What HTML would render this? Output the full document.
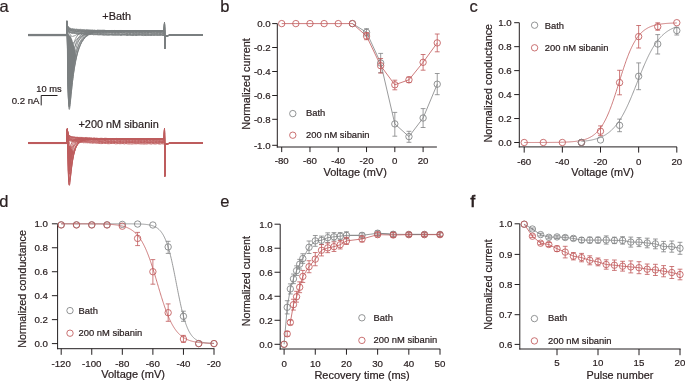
<!DOCTYPE html>
<html><head><meta charset="utf-8"><style>
html,body{margin:0;padding:0;background:#fff;}
body{width:685px;height:381px;overflow:hidden;}
svg{display:block;font-family:"Liberation Sans",sans-serif;will-change:transform;}
text{stroke:#2b2122;stroke-width:0.2px;}
</style></head><body>
<svg width="685" height="381" viewBox="0 0 685 381">
<rect width="685" height="381" fill="#fff"/>
<text x="-0.6" y="12.1" font-size="16.5" text-anchor="start" fill="#2b2122">a</text>
<text x="220.2" y="12.1" font-size="16.5" text-anchor="start" fill="#2b2122">b</text>
<text x="469.6" y="12.4" font-size="16.5" text-anchor="start" fill="#2b2122">c</text>
<text x="-0.8" y="207" font-size="16.5" text-anchor="start" fill="#2b2122">d</text>
<text x="220.2" y="207" font-size="16.5" text-anchor="start" fill="#2b2122">e</text>
<text x="470.4" y="206.7" font-size="16.5" text-anchor="start" fill="#2b2122" style="stroke-width:0.7px">f</text>
<polygon points="66.8,36 67,60 67.4,85 68,100 69,106.5 69.7,108.4 70.1,106 70.2,100 71.2,90 72.3,80 73.6,70 75.2,60 76,56 75,50 73.6,45 72.3,40 70.8,36.5 68,34" fill="#7b7f80" stroke="none"/>
<polygon points="67.4,145 67.6,170 68.1,180 68.8,185.4 69.1,182 69.4,175 70.6,166 72.3,157 73.5,152 71.5,148.5 69.5,145.5 68,144" fill="#bd5c5d" stroke="none"/>
<polyline points="28.2,34.56 66.6,34.56 66.9,22.51 67.15,26.32 67.4,28.93 67.65,29.93 67.9,30.92 68.15,31.37 68.4,31.53 68.65,31.68 68.9,32.23 69.15,31.97 69.4,32.58 69.65,32.35 69.9,32.37 70.15,32.68 70.4,32.67 70.65,32.74 70.9,32.85 71.15,33.19 71.4,33.16 71.65,33.39 71.9,33 72.15,33.35 72.4,33.49 72.65,33.48 72.9,33.25 73.15,33.58 73.4,33.42 73.65,33.22 73.9,33.63 74.15,33.34 74.4,33.63 74.65,33.5 74.9,33.59 75.15,33.62 75.4,33.62 75.65,33.42 75.9,33.92 76.15,33.64 76.4,33.72 76.65,33.87 76.9,33.94 77.15,33.78 77.4,33.83 77.65,33.7 77.9,34.06 78.15,33.99 78.4,34.06 78.65,34.04 78.9,33.94 79.15,33.7 79.4,33.97 79.65,33.96 79.9,33.9 80.15,34.01 80.4,34.06 80.65,33.79 80.9,33.88 81.15,34.23 81.4,34.22 81.65,33.96 81.9,34.19 82.15,33.87 82.4,34.26 82.65,33.95 82.9,34.08 83.15,34 83.4,34.02 83.65,34.31 83.9,34.12 84.15,33.99 84.4,34.2 84.65,34.06 84.9,34.27 85.15,34.33 85.4,34.05 85.65,34.13 85.9,34.15 86.15,34.42 86.4,34.2 86.65,34.5 86.9,34.23 87.15,34.33 87.4,34.3 87.65,34.18 87.9,34.65 88.15,34.33 88.4,34.34 88.65,34.57 88.9,34.33 89.15,34.66 89.4,34.64 89.65,34.52 89.9,34.68 90.15,34.61 90.4,34.46 90.65,34.38 90.9,34.51 91.15,34.35 91.4,34.46 91.65,34.48 91.9,34.78 92.15,34.44 92.4,34.84 92.65,34.53 92.9,34.7 93.15,34.84 93.4,34.83 93.65,34.64 93.9,34.52 94.15,34.45 94.4,34.87 94.65,34.81 94.9,34.86 95.15,34.61 95.4,34.89 95.65,34.94 95.9,34.54 96.15,34.53 96.4,34.52 96.65,34.89 96.9,34.67 98.4,34.93 99.9,34.87 101.4,34.66 102.9,35.1 104.4,35.15 105.9,34.86 107.4,35.17 108.9,35.11 110.4,34.86 111.9,34.85 113.4,35.34 114.9,34.93 116.4,35.01 117.9,34.96 119.4,35.11 120.9,35.4 122.4,35.08 123.9,35.02 125.4,35 126.9,35.49 128.4,35.3 129.9,35.17 131.4,35.48 132.9,35.52 134.4,35.15 135.9,35.54 137.4,35.4 138.9,35.19 140.4,35.23 141.9,35.12 143.4,35.58 144.9,35.41 146.4,35.56 147.9,35.25 149.4,35.26 150.9,35.55 152.4,35.28 153.9,35.4 155.4,35.24 156.9,35.24 158.4,35.4 159.9,35.16 161.4,35.27 162.9,35.38 164.3,35.63 164.5,23.29 164.8,48.57 165.4,36.2 169.4,35.17 202.8,34.67" fill="none" stroke="#7b7f80" stroke-width="0.9" stroke-linejoin="round"/>
<polyline points="28.2,35 66.6,35 66.9,22.28 67.15,26.68 67.4,29 67.65,29.78 67.9,30.47 68.15,30.84 68.4,31.08 68.65,31.27 68.9,31.92 69.15,32.1 69.4,32.17 69.65,32.02 69.9,32.12 70.15,32.48 70.4,32.27 70.65,32.73 70.9,32.67 71.15,32.69 71.4,32.69 71.65,32.59 71.9,32.83 72.15,32.7 72.4,32.78 72.65,32.88 72.9,32.99 73.15,33.13 73.4,32.86 73.65,33.14 73.9,33.13 74.15,33.31 74.4,33.22 74.65,33.11 74.9,33.3 75.15,33.5 75.4,33.39 75.65,33.13 75.9,33.55 76.15,33.52 76.4,33.31 76.65,33.6 76.9,33.54 77.15,33.51 77.4,33.68 77.65,33.54 77.9,33.4 78.15,33.57 78.4,33.33 78.65,33.68 78.9,33.6 79.15,33.72 79.4,33.87 79.65,33.71 79.9,33.87 80.15,33.5 80.4,33.86 80.65,33.81 80.9,33.94 81.15,33.68 81.4,33.72 81.65,33.68 81.9,33.99 82.15,33.61 82.4,33.77 82.65,33.73 82.9,33.97 83.15,33.7 83.4,33.63 83.65,33.94 83.9,33.75 84.15,33.93 84.4,33.97 84.65,34.03 84.9,34.11 85.15,33.99 85.4,34.16 85.65,34.03 85.9,33.9 86.15,34.17 86.4,34.15 86.65,34.27 86.9,34.29 87.15,34.07 87.4,33.98 87.65,34.02 87.9,33.85 88.15,34.09 88.4,34.07 88.65,34.23 88.9,34.22 89.15,34.01 89.4,34.05 89.65,34.37 89.9,34.19 90.15,34.18 90.4,34.16 90.65,34.46 90.9,34.06 91.15,34.25 91.4,34 91.65,34.22 91.9,34.45 92.15,34.39 92.4,34.41 92.65,34.42 92.9,34.38 93.15,34.27 93.4,34.39 93.65,34.47 93.9,34.47 94.15,34.4 94.4,34.24 94.65,34.55 94.9,34.2 95.15,34.37 95.4,34.16 95.65,34.52 95.9,34.33 96.15,34.17 96.4,34.64 96.65,34.38 96.9,34.49 98.4,34.33 99.9,34.41 101.4,34.72 102.9,34.53 104.4,34.75 105.9,34.74 107.4,34.85 108.9,34.77 110.4,34.77 111.9,34.91 113.4,34.7 114.9,35.04 116.4,35 117.9,35.04 119.4,34.77 120.9,35.01 122.4,34.74 123.9,34.74 125.4,34.89 126.9,35.04 128.4,34.82 129.9,34.77 131.4,35.07 132.9,35.1 134.4,35.09 135.9,34.89 137.4,34.94 138.9,34.8 140.4,34.79 141.9,35.21 143.4,34.79 144.9,35.18 146.4,35.09 147.9,35.2 149.4,35.14 150.9,34.99 152.4,34.99 153.9,34.92 155.4,35.04 156.9,34.91 158.4,34.98 159.9,35.27 161.4,34.84 162.9,35.25 164.3,35.1 164.5,22.48 164.8,48.23 165.4,36.2 169.4,35.3 202.8,34.8" fill="none" stroke="#7b7f80" stroke-width="0.9" stroke-linejoin="round"/>
<polyline points="28.2,35.1 66.6,35.1 66.9,22.74 67.15,26.66 67.4,28.35 67.65,29.12 67.9,29.81 68.15,30.27 68.4,30.94 68.65,30.79 68.9,31.4 69.15,31.29 69.4,31.35 69.65,31.76 69.9,31.9 70.15,31.99 70.4,32.07 70.65,32.16 70.9,31.94 71.15,32.27 71.4,32.34 71.65,32.35 71.9,32.32 72.15,32.28 72.4,32.44 72.65,32.62 72.9,32.66 73.15,32.46 73.4,32.45 73.65,32.83 73.9,32.46 74.15,32.86 74.4,32.67 74.65,32.53 74.9,32.76 75.15,32.76 75.4,33.02 75.65,32.87 75.9,33.03 76.15,32.66 76.4,33.03 76.65,32.75 76.9,33.11 77.15,32.88 77.4,32.87 77.65,32.93 77.9,33.18 78.15,33.09 78.4,33.15 78.65,33.33 78.9,33.27 79.15,33.14 79.4,33.31 79.65,32.99 79.9,33.18 80.15,33.11 80.4,32.98 80.65,33.3 80.9,33.14 81.15,33.17 81.4,33.27 81.65,33.11 81.9,33.21 82.15,33.1 82.4,33.32 82.65,33.56 82.9,33.52 83.15,33.58 83.4,33.2 83.65,33.44 83.9,33.56 84.15,33.55 84.4,33.66 84.65,33.41 84.9,33.71 85.15,33.31 85.4,33.59 85.65,33.71 85.9,33.47 86.15,33.31 86.4,33.57 86.65,33.36 86.9,33.63 87.15,33.37 87.4,33.77 87.65,33.44 87.9,33.37 88.15,33.8 88.4,33.53 88.65,33.7 88.9,33.85 89.15,33.76 89.4,33.9 89.65,33.8 89.9,33.95 90.15,33.56 90.4,33.86 90.65,33.73 90.9,33.93 91.15,33.79 91.4,33.94 91.65,33.62 91.9,33.88 92.15,33.6 92.4,33.99 92.65,34.04 92.9,33.85 93.15,33.84 93.4,33.99 93.65,33.8 93.9,33.76 94.15,33.86 94.4,33.89 94.65,33.71 94.9,34.13 95.15,33.93 95.4,33.85 95.65,34.11 95.9,34.12 96.15,34.1 96.4,33.92 96.65,33.88 96.9,33.94 98.4,33.97 99.9,33.96 101.4,33.83 102.9,33.99 104.4,34.19 105.9,34.42 107.4,34.21 108.9,34.33 110.4,34.39 111.9,34.39 113.4,34.54 114.9,34.12 116.4,34.57 117.9,34.12 119.4,34.37 120.9,34.34 122.4,34.57 123.9,34.48 125.4,34.46 126.9,34.37 128.4,34.69 129.9,34.49 131.4,34.56 132.9,34.37 134.4,34.48 135.9,34.68 137.4,34.6 138.9,34.46 140.4,34.42 141.9,34.73 143.4,34.71 144.9,34.48 146.4,34.4 147.9,34.51 149.4,34.8 150.9,34.55 152.4,34.58 153.9,34.69 155.4,34.56 156.9,34.82 158.4,34.79 159.9,34.46 161.4,34.55 162.9,34.75 164.3,34.57 164.5,22.34 164.8,48.39 165.4,36.2 169.4,35.33 202.8,34.83" fill="none" stroke="#7b7f80" stroke-width="0.9" stroke-linejoin="round"/>
<polyline points="28.2,35.25 66.6,35.25 66.9,21.66 67.15,25.74 67.4,28.18 67.65,29.02 67.9,29.52 68.15,30.1 68.4,30.17 68.65,30.55 68.9,30.83 69.15,31.14 69.4,31.12 69.65,31.15 69.9,31.42 70.15,31.65 70.4,31.54 70.65,31.44 70.9,31.58 71.15,31.79 71.4,31.86 71.65,31.75 71.9,31.97 72.15,31.94 72.4,31.78 72.65,32.12 72.9,31.96 73.15,32.37 73.4,32.21 73.65,31.95 73.9,32.04 74.15,32.38 74.4,32.05 74.65,32.41 74.9,32.23 75.15,32.12 75.4,32.19 75.65,32.61 75.9,32.29 76.15,32.33 76.4,32.37 76.65,32.41 76.9,32.57 77.15,32.57 77.4,32.49 77.65,32.62 77.9,32.61 78.15,32.54 78.4,32.68 78.65,32.41 78.9,32.49 79.15,32.63 79.4,32.56 79.65,32.71 79.9,32.67 80.15,32.67 80.4,32.77 80.65,32.94 80.9,32.87 81.15,32.7 81.4,32.64 81.65,32.65 81.9,32.7 82.15,33.03 82.4,33.07 82.65,33.06 82.9,32.87 83.15,32.97 83.4,33.01 83.65,32.99 83.9,33.18 84.15,33.04 84.4,33.01 84.65,32.98 84.9,33.06 85.15,33.24 85.4,33.09 85.65,33.03 85.9,33.16 86.15,32.84 86.4,32.91 86.65,33.03 86.9,33.35 87.15,33.2 87.4,33.29 87.65,33.3 87.9,33.19 88.15,33 88.4,33.39 88.65,33.38 88.9,33.28 89.15,33.35 89.4,33.19 89.65,33.13 89.9,33.21 90.15,33.32 90.4,33.04 90.65,33.47 90.9,33.36 91.15,33.21 91.4,33.54 91.65,33.51 91.9,33.49 92.15,33.44 92.4,33.26 92.65,33.43 92.9,33.34 93.15,33.36 93.4,33.49 93.65,33.36 93.9,33.43 94.15,33.57 94.4,33.35 94.65,33.18 94.9,33.27 95.15,33.52 95.4,33.34 95.65,33.69 95.9,33.68 96.15,33.42 96.4,33.59 96.65,33.5 96.9,33.24 98.4,33.78 99.9,33.66 101.4,33.48 102.9,33.87 104.4,33.52 105.9,33.72 107.4,33.89 108.9,33.88 110.4,33.89 111.9,33.84 113.4,33.98 114.9,33.94 116.4,33.91 117.9,33.89 119.4,33.79 120.9,34.16 122.4,33.84 123.9,34.01 125.4,34.08 126.9,34 128.4,34 129.9,33.84 131.4,33.96 132.9,34.19 134.4,33.86 135.9,34.22 137.4,34.11 138.9,33.98 140.4,33.94 141.9,33.96 143.4,33.9 144.9,33.96 146.4,34.24 147.9,33.94 149.4,34.28 150.9,34.13 152.4,33.95 153.9,33.9 155.4,33.89 156.9,34.05 158.4,34.16 159.9,34.14 161.4,33.99 162.9,34.02 164.3,34.03 164.5,22.99 164.8,47.32 165.4,36.2 169.4,35.37 202.8,34.87" fill="none" stroke="#7b7f80" stroke-width="0.9" stroke-linejoin="round"/>
<polyline points="28.2,34.83 66.6,34.83 66.9,22.35 67.15,25.57 67.4,27.08 67.65,28.17 67.9,28.75 68.15,29.33 68.4,29.71 68.65,29.6 68.9,29.94 69.15,30.43 69.4,30.16 69.65,30.56 69.9,30.46 70.15,30.52 70.4,30.91 70.65,30.83 70.9,30.78 71.15,30.9 71.4,30.9 71.65,31.27 71.9,31.18 72.15,31.12 72.4,31.36 72.65,31.32 72.9,31.59 73.15,31.35 73.4,31.22 73.65,31.26 73.9,31.46 74.15,31.36 74.4,31.55 74.65,31.76 74.9,31.67 75.15,31.57 75.4,31.86 75.65,31.5 75.9,31.69 76.15,31.63 76.4,31.96 76.65,31.52 76.9,31.74 77.15,31.62 77.4,32 77.65,31.59 77.9,32.08 78.15,31.8 78.4,32.02 78.65,31.96 78.9,32.11 79.15,32.14 79.4,32.14 79.65,31.92 79.9,31.88 80.15,32.03 80.4,31.89 80.65,32.17 80.9,32 81.15,32.2 81.4,31.88 81.65,31.84 81.9,32.02 82.15,32.14 82.4,32.17 82.65,32.21 82.9,32.13 83.15,32.33 83.4,32.02 83.65,32.06 83.9,32.04 84.15,32.14 84.4,32.4 84.65,32.43 84.9,32.04 85.15,32.35 85.4,32.18 85.65,32.33 85.9,32.38 86.15,32.17 86.4,32.23 86.65,32.25 86.9,32.25 87.15,32.27 87.4,32.51 87.65,32.59 87.9,32.57 88.15,32.33 88.4,32.62 88.65,32.42 88.9,32.58 89.15,32.38 89.4,32.67 89.65,32.53 89.9,32.69 90.15,32.75 90.4,32.33 90.65,32.57 90.9,32.42 91.15,32.33 91.4,32.48 91.65,32.68 91.9,32.8 92.15,32.83 92.4,32.47 92.65,32.36 92.9,32.41 93.15,32.39 93.4,32.49 93.65,32.64 93.9,32.6 94.15,32.51 94.4,32.76 94.65,32.89 94.9,32.67 95.15,32.45 95.4,32.77 95.65,32.94 95.9,32.82 96.15,32.51 96.4,32.83 96.65,32.97 96.9,32.78 98.4,32.79 99.9,32.92 101.4,33.05 102.9,32.89 104.4,33.03 105.9,33 107.4,33.06 108.9,32.93 110.4,32.83 111.9,33.27 113.4,33.07 114.9,33.33 116.4,33.2 117.9,33.13 119.4,33.1 120.9,32.94 122.4,33.33 123.9,32.98 125.4,33.28 126.9,33.43 128.4,33.05 129.9,33.51 131.4,33.09 132.9,33.51 134.4,33.16 135.9,33.4 137.4,33.44 138.9,33.35 140.4,33.22 141.9,33.34 143.4,33.52 144.9,33.19 146.4,33.4 147.9,33.41 149.4,33.3 150.9,33.18 152.4,33.48 153.9,33.12 155.4,33.27 156.9,33.46 158.4,33.31 159.9,33.56 161.4,33.29 162.9,33.42 164.3,33.5 164.5,22.44 164.8,47.98 165.4,36.2 169.4,35.25 202.8,34.75" fill="none" stroke="#7b7f80" stroke-width="0.9" stroke-linejoin="round"/>
<polyline points="28.2,34.73 66.6,34.73 66.9,20.69 67.15,24.75 67.4,26.98 67.65,27.89 67.9,28.21 68.15,28.56 68.4,29 68.65,29.06 68.9,29.69 69.15,29.38 69.4,29.89 69.65,29.69 69.9,30.05 70.15,29.89 70.4,30.08 70.65,30.2 70.9,30.25 71.15,30.3 71.4,30.37 71.65,30.53 71.9,30.56 72.15,30.5 72.4,30.83 72.65,30.57 72.9,30.57 73.15,30.99 73.4,31 73.65,30.64 73.9,30.82 74.15,30.9 74.4,31.03 74.65,30.83 74.9,30.81 75.15,31.18 75.4,30.94 75.65,31.03 75.9,30.86 76.15,30.96 76.4,31.11 76.65,31.24 76.9,31.36 77.15,31.16 77.4,31.38 77.65,31.44 77.9,31.06 78.15,31.42 78.4,31.3 78.65,31.52 78.9,31.26 79.15,31.27 79.4,31.34 79.65,31.19 79.9,31.42 80.15,31.51 80.4,31.4 80.65,31.26 80.9,31.51 81.15,31.54 81.4,31.66 81.65,31.47 81.9,31.71 82.15,31.7 82.4,31.33 82.65,31.58 82.9,31.69 83.15,31.52 83.4,31.61 83.65,31.8 83.9,31.7 84.15,31.57 84.4,31.88 84.65,31.56 84.9,31.92 85.15,31.57 85.4,31.62 85.65,31.65 85.9,31.96 86.15,31.5 86.4,31.58 86.65,31.97 86.9,31.65 87.15,31.8 87.4,31.83 87.65,31.84 87.9,32.02 88.15,31.83 88.4,31.78 88.65,31.65 88.9,32.01 89.15,31.74 89.4,31.83 89.65,31.84 89.9,32.01 90.15,31.72 90.4,31.79 90.65,31.99 90.9,32.04 91.15,31.73 91.4,31.97 91.65,31.76 91.9,32.03 92.15,31.79 92.4,32.14 92.65,32.27 92.9,32.23 93.15,32.03 93.4,31.84 93.65,32.14 93.9,31.83 94.15,31.99 94.4,32.25 94.65,32 94.9,32.33 95.15,32.18 95.4,32.09 95.65,31.99 95.9,32.21 96.15,32.18 96.4,32.24 96.65,32.09 96.9,32.18 98.4,32.4 99.9,32.23 101.4,32.53 102.9,32.44 104.4,32.48 105.9,32.39 107.4,32.52 108.9,32.59 110.4,32.47 111.9,32.52 113.4,32.64 114.9,32.58 116.4,32.67 117.9,32.55 119.4,32.67 120.9,32.4 122.4,32.55 123.9,32.61 125.4,32.88 126.9,32.9 128.4,32.67 129.9,32.55 131.4,32.47 132.9,32.71 134.4,32.96 135.9,32.6 137.4,32.64 138.9,32.94 140.4,32.64 141.9,32.71 143.4,32.78 144.9,32.82 146.4,32.81 147.9,32.66 149.4,32.52 150.9,32.58 152.4,32.86 153.9,32.84 155.4,32.94 156.9,32.96 158.4,32.9 159.9,32.74 161.4,32.64 162.9,32.98 164.3,32.97 164.5,22.05 164.8,48.51 165.4,36.2 169.4,35.22 202.8,34.72" fill="none" stroke="#7b7f80" stroke-width="0.9" stroke-linejoin="round"/>
<polyline points="28.2,35.57 66.6,35.57 66.9,22.03 67.15,25.72 67.4,26.7 67.65,27.74 67.9,28.36 68.15,28.79 68.4,29.06 68.65,29.33 68.9,29.11 69.15,29.73 69.4,29.67 69.65,29.82 69.9,30.11 70.15,30.01 70.4,29.93 70.65,30.25 70.9,30.42 71.15,30.31 71.4,30.19 71.65,30.22 71.9,30.43 72.15,30.43 72.4,30.57 72.65,30.74 72.9,30.7 73.15,30.82 73.4,30.72 73.65,30.73 73.9,30.8 74.15,30.97 74.4,30.87 74.65,30.97 74.9,30.93 75.15,30.9 75.4,30.95 75.65,30.83 75.9,31.03 76.15,31.14 76.4,31.15 76.65,31.26 76.9,30.99 77.15,31.16 77.4,31.24 77.65,31.01 77.9,31.09 78.15,31.24 78.4,31.12 78.65,31.42 78.9,31.35 79.15,31.09 79.4,31.3 79.65,31.37 79.9,31.24 80.15,31.09 80.4,31.14 80.65,31.44 80.9,31.47 81.15,31.33 81.4,31.44 81.65,31.63 81.9,31.26 82.15,31.65 82.4,31.67 82.65,31.49 82.9,31.28 83.15,31.62 83.4,31.4 83.65,31.43 83.9,31.39 84.15,31.53 84.4,31.34 84.65,31.59 84.9,31.5 85.15,31.78 85.4,31.38 85.65,31.62 85.9,31.73 86.15,31.84 86.4,31.75 86.65,31.82 86.9,31.82 87.15,31.82 87.4,31.64 87.65,31.82 87.9,31.73 88.15,31.81 88.4,31.68 88.65,31.88 88.9,31.7 89.15,31.63 89.4,31.65 89.65,31.88 89.9,31.86 90.15,31.59 90.4,31.98 90.65,31.8 90.9,31.8 91.15,31.95 91.4,32.07 91.65,31.92 91.9,31.86 92.15,31.91 92.4,31.83 92.65,31.78 92.9,31.89 93.15,31.69 93.4,31.83 93.65,31.71 93.9,32.1 94.15,31.93 94.4,32.03 94.65,32 94.9,32.21 95.15,32.02 95.4,32.21 95.65,32 95.9,31.99 96.15,32.08 96.4,31.97 96.65,31.85 96.9,31.86 98.4,31.89 99.9,32.34 101.4,32.08 102.9,32.25 104.4,32.19 105.9,32.32 107.4,32.37 108.9,32.22 110.4,32.27 111.9,32.37 113.4,32.29 114.9,32.53 116.4,32.49 117.9,32.47 119.4,32.61 120.9,32.45 122.4,32.56 123.9,32.59 125.4,32.32 126.9,32.79 128.4,32.72 129.9,32.74 131.4,32.6 132.9,32.39 134.4,32.85 135.9,32.58 137.4,32.82 138.9,32.43 140.4,32.65 141.9,32.69 143.4,32.62 144.9,32.53 146.4,32.74 147.9,32.46 149.4,32.71 150.9,32.76 152.4,32.64 153.9,32.68 155.4,32.76 156.9,32.45 158.4,32.45 159.9,32.58 161.4,32.51 162.9,32.87 164.3,32.43 164.5,22.13 164.8,48.27 165.4,36.2 169.4,35.47 202.8,34.97" fill="none" stroke="#7b7f80" stroke-width="0.9" stroke-linejoin="round"/>
<polyline points="28.2,35.23 66.6,35.23 66.9,22.02 67.15,24.48 67.4,26.26 67.65,27.17 67.9,27.54 68.15,27.88 68.4,28.34 68.65,28.56 68.9,28.7 69.15,28.77 69.4,28.89 69.65,29.3 69.9,29.35 70.15,29.53 70.4,29.59 70.65,29.34 70.9,29.65 71.15,29.64 71.4,29.78 71.65,29.88 71.9,29.69 72.15,29.94 72.4,30.08 72.65,30.01 72.9,29.72 73.15,29.97 73.4,29.83 73.65,30.12 73.9,30.18 74.15,30.11 74.4,30 74.65,30 74.9,30.25 75.15,30.4 75.4,30.26 75.65,30.38 75.9,30.5 76.15,30.11 76.4,30.37 76.65,30.19 76.9,30.4 77.15,30.54 77.4,30.54 77.65,30.52 77.9,30.66 78.15,30.21 78.4,30.68 78.65,30.46 78.9,30.4 79.15,30.48 79.4,30.3 79.65,30.37 79.9,30.81 80.15,30.76 80.4,30.37 80.65,30.58 80.9,30.72 81.15,30.45 81.4,30.59 81.65,30.47 81.9,30.6 82.15,30.73 82.4,30.9 82.65,30.58 82.9,30.95 83.15,30.82 83.4,30.85 83.65,30.71 83.9,30.98 84.15,30.73 84.4,30.83 84.65,31 84.9,30.74 85.15,30.76 85.4,30.73 85.65,31.11 85.9,30.98 86.15,31.13 86.4,30.71 86.65,31.1 86.9,30.87 87.15,31.05 87.4,31.14 87.65,30.79 87.9,30.88 88.15,31.13 88.4,30.79 88.65,31.03 88.9,30.9 89.15,30.93 89.4,31.28 89.65,31.01 89.9,30.86 90.15,31.25 90.4,30.89 90.65,31.11 90.9,31.01 91.15,31 91.4,31.36 91.65,31.26 91.9,30.94 92.15,30.95 92.4,31.19 92.65,31.43 92.9,31.04 93.15,31.04 93.4,31.03 93.65,31.09 93.9,31.14 94.15,31.28 94.4,31.28 94.65,31.17 94.9,31.28 95.15,31.49 95.4,31.07 95.65,31.22 95.9,31.27 96.15,31.44 96.4,31.5 96.65,31.12 96.9,31.16 98.4,31.34 99.9,31.21 101.4,31.58 102.9,31.71 104.4,31.58 105.9,31.58 107.4,31.43 108.9,31.62 110.4,31.82 111.9,31.44 113.4,31.87 114.9,31.76 116.4,31.58 117.9,31.79 119.4,31.99 120.9,31.87 122.4,31.59 123.9,31.81 125.4,31.77 126.9,31.89 128.4,31.83 129.9,31.79 131.4,31.91 132.9,31.94 134.4,31.99 135.9,32.05 137.4,31.87 138.9,31.7 140.4,32.12 141.9,32.06 143.4,31.91 144.9,32.13 146.4,31.83 147.9,32.08 149.4,31.77 150.9,32.05 152.4,32.08 153.9,31.91 155.4,31.84 156.9,31.73 158.4,32.04 159.9,31.84 161.4,31.81 162.9,32.05 164.3,31.9 164.5,23.17 164.8,48.12 165.4,36.2 169.4,35.37 202.8,34.87" fill="none" stroke="#7b7f80" stroke-width="0.9" stroke-linejoin="round"/>
<polyline points="28.2,35.37 66.6,35.37 66.9,22.11 67.15,24.85 67.4,26.05 67.65,26.26 67.9,26.95 68.15,27.5 68.4,27.49 68.65,27.84 68.9,28.09 69.15,28.45 69.4,28.5 69.65,28.88 69.9,28.69 70.15,28.6 70.4,29 70.65,29.19 70.9,29.32 71.15,29.4 71.4,29.39 71.65,29.38 71.9,29.33 72.15,29.29 72.4,29.2 72.65,29.58 72.9,29.46 73.15,29.53 73.4,29.56 73.65,29.83 73.9,29.51 74.15,29.75 74.4,29.7 74.65,29.63 74.9,29.91 75.15,29.61 75.4,29.85 75.65,29.98 75.9,30.06 76.15,29.71 76.4,30.01 76.65,29.7 76.9,29.73 77.15,29.94 77.4,30.08 77.65,29.73 77.9,30.09 78.15,30.04 78.4,30.21 78.65,30.24 78.9,29.83 79.15,30.03 79.4,30.04 79.65,30.21 79.9,29.99 80.15,29.9 80.4,30.38 80.65,30.21 80.9,30.21 81.15,30.01 81.4,30.38 81.65,30.07 81.9,30.1 82.15,30.46 82.4,30.4 82.65,30.46 82.9,30.25 83.15,30.41 83.4,30.11 83.65,30.17 83.9,30.32 84.15,30.33 84.4,30.59 84.65,30.18 84.9,30.54 85.15,30.45 85.4,30.27 85.65,30.2 85.9,30.57 86.15,30.49 86.4,30.72 86.65,30.37 86.9,30.31 87.15,30.39 87.4,30.43 87.65,30.3 87.9,30.62 88.15,30.7 88.4,30.78 88.65,30.55 88.9,30.73 89.15,30.8 89.4,30.71 89.65,30.4 89.9,30.61 90.15,30.72 90.4,30.78 90.65,30.92 90.9,30.89 91.15,30.74 91.4,30.62 91.65,30.48 91.9,30.87 92.15,30.78 92.4,30.57 92.65,30.86 92.9,30.99 93.15,30.85 93.4,30.72 93.65,30.74 93.9,30.62 94.15,31.04 94.4,31.01 94.65,30.82 94.9,30.88 95.15,30.78 95.4,30.95 95.65,30.97 95.9,30.92 96.15,30.75 96.4,30.63 96.65,30.97 96.9,30.69 98.4,30.91 99.9,30.74 101.4,31.17 102.9,30.81 104.4,30.85 105.9,31.27 107.4,31.31 108.9,31.4 110.4,31.35 111.9,31.25 113.4,31.42 114.9,31.42 116.4,31.28 117.9,31.38 119.4,31.49 120.9,31.48 122.4,31.1 123.9,31.16 125.4,31.56 126.9,31.27 128.4,31.61 129.9,31.55 131.4,31.22 132.9,31.28 134.4,31.57 135.9,31.63 137.4,31.38 138.9,31.25 140.4,31.55 141.9,31.4 143.4,31.33 144.9,31.3 146.4,31.54 147.9,31.66 149.4,31.3 150.9,31.46 152.4,31.3 153.9,31.4 155.4,31.35 156.9,31.68 158.4,31.43 159.9,31.76 161.4,31.34 162.9,31.31 164.3,31.37 164.5,23.2 164.8,48.39 165.4,36.2 169.4,35.41 202.8,34.91" fill="none" stroke="#7b7f80" stroke-width="0.9" stroke-linejoin="round"/>
<polyline points="28.2,34.66 66.6,34.66 66.9,21.4 67.15,24.33 67.4,25.46 67.65,25.8 67.9,26.4 68.15,26.87 68.4,26.97 68.65,27.55 68.9,27.31 69.15,27.94 69.4,27.98 69.65,28.21 69.9,28.22 70.15,28.16 70.4,28.17 70.65,28.62 70.9,28.39 71.15,28.46 71.4,28.7 71.65,28.78 71.9,28.63 72.15,28.9 72.4,28.66 72.65,28.76 72.9,28.63 73.15,29.13 73.4,29.06 73.65,28.98 73.9,28.96 74.15,28.81 74.4,29.09 74.65,29.06 74.9,29.1 75.15,29.27 75.4,29.35 75.65,29.03 75.9,29.22 76.15,29.11 76.4,29.11 76.65,29.16 76.9,29.19 77.15,29.18 77.4,29.52 77.65,29.33 77.9,29.25 78.15,29.29 78.4,29.33 78.65,29.63 78.9,29.42 79.15,29.63 79.4,29.5 79.65,29.38 79.9,29.39 80.15,29.31 80.4,29.62 80.65,29.29 80.9,29.48 81.15,29.68 81.4,29.35 81.65,29.57 81.9,29.77 82.15,29.78 82.4,29.5 82.65,29.56 82.9,29.44 83.15,29.92 83.4,29.78 83.65,29.69 83.9,29.98 84.15,29.79 84.4,29.61 84.65,29.57 84.9,29.74 85.15,29.94 85.4,30.03 85.65,29.82 85.9,29.91 86.15,29.71 86.4,29.75 86.65,29.66 86.9,30.01 87.15,29.8 87.4,29.68 87.65,29.8 87.9,29.7 88.15,29.7 88.4,29.7 88.65,29.76 88.9,30.07 89.15,30.13 89.4,30.07 89.65,30.12 89.9,29.97 90.15,29.78 90.4,30.1 90.65,30.22 90.9,30.27 91.15,30.03 91.4,29.87 91.65,30.11 91.9,30.18 92.15,30.15 92.4,29.99 92.65,30 92.9,29.96 93.15,30.07 93.4,30.15 93.65,30.34 93.9,29.93 94.15,30.01 94.4,30.02 94.65,30.25 94.9,30.08 95.15,30.15 95.4,30.4 95.65,30.45 95.9,30.41 96.15,30.42 96.4,30.14 96.65,30.44 96.9,30.09 98.4,30.13 99.9,30.23 101.4,30.24 102.9,30.2 104.4,30.21 105.9,30.55 107.4,30.68 108.9,30.51 110.4,30.63 111.9,30.44 113.4,30.56 114.9,30.43 116.4,30.76 117.9,30.71 119.4,30.5 120.9,30.48 122.4,30.53 123.9,30.83 125.4,30.84 126.9,30.56 128.4,30.78 129.9,30.97 131.4,31.01 132.9,30.64 134.4,30.9 135.9,30.63 137.4,30.85 138.9,30.73 140.4,30.62 141.9,30.93 143.4,30.96 144.9,30.74 146.4,30.65 147.9,31 149.4,30.73 150.9,31.05 152.4,30.66 153.9,30.73 155.4,30.76 156.9,30.94 158.4,30.92 159.9,31.14 161.4,30.93 162.9,30.69 164.3,31.1 164.5,22.79 164.8,48.53 165.4,36.2 169.4,35.2 202.8,34.7" fill="none" stroke="#7b7f80" stroke-width="0.9" stroke-linejoin="round"/>
<polyline points="28.2,35.08 66.6,35.08 66.9,21.84 67.15,24.33 67.4,25.65 67.65,26.33 67.9,26.66 68.15,27.13 68.4,27.49 68.65,27.45 68.9,28.15 69.15,28.09 69.4,28.28 69.65,28.28 69.9,28.59 70.15,28.58 70.4,28.74 70.65,28.74 70.9,29 71.15,29.29 71.4,28.98 71.65,29.36 71.9,29.22 72.15,29.14 72.4,29.34 72.65,29.28 72.9,29.63 73.15,29.77 73.4,29.59 73.65,29.64 73.9,29.86 74.15,29.64 74.4,29.71 74.65,29.79 74.9,29.82 75.15,29.94 75.4,29.96 75.65,29.98 75.9,29.65 76.15,29.84 76.4,29.87 76.65,30.1 76.9,29.82 77.15,29.86 77.4,30.15 77.65,29.78 77.9,29.87 78.15,30.17 78.4,30.13 78.65,30.14 78.9,30.2 79.15,29.82 79.4,30.27 79.65,30.1 79.9,30.06 80.15,30.08 80.4,29.89 80.65,30.23 80.9,29.91 81.15,30.32 81.4,30.35 81.65,30.07 81.9,29.93 82.15,29.9 82.4,30.08 82.65,30.23 82.9,30.32 83.15,30.09 83.4,30.31 83.65,30.06 83.9,30.13 84.15,30 84.4,30.07 84.65,30.47 84.9,30.4 85.15,30.45 85.4,30.38 85.65,30.48 85.9,30.53 86.15,30.18 86.4,30.3 86.65,30.21 86.9,30.19 87.15,30.3 87.4,30.09 87.65,30.48 87.9,30.56 88.15,30.57 88.4,30.29 88.65,30.62 88.9,30.41 89.15,30.22 89.4,30.22 89.65,30.64 89.9,30.23 90.15,30.61 90.4,30.2 90.65,30.32 90.9,30.27 91.15,30.23 91.4,30.57 91.65,30.37 91.9,30.43 92.15,30.45 92.4,30.47 92.65,30.25 92.9,30.67 93.15,30.65 93.4,30.76 93.65,30.66 93.9,30.63 94.15,30.65 94.4,30.4 94.65,30.6 94.9,30.41 95.15,30.76 95.4,30.49 95.65,30.72 95.9,30.43 96.15,30.6 96.4,30.69 96.65,30.52 96.9,30.44 98.4,30.81 99.9,30.87 101.4,30.94 102.9,30.5 104.4,30.62 105.9,30.7 107.4,30.8 108.9,30.6 110.4,30.76 111.9,30.78 113.4,30.78 114.9,30.79 116.4,30.99 117.9,31.02 119.4,30.76 120.9,30.72 122.4,30.84 123.9,31.19 125.4,31.01 126.9,30.86 128.4,30.78 129.9,31.24 131.4,31.14 132.9,31.06 134.4,31.28 135.9,31 137.4,31.16 138.9,31.07 140.4,31.16 141.9,30.99 143.4,31.08 144.9,31.1 146.4,30.94 147.9,31.09 149.4,31.16 150.9,30.88 152.4,31.11 153.9,31.01 155.4,30.89 156.9,31.06 158.4,30.87 159.9,31.19 161.4,31.18 162.9,31.01 164.3,31.1 164.5,23.43 164.8,47.51 165.4,36.2 169.4,35.32 202.8,34.82" fill="none" stroke="#7b7f80" stroke-width="0.9" stroke-linejoin="round"/>
<polyline points="28.2,34.77 66.6,34.77 66.9,21.45 67.15,23.99 67.4,25.52 67.65,26.01 67.9,26.66 68.15,27.52 68.4,27.6 68.65,28.33 68.9,28.56 69.15,28.73 69.4,28.98 69.65,29.71 69.9,29.79 70.15,29.86 70.4,30.41 70.65,30.55 70.9,30.67 71.15,30.49 71.4,30.5 71.65,30.84 71.9,30.85 72.15,31.11 72.4,30.86 72.65,31.05 72.9,31.36 73.15,31.41 73.4,31.14 73.65,31.04 73.9,31.24 74.15,31.28 74.4,31.25 74.65,31.23 74.9,31.15 75.15,31.35 75.4,31.33 75.65,31.2 75.9,31.09 76.15,31.07 76.4,31.41 76.65,31.44 76.9,31.08 77.15,30.96 77.4,31.14 77.65,31.35 77.9,31.3 78.15,31.13 78.4,30.99 78.65,31.21 78.9,31.05 79.15,31.05 79.4,30.86 79.65,31.11 79.9,31.2 80.15,31.09 80.4,30.92 80.65,31.14 80.9,31.09 81.15,31.02 81.4,31.08 81.65,31.11 81.9,31.12 82.15,30.73 82.4,30.85 82.65,30.84 82.9,30.85 83.15,30.78 83.4,30.8 83.65,31.15 83.9,31.06 84.15,30.66 84.4,30.83 84.65,31.03 84.9,30.63 85.15,30.62 85.4,30.89 85.65,31.01 85.9,30.61 86.15,31.02 86.4,30.65 86.65,30.59 86.9,30.82 87.15,30.86 87.4,30.8 87.65,30.66 87.9,30.79 88.15,30.87 88.4,30.77 88.65,30.94 88.9,30.99 89.15,31 89.4,30.98 89.65,30.57 89.9,30.82 90.15,30.85 90.4,30.62 90.65,30.95 90.9,30.56 91.15,30.66 91.4,30.54 91.65,30.92 91.9,30.69 92.15,30.77 92.4,30.59 92.65,30.92 92.9,30.65 93.15,30.57 93.4,30.56 93.65,30.72 93.9,30.95 94.15,30.69 94.4,30.87 94.65,30.81 94.9,30.71 95.15,30.55 95.4,30.68 95.65,30.62 95.9,30.71 96.15,30.68 96.4,30.82 96.65,30.6 96.9,30.78 98.4,30.94 99.9,30.65 101.4,30.81 102.9,30.52 104.4,30.69 105.9,30.54 107.4,30.52 108.9,30.56 110.4,30.8 111.9,31.03 113.4,30.88 114.9,30.73 116.4,31.04 117.9,30.74 119.4,30.99 120.9,30.63 122.4,30.92 123.9,30.98 125.4,30.71 126.9,30.94 128.4,31.1 129.9,30.78 131.4,30.94 132.9,31.03 134.4,30.66 135.9,31.14 137.4,30.66 138.9,30.71 140.4,30.99 141.9,30.95 143.4,31.13 144.9,31.12 146.4,30.79 147.9,30.77 149.4,30.91 150.9,31.15 152.4,30.87 153.9,30.83 155.4,30.84 156.9,31.1 158.4,31.16 159.9,31.11 161.4,31.19 162.9,30.75 164.3,31.1 164.5,23.15 164.8,48.14 165.4,36.2 169.4,35.23 202.8,34.73" fill="none" stroke="#7b7f80" stroke-width="0.9" stroke-linejoin="round"/>
<polyline points="28.2,35.17 66.6,35.17 66.9,21.41 67.15,24.48 67.4,25.49 67.65,26.82 67.9,28.13 68.15,29.12 68.4,30 68.65,30.59 68.9,31.75 69.15,32.4 69.4,33.26 69.65,33.48 69.9,34.19 70.15,34.64 70.4,35.22 70.65,35.39 70.9,35.51 71.15,35.96 71.4,36.06 71.65,36.11 71.9,36.25 72.15,36.01 72.4,36.29 72.65,35.94 72.9,36.21 73.15,35.92 73.4,36.05 73.65,36.11 73.9,35.92 74.15,35.8 74.4,35.82 74.65,35.77 74.9,35.71 75.15,35.52 75.4,35.28 75.65,35.41 75.9,35.17 76.15,34.9 76.4,34.75 76.65,34.88 76.9,34.54 77.15,34.68 77.4,34.73 77.65,34.58 77.9,34.31 78.15,34.5 78.4,34.4 78.65,34.37 78.9,34.24 79.15,33.88 79.4,34.08 79.65,33.81 79.9,33.93 80.15,33.7 80.4,33.47 80.65,33.36 80.9,33.45 81.15,33.53 81.4,33.23 81.65,33.33 81.9,33.4 82.15,33.08 82.4,33.08 82.65,33.27 82.9,33.21 83.15,32.73 83.4,33.06 83.65,32.83 83.9,32.77 84.15,32.52 84.4,32.49 84.65,32.9 84.9,32.64 85.15,32.69 85.4,32.65 85.65,32.72 85.9,32.46 86.15,32.42 86.4,32.58 86.65,32.47 86.9,32.21 87.15,32.5 87.4,32.04 87.65,32.38 87.9,32.21 88.15,32.06 88.4,32.23 88.65,32.17 88.9,31.81 89.15,32.13 89.4,32.07 89.65,31.89 89.9,31.88 90.15,31.81 90.4,31.98 90.65,31.67 90.9,31.9 91.15,31.77 91.4,31.83 91.65,31.91 91.9,31.55 92.15,31.79 92.4,31.87 92.65,31.54 92.9,31.75 93.15,31.89 93.4,31.58 93.65,31.49 93.9,31.76 94.15,31.36 94.4,31.66 94.65,31.31 94.9,31.54 95.15,31.36 95.4,31.3 95.65,31.39 95.9,31.47 96.15,31.66 96.4,31.43 96.65,31.21 96.9,31.33 98.4,31.34 99.9,31.08 101.4,31.28 102.9,31.1 104.4,31.14 105.9,31.35 107.4,31.25 108.9,31.05 110.4,30.95 111.9,30.89 113.4,30.96 114.9,31.31 116.4,31.27 117.9,30.96 119.4,30.85 120.9,31.05 122.4,30.83 123.9,31.25 125.4,30.9 126.9,31.07 128.4,30.98 129.9,31.22 131.4,30.95 132.9,31.15 134.4,31.19 135.9,31.09 137.4,30.89 138.9,31.03 140.4,30.92 141.9,31.23 143.4,31.04 144.9,30.91 146.4,31.32 147.9,31.11 149.4,31.18 150.9,31.31 152.4,31.18 153.9,31.34 155.4,30.97 156.9,31.09 158.4,31.27 159.9,30.97 161.4,31.21 162.9,30.96 164.3,31.1 164.5,22.97 164.8,48.61 165.4,36.2 169.4,35.35 202.8,34.85" fill="none" stroke="#7b7f80" stroke-width="0.9" stroke-linejoin="round"/>
<polyline points="28.2,35.1 66.6,35.1 66.9,22.2 67.15,24.33 67.4,26.78 67.65,28.71 67.9,30.81 68.15,33.18 68.4,35.28 68.65,37.19 68.9,38.83 69.15,40.24 69.4,41.5 69.65,42.38 69.9,43.13 70.15,43.96 70.4,44.3 70.65,44.71 70.9,44.41 71.15,44.87 71.4,44.59 71.65,44.44 71.9,44.43 72.15,44.03 72.4,43.87 72.65,43.61 72.9,43.74 73.15,43.49 73.4,42.97 73.65,42.46 73.9,42.3 74.15,42.33 74.4,42.1 74.65,41.78 74.9,41.34 75.15,41.2 75.4,40.76 75.65,40.55 75.9,40.42 76.15,40.24 76.4,39.92 76.65,39.81 76.9,39.25 77.15,39.06 77.4,38.85 77.65,38.43 77.9,38.45 78.15,38.12 78.4,37.84 78.65,37.85 78.9,37.65 79.15,37.27 79.4,37.43 79.65,37.38 79.9,36.73 80.15,36.81 80.4,36.68 80.65,36.23 80.9,36.17 81.15,35.96 81.4,35.97 81.65,36.02 81.9,35.65 82.15,35.59 82.4,35.58 82.65,35.59 82.9,35.16 83.15,35.28 83.4,34.83 83.65,35.11 83.9,35.02 84.15,34.54 84.4,34.39 84.65,34.53 84.9,34.58 85.15,34.45 85.4,34.19 85.65,33.89 85.9,33.82 86.15,33.75 86.4,33.65 86.65,33.65 86.9,33.67 87.15,33.63 87.4,33.74 87.65,33.45 87.9,33.35 88.15,33.31 88.4,33.32 88.65,32.99 88.9,32.99 89.15,32.8 89.4,32.83 89.65,32.7 89.9,32.74 90.15,32.81 90.4,32.97 90.65,32.75 90.9,32.58 91.15,32.75 91.4,32.41 91.65,32.49 91.9,32.65 92.15,32.22 92.4,32.29 92.65,32.15 92.9,32.23 93.15,32.16 93.4,32.29 93.65,32 93.9,32.11 94.15,31.94 94.4,31.87 94.65,31.88 94.9,31.92 95.15,32.24 95.4,31.95 95.65,31.73 95.9,31.88 96.15,31.82 96.4,31.76 96.65,31.71 96.9,31.64 98.4,31.87 99.9,31.46 101.4,31.27 102.9,31.36 104.4,31.08 105.9,31.07 107.4,31.34 108.9,31.36 110.4,30.97 111.9,31.03 113.4,30.95 114.9,31.05 116.4,30.9 117.9,30.87 119.4,31.01 120.9,31.12 122.4,31.11 123.9,30.86 125.4,31.07 126.9,30.91 128.4,31.2 129.9,31.09 131.4,31.08 132.9,31.17 134.4,30.95 135.9,31.2 137.4,30.91 138.9,31.04 140.4,31.04 141.9,30.88 143.4,30.88 144.9,31.3 146.4,31.18 147.9,31.27 149.4,31.23 150.9,30.98 152.4,31.23 153.9,31.06 155.4,30.89 156.9,30.94 158.4,31.34 159.9,31.25 161.4,31.34 162.9,31.14 164.3,31.1 164.5,23.08 164.8,48.28 165.4,36.2 169.4,35.33 202.8,34.83" fill="none" stroke="#7b7f80" stroke-width="0.9" stroke-linejoin="round"/>
<polyline points="28.2,35.25 66.6,35.25 66.9,22.78 67.15,25.06 67.4,29.07 67.65,34.03 67.9,38.97 68.15,43.75 68.4,47.89 68.65,51.08 68.9,53.88 69.15,55.45 69.4,56.46 69.65,57.26 69.9,57.58 70.15,57.74 70.4,57.52 70.65,56.89 70.9,56.55 71.15,55.89 71.4,55.11 71.65,54.63 71.9,54.09 72.15,53.54 72.4,52.64 72.65,51.73 72.9,51.4 73.15,50.47 73.4,50.12 73.65,49.23 73.9,48.81 74.15,48.02 74.4,47.78 74.65,47.14 74.9,46.54 75.15,45.91 75.4,45.64 75.65,44.92 75.9,44.33 76.15,43.75 76.4,43.48 76.65,43.06 76.9,42.43 77.15,42.34 77.4,41.76 77.65,41.5 77.9,41.31 78.15,40.78 78.4,40.48 78.65,40.31 78.9,39.6 79.15,39.59 79.4,38.99 79.65,38.91 79.9,38.66 80.15,38.25 80.4,38.31 80.65,38.08 80.9,37.47 81.15,37.43 81.4,37.32 81.65,37.08 81.9,36.65 82.15,36.29 82.4,36.48 82.65,36.3 82.9,35.97 83.15,35.9 83.4,35.59 83.65,35.46 83.9,35.3 84.15,35.19 84.4,34.8 84.65,34.81 84.9,34.94 85.15,34.71 85.4,34.64 85.65,34.56 85.9,33.99 86.15,33.95 86.4,33.9 86.65,34 86.9,33.53 87.15,33.74 87.4,33.78 87.65,33.5 87.9,33.17 88.15,33.35 88.4,33.14 88.65,33.1 88.9,32.81 89.15,33.2 89.4,32.67 89.65,32.78 89.9,32.64 90.15,32.87 90.4,32.85 90.65,32.55 90.9,32.37 91.15,32.64 91.4,32.21 91.65,32.32 91.9,32.54 92.15,32.11 92.4,32.46 92.65,32.19 92.9,32.35 93.15,32.35 93.4,31.99 93.65,32.13 93.9,31.85 94.15,32.2 94.4,31.8 94.65,31.98 94.9,32.07 95.15,31.71 95.4,31.72 95.65,31.76 95.9,31.59 96.15,31.72 96.4,31.55 96.65,31.62 96.9,31.77 98.4,31.52 99.9,31.21 101.4,31.28 102.9,31.13 104.4,31.35 105.9,31.37 107.4,31.29 108.9,30.95 110.4,31.22 111.9,31.27 113.4,31.29 114.9,31.07 116.4,30.98 117.9,31.29 119.4,31.2 120.9,31.11 122.4,30.88 123.9,31.07 125.4,30.97 126.9,30.99 128.4,31.05 129.9,31.32 131.4,31.23 132.9,31.18 134.4,31.23 135.9,31.06 137.4,31.1 138.9,30.93 140.4,31.31 141.9,31.25 143.4,31.1 144.9,31.17 146.4,31.13 147.9,31.14 149.4,31.09 150.9,31.13 152.4,31.19 153.9,31.26 155.4,31 156.9,31.13 158.4,31.33 159.9,31.31 161.4,31.37 162.9,31.18 164.3,31.1 164.5,22.72 164.8,48.68 165.4,36.2 169.4,35.37 202.8,34.87" fill="none" stroke="#7b7f80" stroke-width="0.9" stroke-linejoin="round"/>
<polyline points="28.2,35.3 66.6,35.3 66.9,23.09 67.15,26.75 67.4,34.85 67.65,45.46 67.9,55.84 68.15,64.61 68.4,71.51 68.65,76.19 68.9,78.63 69.15,80.56 69.4,80.84 69.65,81.18 69.9,80.23 70.15,79.49 70.4,78.43 70.65,77.05 70.9,75.56 71.15,74.37 71.4,72.84 71.65,71.28 71.9,69.95 72.15,68.96 72.4,67.53 72.65,66.06 72.9,64.89 73.15,63.53 73.4,62.37 73.65,61.14 73.9,60.49 74.15,59.18 74.4,58.42 74.65,57.19 74.9,56.06 75.15,55.16 75.4,54.37 75.65,53.67 75.9,52.86 76.15,51.96 76.4,51.17 76.65,50.64 76.9,49.97 77.15,48.84 77.4,48.58 77.65,47.84 77.9,46.93 78.15,46.56 78.4,45.98 78.65,45.4 78.9,44.82 79.15,44.22 79.4,44.01 79.65,43.58 79.9,42.9 80.15,42.38 80.4,42.05 80.65,41.98 80.9,41.19 81.15,41.08 81.4,40.46 81.65,40.47 81.9,39.88 82.15,39.41 82.4,39.28 82.65,38.9 82.9,38.87 83.15,38.58 83.4,38.01 83.65,37.94 83.9,37.44 84.15,37.52 84.4,37.4 84.65,36.99 84.9,36.8 85.15,36.29 85.4,36.31 85.65,35.95 85.9,35.96 86.15,35.92 86.4,35.63 86.65,35.31 86.9,35.19 87.15,34.89 87.4,34.97 87.65,34.77 87.9,34.93 88.15,34.35 88.4,34.33 88.65,34.21 88.9,34.3 89.15,34.26 89.4,33.99 89.65,33.72 89.9,33.78 90.15,33.7 90.4,33.66 90.65,33.6 90.9,33.63 91.15,33.42 91.4,33.38 91.65,33.39 91.9,33.22 92.15,32.8 92.4,33.15 92.65,33.05 92.9,32.78 93.15,32.96 93.4,32.63 93.65,32.69 93.9,32.59 94.15,32.44 94.4,32.46 94.65,32.46 94.9,32.43 95.15,32.26 95.4,32.24 95.65,32.18 95.9,32.16 96.15,32.38 96.4,32.05 96.65,32.3 96.9,32.2 98.4,31.81 99.9,31.52 101.4,31.43 102.9,31.29 104.4,31.57 105.9,31.16 107.4,31.22 108.9,31.17 110.4,31.13 111.9,31.17 113.4,31.22 114.9,31.35 116.4,30.99 117.9,31.29 119.4,31.07 120.9,31.26 122.4,31.21 123.9,31.31 125.4,31.3 126.9,31.18 128.4,31.4 129.9,31.01 131.4,31.34 132.9,31.06 134.4,31.33 135.9,31.4 137.4,31.37 138.9,31.28 140.4,31.31 141.9,31.04 143.4,31.28 144.9,31.19 146.4,31.45 147.9,31.29 149.4,31.1 150.9,31.06 152.4,31.01 153.9,31.02 155.4,31.33 156.9,31.13 158.4,31.25 159.9,31.14 161.4,31.23 162.9,31.07 164.3,31.1 164.5,23.16 164.8,47.88 165.4,36.2 169.4,35.39 202.8,34.89" fill="none" stroke="#7b7f80" stroke-width="0.9" stroke-linejoin="round"/>
<polyline points="28.2,34.4 66.6,34.4 66.9,20.76 67.15,27.48 67.4,40.53 67.65,56.44 67.9,71.59 68.15,82.97 68.4,91.08 68.65,96.57 68.9,99.27 69.15,100.83 69.4,100.51 69.65,99.96 69.9,98.19 70.15,96.7 70.4,94.98 70.65,92.66 70.9,90.76 71.15,88.65 71.4,86.62 71.65,84.69 71.9,82.74 72.15,80.73 72.4,78.72 72.65,77.21 72.9,75.08 73.15,73.74 73.4,72.25 73.65,70.58 73.9,69.05 74.15,67.56 74.4,66.01 74.65,64.58 74.9,63.38 75.15,62.4 75.4,61.28 75.65,59.74 75.9,58.73 76.15,57.54 76.4,56.97 76.65,55.69 76.9,54.93 77.15,54.01 77.4,53.18 77.65,51.92 77.9,51.13 78.15,50.49 78.4,49.73 78.65,49.19 78.9,48.51 79.15,47.59 79.4,47.03 79.65,46.57 79.9,45.7 80.15,45.43 80.4,44.53 80.65,44.25 80.9,43.58 81.15,43.19 81.4,42.55 81.65,42.21 81.9,41.8 82.15,41.24 82.4,40.84 82.65,40.89 82.9,40.28 83.15,39.68 83.4,39.66 83.65,39.2 83.9,38.89 84.15,38.49 84.4,38.46 84.65,37.82 84.9,37.7 85.15,37.38 85.4,37.04 85.65,36.95 85.9,36.99 86.15,36.61 86.4,36.28 86.65,36.21 86.9,35.67 87.15,35.74 87.4,35.49 87.65,35.5 87.9,35.42 88.15,34.98 88.4,34.63 88.65,34.85 88.9,34.53 89.15,34.26 89.4,34.23 89.65,34.37 89.9,34.06 90.15,33.73 90.4,33.69 90.65,33.72 90.9,33.59 91.15,33.46 91.4,33.49 91.65,33.4 91.9,33.28 92.15,33.25 92.4,32.97 92.65,33.12 92.9,32.77 93.15,32.99 93.4,32.49 93.65,32.53 93.9,32.81 94.15,32.43 94.4,32.3 94.65,32.39 94.9,32.27 95.15,32.48 95.4,32.38 95.65,32.18 95.9,32.24 96.15,32.23 96.4,31.86 96.65,31.8 96.9,32.03 98.4,31.89 99.9,31.64 101.4,31.55 102.9,31.32 104.4,30.94 105.9,30.99 107.4,31.08 108.9,31.11 110.4,31.1 111.9,30.83 113.4,30.94 114.9,30.63 116.4,31.08 117.9,30.67 119.4,30.97 120.9,30.81 122.4,30.71 123.9,30.88 125.4,30.91 126.9,30.92 128.4,30.66 129.9,30.72 131.4,30.71 132.9,30.72 134.4,30.86 135.9,30.55 137.4,30.99 138.9,30.72 140.4,30.53 141.9,30.62 143.4,30.72 144.9,30.73 146.4,30.84 147.9,30.67 149.4,30.62 150.9,31.03 152.4,30.57 153.9,30.62 155.4,30.68 156.9,30.99 158.4,30.84 159.9,30.88 161.4,30.99 162.9,30.63 164.3,31.1 164.5,22.56 164.8,48.58 165.4,36.2 169.4,35.12 202.8,34.62" fill="none" stroke="#7b7f80" stroke-width="0.9" stroke-linejoin="round"/>
<polyline points="28.2,34.81 66.6,34.81 66.9,21.84 67.15,28.08 67.4,41.41 67.65,58.67 67.9,74.9 68.15,87.49 68.4,96.77 68.65,102.36 68.9,105.85 69.15,106.98 69.4,106.77 69.65,105.76 69.9,104.59 70.15,102.48 70.4,100.1 70.65,98.18 70.9,95.67 71.15,93.25 71.4,91.25 71.65,88.8 71.9,86.44 72.15,84.34 72.4,82.47 72.65,80.36 72.9,78.61 73.15,76.56 73.4,74.73 73.65,72.82 73.9,71.43 74.15,69.76 74.4,68.36 74.65,66.84 74.9,65.47 75.15,64.04 75.4,62.86 75.65,61.57 75.9,60.15 76.15,59.05 76.4,57.97 76.65,56.9 76.9,55.78 77.15,54.63 77.4,53.84 77.65,52.98 77.9,51.9 78.15,51.14 78.4,50.7 78.65,49.94 78.9,48.85 79.15,48.09 79.4,47.63 79.65,47.11 79.9,46.1 80.15,45.66 80.4,45.27 80.65,44.39 80.9,44.08 81.15,43.31 81.4,43.2 81.65,42.39 81.9,42.12 82.15,41.58 82.4,41.25 82.65,40.88 82.9,40.39 83.15,39.96 83.4,39.95 83.65,39.23 83.9,38.89 84.15,38.63 84.4,38.6 84.65,37.9 84.9,37.69 85.15,37.65 85.4,37.15 85.65,36.94 85.9,37 86.15,36.68 86.4,36.49 86.65,36.43 86.9,35.8 87.15,36.01 87.4,35.37 87.65,35.55 87.9,35.17 88.15,35.06 88.4,34.76 88.65,34.85 88.9,34.63 89.15,34.3 89.4,34.18 89.65,34.46 89.9,34.28 90.15,33.9 90.4,33.99 90.65,33.95 90.9,33.69 91.15,33.73 91.4,33.35 91.65,33.58 91.9,33.15 92.15,33.35 92.4,33.26 92.65,33.17 92.9,33.14 93.15,32.66 93.4,32.59 93.65,32.51 93.9,32.86 94.15,32.46 94.4,32.71 94.65,32.27 94.9,32.5 95.15,32.58 95.4,32.33 95.65,32.31 95.9,32.48 96.15,32 96.4,31.99 96.65,32.11 96.9,31.99 98.4,31.77 99.9,31.67 101.4,31.38 102.9,31.54 104.4,31.39 105.9,31.11 107.4,31.39 108.9,31.17 110.4,30.93 111.9,30.95 113.4,31.13 114.9,30.82 116.4,31.12 117.9,31.15 119.4,31.23 120.9,31.12 122.4,30.94 123.9,30.96 125.4,31.06 126.9,31.24 128.4,31.1 129.9,31.04 131.4,30.89 132.9,30.82 134.4,31.2 135.9,31.07 137.4,31.03 138.9,31.14 140.4,30.79 141.9,31.01 143.4,30.97 144.9,31.07 146.4,31.03 147.9,31.23 149.4,31.17 150.9,31.21 152.4,30.8 153.9,31.02 155.4,31.19 156.9,31.19 158.4,30.91 159.9,31.15 161.4,30.81 162.9,30.8 164.3,31.1 164.5,22.89 164.8,47.4 165.4,36.2 169.4,35.24 202.8,34.74" fill="none" stroke="#7b7f80" stroke-width="0.9" stroke-linejoin="round"/>
<polyline points="28.2,34.5 66.6,34.5 66.9,21.51 67.15,27.16 67.4,41.47 67.65,59.13 67.9,75.94 68.15,89.21 68.4,98.72 68.65,104.54 68.9,107.93 69.15,109.34 69.4,109.35 69.65,108.41 69.9,106.81 70.15,104.3 70.4,102.16 70.65,99.48 70.9,96.95 71.15,94.42 71.4,91.85 71.65,89.77 71.9,87.28 72.15,84.97 72.4,82.45 72.65,80.21 72.9,78.44 73.15,76.11 73.4,74.53 73.65,72.75 73.9,70.96 74.15,68.98 74.4,67.71 74.65,66.02 74.9,64.74 75.15,62.96 75.4,61.61 75.65,60.42 75.9,58.93 76.15,57.77 76.4,56.7 76.65,55.49 76.9,54.59 77.15,53.79 77.4,52.69 77.65,51.56 77.9,50.88 78.15,50 78.4,49.22 78.65,48.25 78.9,47.66 79.15,47.07 79.4,46.15 79.65,45.61 79.9,45.3 80.15,44.61 80.4,44.07 80.65,43.59 80.9,42.91 81.15,42.21 81.4,41.95 81.65,41.51 81.9,40.91 82.15,40.77 82.4,40.29 82.65,39.8 82.9,39.23 83.15,38.85 83.4,38.9 83.65,38.53 83.9,38.11 84.15,37.7 84.4,37.28 84.65,37.17 84.9,36.97 85.15,36.9 85.4,36.54 85.65,36.05 85.9,36.02 86.15,35.69 86.4,35.41 86.65,35.27 86.9,35.06 87.15,35.25 87.4,35.07 87.65,34.74 87.9,34.74 88.15,34.18 88.4,34.16 88.65,34.13 88.9,33.99 89.15,33.86 89.4,33.56 89.65,33.7 89.9,33.37 90.15,33.36 90.4,33.18 90.65,33.26 90.9,33.18 91.15,32.99 91.4,32.96 91.65,33.07 91.9,32.77 92.15,32.5 92.4,32.56 92.65,32.38 92.9,32.57 93.15,32.58 93.4,32.59 93.65,32.23 93.9,32.06 94.15,32.29 94.4,31.92 94.65,31.88 94.9,32.09 95.15,32.06 95.4,31.82 95.65,31.94 95.9,31.92 96.15,31.66 96.4,31.97 96.65,31.53 96.9,31.81 98.4,31.32 99.9,31.56 101.4,31.37 102.9,30.98 104.4,30.98 105.9,30.97 107.4,31.08 108.9,31.05 110.4,31.1 111.9,31.14 113.4,31.09 114.9,30.73 116.4,30.82 117.9,30.81 119.4,30.99 120.9,31.08 122.4,30.9 123.9,30.62 125.4,30.98 126.9,30.75 128.4,30.91 129.9,30.87 131.4,30.88 132.9,31.02 134.4,30.87 135.9,30.83 137.4,30.79 138.9,30.64 140.4,30.99 141.9,30.94 143.4,30.88 144.9,31.08 146.4,31.02 147.9,30.98 149.4,30.61 150.9,30.97 152.4,31.03 153.9,30.73 155.4,30.88 156.9,30.64 158.4,30.76 159.9,30.95 161.4,30.94 162.9,31.06 164.3,31.1 164.5,22.04 164.8,47.68 165.4,36.2 169.4,35.15 202.8,34.65" fill="none" stroke="#7b7f80" stroke-width="0.9" stroke-linejoin="round"/>
<polyline points="28.2,35.58 66.6,35.58 66.9,23 67.15,27.68 67.4,42.22 67.65,59.23 67.9,75.67 68.15,88.02 68.4,96.75 68.65,102.31 68.9,104.6 69.15,105.35 69.4,105.2 69.65,103.42 69.9,101.35 70.15,99.12 70.4,96.72 70.65,94.02 70.9,91.22 71.15,88.47 71.4,86.1 71.65,83.74 71.9,81.23 72.15,79.06 72.4,76.84 72.65,74.79 72.9,72.5 73.15,70.74 73.4,68.57 73.65,66.94 73.9,65.51 74.15,63.54 74.4,62.2 74.65,60.81 74.9,59.23 75.15,57.98 75.4,56.85 75.65,55.86 75.9,54.41 76.15,53.32 76.4,52.27 76.65,51.18 76.9,50.32 77.15,49.32 77.4,48.6 77.65,48.02 77.9,46.88 78.15,46.56 78.4,45.48 78.65,45.22 78.9,44.13 79.15,43.59 79.4,43.09 79.65,42.46 79.9,42.31 80.15,41.72 80.4,41.18 80.65,40.82 80.9,40.13 81.15,39.72 81.4,39.29 81.65,38.84 81.9,38.52 82.15,38.15 82.4,38.06 82.65,37.81 82.9,37.55 83.15,36.96 83.4,37.14 83.65,36.67 83.9,36.27 84.15,36.03 84.4,35.74 84.65,36.01 84.9,35.51 85.15,35.21 85.4,35.3 85.65,34.94 85.9,35.05 86.15,34.92 86.4,34.56 86.65,34.6 86.9,34.35 87.15,34.33 87.4,34.05 87.65,34.05 87.9,33.84 88.15,33.86 88.4,33.52 88.65,33.71 88.9,33.61 89.15,33.21 89.4,33 89.65,32.94 89.9,33.23 90.15,33.04 90.4,32.78 90.65,32.96 90.9,32.57 91.15,32.92 91.4,32.71 91.65,32.71 91.9,32.75 92.15,32.64 92.4,32.48 92.65,32.55 92.9,32.27 93.15,32.55 93.4,32.22 93.65,32.13 93.9,32.03 94.15,32.34 94.4,32.1 94.65,32.18 94.9,31.9 95.15,31.92 95.4,32.07 95.65,32.28 95.9,32.05 96.15,31.94 96.4,31.76 96.65,32.11 96.9,32.03 98.4,31.88 99.9,31.83 101.4,31.8 102.9,31.6 104.4,31.61 105.9,31.3 107.4,31.4 108.9,31.54 110.4,31.49 111.9,31.69 113.4,31.63 114.9,31.54 116.4,31.27 117.9,31.28 119.4,31.48 120.9,31.2 122.4,31.36 123.9,31.52 125.4,31.31 126.9,31.29 128.4,31.21 129.9,31.35 131.4,31.56 132.9,31.41 134.4,31.17 135.9,31.25 137.4,31.6 138.9,31.54 140.4,31.62 141.9,31.28 143.4,31.49 144.9,31.2 146.4,31.5 147.9,31.16 149.4,31.51 150.9,31.51 152.4,31.34 153.9,31.26 155.4,31.33 156.9,31.22 158.4,31.36 159.9,31.59 161.4,31.27 162.9,31.47 164.3,31.1 164.5,23.39 164.8,47.4 165.4,36.2 169.4,35.47 202.8,34.97" fill="none" stroke="#7b7f80" stroke-width="0.9" stroke-linejoin="round"/>
<polyline points="28.2,35.09 66.6,35.09 66.9,21.68 67.15,27.28 67.4,39.14 67.65,54.54 67.9,69.08 68.15,80.33 68.4,88.59 68.65,93.12 68.9,95.69 69.15,96.79 69.4,95.84 69.65,94.68 69.9,92.85 70.15,90.57 70.4,87.77 70.65,85.58 70.9,83.04 71.15,80.61 71.4,77.74 71.65,75.45 71.9,73.18 72.15,71.02 72.4,69.21 72.65,67.31 72.9,65.28 73.15,63.68 73.4,61.54 73.65,59.93 73.9,58.86 74.15,57.17 74.4,55.95 74.65,54.79 74.9,53.51 75.15,52.41 75.4,50.84 75.65,50.02 75.9,49.15 76.15,48.23 76.4,47.19 76.65,46.19 76.9,45.61 77.15,44.62 77.4,44.33 77.65,43.46 77.9,42.54 78.15,42.19 78.4,41.67 78.65,40.99 78.9,40.4 79.15,40.02 79.4,39.59 79.65,38.97 79.9,38.8 80.15,38.57 80.4,37.92 80.65,37.62 80.9,37.11 81.15,36.85 81.4,36.69 81.65,36.61 81.9,36.25 82.15,35.86 82.4,35.82 82.65,35.3 82.9,35.02 83.15,34.74 83.4,34.9 83.65,34.49 83.9,34.22 84.15,34.12 84.4,34.03 84.65,33.86 84.9,33.78 85.15,33.69 85.4,33.6 85.65,33.41 85.9,33.11 86.15,33.27 86.4,32.94 86.65,32.97 86.9,33.03 87.15,32.88 87.4,33 87.65,32.74 87.9,32.76 88.15,32.5 88.4,32.24 88.65,32.6 88.9,32.33 89.15,32.22 89.4,32.25 89.65,32.24 89.9,32.25 90.15,31.9 90.4,31.88 90.65,31.91 90.9,32.01 91.15,31.95 91.4,31.87 91.65,31.6 91.9,31.6 92.15,31.6 92.4,31.67 92.65,31.56 92.9,31.54 93.15,31.68 93.4,31.47 93.65,31.39 93.9,31.6 94.15,31.61 94.4,31.64 94.65,31.62 94.9,31.54 95.15,31.53 95.4,31.44 95.65,31.3 95.9,31.6 96.15,31.57 96.4,31.36 96.65,31.59 96.9,31.6 98.4,31.48 99.9,31.25 101.4,31.08 102.9,31.29 104.4,31.09 105.9,31.19 107.4,31.3 108.9,31.15 110.4,31.34 111.9,31.31 113.4,31.38 114.9,30.95 116.4,31.23 117.9,30.9 119.4,31.15 120.9,31.12 122.4,30.88 123.9,31.01 125.4,31.11 126.9,31.02 128.4,31.29 129.9,30.98 131.4,30.9 132.9,31.23 134.4,31.27 135.9,31.25 137.4,31.05 138.9,31.24 140.4,30.92 141.9,30.97 143.4,31.19 144.9,31.04 146.4,31.06 147.9,31.18 149.4,31.25 150.9,31.22 152.4,31.27 153.9,31.13 155.4,30.89 156.9,31 158.4,31.37 159.9,31.24 161.4,31.2 162.9,31.07 164.3,31.1 164.5,23.35 164.8,48.01 165.4,36.2 169.4,35.33 202.8,34.83" fill="none" stroke="#7b7f80" stroke-width="0.9" stroke-linejoin="round"/>
<polyline points="28.2,35.58 66.6,35.58 66.9,21.44 67.15,27.23 67.4,38.31 67.65,51.33 67.9,63.84 68.15,73.24 68.4,79.4 68.65,83.23 68.9,84.98 69.15,85.41 69.4,84.24 69.65,82.97 69.9,80.8 70.15,78.74 70.4,76.35 70.65,73.81 70.9,71.53 71.15,69.73 71.4,67.21 71.65,65.19 71.9,63.55 72.15,61.52 72.4,59.78 72.65,57.93 72.9,56.26 73.15,54.93 73.4,53.83 73.65,52.13 73.9,51.28 74.15,49.79 74.4,48.78 74.65,47.63 74.9,46.72 75.15,46.04 75.4,44.86 75.65,44.16 75.9,43.37 76.15,42.56 76.4,41.84 76.65,41.39 76.9,40.9 77.15,40.34 77.4,39.58 77.65,39.43 77.9,38.8 78.15,38.55 78.4,37.67 78.65,37.68 78.9,37.02 79.15,36.64 79.4,36.45 79.65,35.95 79.9,36.08 80.15,35.86 80.4,35.25 80.65,35.27 80.9,35.13 81.15,34.94 81.4,34.28 81.65,34.51 81.9,34.2 82.15,33.8 82.4,34 82.65,33.55 82.9,33.32 83.15,33.65 83.4,33.33 83.65,33.2 83.9,33.14 84.15,33.22 84.4,32.88 84.65,32.58 84.9,32.81 85.15,32.45 85.4,32.43 85.65,32.43 85.9,32.32 86.15,32.19 86.4,32.36 86.65,32.21 86.9,31.96 87.15,32.05 87.4,32.07 87.65,31.82 87.9,31.89 88.15,32.08 88.4,31.96 88.65,32.04 88.9,31.81 89.15,31.9 89.4,31.62 89.65,31.63 89.9,31.99 90.15,31.76 90.4,31.56 90.65,31.72 90.9,31.52 91.15,31.45 91.4,31.39 91.65,31.55 91.9,31.65 92.15,31.46 92.4,31.81 92.65,31.58 92.9,31.57 93.15,31.51 93.4,31.74 93.65,31.29 93.9,31.35 94.15,31.72 94.4,31.44 94.65,31.48 94.9,31.65 95.15,31.31 95.4,31.21 95.65,31.45 95.9,31.44 96.15,31.25 96.4,31.35 96.65,31.39 96.9,31.3 98.4,31.6 99.9,31.14 101.4,31.21 102.9,31.48 104.4,31.45 105.9,31.44 107.4,31.42 108.9,31.37 110.4,31.3 111.9,31.14 113.4,31.19 114.9,31.26 116.4,31.37 117.9,31.23 119.4,31.29 120.9,31.27 122.4,31.17 123.9,31.27 125.4,31.32 126.9,31.43 128.4,31.25 129.9,31.47 131.4,31.54 132.9,31.31 134.4,31.2 135.9,31.12 137.4,31.1 138.9,31.56 140.4,31.41 141.9,31.21 143.4,31.12 144.9,31.42 146.4,31.18 147.9,31.6 149.4,31.51 150.9,31.15 152.4,31.35 153.9,31.41 155.4,31.27 156.9,31.41 158.4,31.26 159.9,31.6 161.4,31.2 162.9,31.42 164.3,31.1 164.5,23.43 164.8,47.31 165.4,36.2 169.4,35.47 202.8,34.97" fill="none" stroke="#7b7f80" stroke-width="0.9" stroke-linejoin="round"/>
<polyline points="28.2,34.76 66.6,34.76 66.9,21.44 67.15,25.62 67.4,34.56 67.65,44.43 67.9,54.27 68.15,61.88 68.4,66.74 68.65,69.78 68.9,71.67 69.15,71.37 69.4,70.71 69.65,69.81 69.9,67.97 70.15,66.02 70.4,64.24 70.65,62.27 70.9,60.26 71.15,58.52 71.4,56.94 71.65,55.06 71.9,53.45 72.15,51.77 72.4,50.7 72.65,49.24 72.9,47.85 73.15,46.84 73.4,45.94 73.65,44.83 73.9,43.97 74.15,42.7 74.4,42.18 74.65,41.36 74.9,40.38 75.15,39.64 75.4,39.06 75.65,38.85 75.9,38.28 76.15,37.48 76.4,36.99 76.65,36.9 76.9,36.24 77.15,35.79 77.4,35.65 77.65,35.01 77.9,35.17 78.15,34.85 78.4,34.44 78.65,34.27 78.9,34.09 79.15,33.65 79.4,33.64 79.65,33.21 79.9,33.19 80.15,32.74 80.4,32.8 80.65,32.7 80.9,32.69 81.15,32.48 81.4,32.52 81.65,32.03 81.9,32.21 82.15,32.08 82.4,31.87 82.65,31.84 82.9,31.54 83.15,31.93 83.4,31.6 83.65,31.64 83.9,31.32 84.15,31.64 84.4,31.64 84.65,31.56 84.9,31.45 85.15,31.1 85.4,31.44 85.65,31.16 85.9,31.45 86.15,31.13 86.4,30.93 86.65,31.19 86.9,31.28 87.15,30.99 87.4,31.29 87.65,31.13 87.9,30.87 88.15,30.91 88.4,31.2 88.65,30.77 88.9,30.94 89.15,30.8 89.4,30.91 89.65,30.83 89.9,30.7 90.15,30.72 90.4,30.84 90.65,30.98 90.9,30.76 91.15,30.99 91.4,30.93 91.65,30.77 91.9,31.04 92.15,31.1 92.4,30.85 92.65,30.62 92.9,30.94 93.15,31.04 93.4,31.01 93.65,31 93.9,30.78 94.15,30.67 94.4,30.69 94.65,30.94 94.9,30.69 95.15,30.92 95.4,30.87 95.65,30.91 95.9,30.97 96.15,30.7 96.4,31 96.65,31.06 96.9,30.79 98.4,31 99.9,31.04 101.4,30.61 102.9,31.06 104.4,30.76 105.9,30.87 107.4,31 108.9,30.82 110.4,30.98 111.9,30.62 113.4,30.76 114.9,31.06 116.4,30.85 117.9,30.64 119.4,31.05 120.9,30.86 122.4,30.86 123.9,31.12 125.4,31.09 126.9,30.85 128.4,31.08 129.9,30.84 131.4,30.91 132.9,30.99 134.4,30.74 135.9,31.04 137.4,31.17 138.9,31.14 140.4,30.85 141.9,30.73 143.4,31.04 144.9,30.96 146.4,30.82 147.9,30.74 149.4,31.18 150.9,31.12 152.4,30.78 153.9,30.82 155.4,30.98 156.9,30.77 158.4,30.9 159.9,31.12 161.4,31.14 162.9,31.07 164.3,31.1 164.5,22.05 164.8,47.38 165.4,36.2 169.4,35.23 202.8,34.73" fill="none" stroke="#7b7f80" stroke-width="0.9" stroke-linejoin="round"/>
<polyline points="28.2,143.55 67.1,143.55 67.4,130.25 67.65,134.57 67.9,137.42 68.15,138.55 68.4,139.3 68.65,139.68 68.9,140.16 69.15,140.54 69.4,140.49 69.65,140.47 69.9,140.83 70.15,140.92 70.4,141.11 70.65,141.07 70.9,141.21 71.15,141.38 71.4,141.54 71.65,141.71 71.9,141.69 72.15,141.76 72.4,141.61 72.65,141.96 72.9,141.9 73.15,141.79 73.4,141.84 73.65,141.88 73.9,141.84 74.15,142.14 74.4,142.01 74.65,142.11 74.9,141.89 75.15,142.15 75.4,142.28 75.65,142.31 75.9,142.35 76.15,142.15 76.4,142.24 76.65,142.09 76.9,142.22 77.15,142.29 77.4,142.41 77.65,142.47 77.9,142.41 78.15,142.38 78.4,142.19 78.65,142.15 78.9,142.54 79.15,142.24 79.4,142.36 79.65,142.18 79.9,142.27 80.15,142.24 80.4,142.23 80.65,142.24 80.9,142.66 81.15,142.36 81.4,142.47 81.65,142.79 81.9,142.33 82.15,142.63 82.4,142.4 82.65,142.37 82.9,142.75 83.15,142.84 83.4,142.83 83.65,142.65 83.9,142.76 84.15,142.49 84.4,142.89 84.65,142.76 84.9,142.74 85.15,142.98 85.4,142.81 85.65,142.53 85.9,142.61 86.15,142.56 86.4,142.61 86.65,142.83 86.9,143.05 87.15,142.71 87.4,142.73 87.65,142.93 87.9,142.99 88.15,142.86 88.4,142.66 88.65,142.87 88.9,143.04 89.15,142.74 89.4,142.82 89.65,142.97 89.9,142.88 90.15,142.84 90.4,143.22 90.65,142.97 90.9,143.05 91.15,142.98 91.4,142.87 91.65,143.19 91.9,143.06 92.15,143.12 92.4,143.31 92.65,142.84 92.9,142.89 93.15,143.27 93.4,142.87 93.65,143.07 93.9,142.98 94.15,142.92 94.4,143.08 94.65,142.94 94.9,143.01 95.15,143.12 95.4,143.31 95.65,143 95.9,142.99 96.15,143.27 96.4,143.31 96.65,143.3 96.9,143.34 97.15,143.16 97.4,143.39 98.9,143.3 100.4,143.55 101.9,143.58 103.4,143.3 104.9,143.43 106.4,143.43 107.9,143.7 109.4,143.68 110.9,143.48 112.4,143.39 113.9,143.38 115.4,143.81 116.9,143.71 118.4,143.55 119.9,143.75 121.4,143.65 122.9,143.5 124.4,143.94 125.9,143.52 127.4,143.84 128.9,143.95 130.4,143.86 131.9,144.02 133.4,143.81 134.9,143.76 136.4,143.84 137.9,143.64 139.4,143.8 140.9,143.92 142.4,143.92 143.9,144.06 145.4,143.95 146.9,143.97 148.4,143.7 149.9,143.8 151.4,144.09 152.9,143.61 154.4,143.96 155.9,143.94 157.4,143.62 158.9,143.98 160.4,144.07 161.9,143.67 163.4,144.01 164.3,143.63 164.5,128.4 164.8,175.48 165.4,144.2 169.4,143.46 202.8,142.96" fill="none" stroke="#bd5c5d" stroke-width="0.9" stroke-linejoin="round"/>
<polyline points="28.2,143.1 67.1,143.1 67.4,128.89 67.65,133.98 67.9,136.45 68.15,137.81 68.4,138.73 68.65,138.71 68.9,139.47 69.15,139.68 69.4,139.85 69.65,139.83 69.9,139.86 70.15,140.36 70.4,140.47 70.65,140.4 70.9,140.69 71.15,140.44 71.4,140.64 71.65,140.66 71.9,140.85 72.15,140.81 72.4,140.87 72.65,141.16 72.9,141.09 73.15,141.07 73.4,140.88 73.65,141.03 73.9,141.3 74.15,141.13 74.4,141.01 74.65,141.19 74.9,141.45 75.15,141.36 75.4,141.19 75.65,141.21 75.9,141.6 76.15,141.55 76.4,141.34 76.65,141.22 76.9,141.29 77.15,141.37 77.4,141.71 77.65,141.58 77.9,141.45 78.15,141.42 78.4,141.66 78.65,141.52 78.9,141.47 79.15,141.69 79.4,141.8 79.65,141.85 79.9,141.68 80.15,141.92 80.4,141.84 80.65,141.94 80.9,141.98 81.15,141.82 81.4,141.71 81.65,141.63 81.9,141.73 82.15,142.02 82.4,142.07 82.65,141.62 82.9,141.8 83.15,142.07 83.4,141.86 83.65,141.78 83.9,141.87 84.15,142.01 84.4,141.86 84.65,141.76 84.9,141.83 85.15,141.95 85.4,141.93 85.65,141.89 85.9,141.95 86.15,142.18 86.4,141.88 86.65,142.03 86.9,141.9 87.15,142.26 87.4,142.24 87.65,142.06 87.9,142.07 88.15,142.2 88.4,142.32 88.65,142.21 88.9,142.42 89.15,142.35 89.4,142.15 89.65,141.98 89.9,142.46 90.15,142.45 90.4,142.45 90.65,142.15 90.9,142.01 91.15,142.19 91.4,142.1 91.65,142.08 91.9,142.37 92.15,142.51 92.4,142.31 92.65,142.15 92.9,142.12 93.15,142.55 93.4,142.37 93.65,142.55 93.9,142.37 94.15,142.19 94.4,142.25 94.65,142.26 94.9,142.47 95.15,142.62 95.4,142.43 95.65,142.26 95.9,142.6 96.15,142.3 96.4,142.35 96.65,142.43 96.9,142.62 97.15,142.51 97.4,142.38 98.9,142.77 100.4,142.67 101.9,142.69 103.4,142.67 104.9,142.53 106.4,142.78 107.9,142.86 109.4,142.75 110.9,142.93 112.4,142.98 113.9,142.61 115.4,142.66 116.9,142.9 118.4,143.12 119.9,143.11 121.4,142.82 122.9,143.11 124.4,142.85 125.9,143 127.4,142.94 128.9,142.97 130.4,142.81 131.9,142.9 133.4,142.88 134.9,143.05 136.4,143.05 137.9,142.9 139.4,143.15 140.9,143.03 142.4,142.99 143.9,142.95 145.4,143.06 146.9,143.07 148.4,142.99 149.9,143.14 151.4,142.96 152.9,143.18 154.4,143.19 155.9,142.96 157.4,143.01 158.9,143.3 160.4,143.02 161.9,142.99 163.4,143.04 164.3,143.1 164.5,128.76 164.8,175.97 165.4,144.2 169.4,143.33 202.8,142.83" fill="none" stroke="#bd5c5d" stroke-width="0.9" stroke-linejoin="round"/>
<polyline points="28.2,143.4 67.1,143.4 67.4,128.58 67.65,133.59 67.9,136.29 68.15,137.45 68.4,138.26 68.65,138.75 68.9,138.75 69.15,139.4 69.4,139.23 69.65,139.75 69.9,139.81 70.15,139.71 70.4,139.74 70.65,139.88 70.9,140.1 71.15,140.47 71.4,140.3 71.65,140.24 71.9,140.45 72.15,140.29 72.4,140.63 72.65,140.69 72.9,140.64 73.15,140.67 73.4,140.85 73.65,140.84 73.9,140.63 74.15,140.79 74.4,140.65 74.65,140.88 74.9,140.96 75.15,140.71 75.4,140.73 75.65,140.93 75.9,140.89 76.15,140.99 76.4,140.95 76.65,141.26 76.9,140.87 77.15,141.02 77.4,141.18 77.65,141.33 77.9,141.38 78.15,141.09 78.4,140.94 78.65,141.45 78.9,141.4 79.15,141.26 79.4,141.23 79.65,141.42 79.9,141.06 80.15,141.54 80.4,141.41 80.65,141.54 80.9,141.23 81.15,141.57 81.4,141.59 81.65,141.45 81.9,141.29 82.15,141.19 82.4,141.45 82.65,141.54 82.9,141.49 83.15,141.45 83.4,141.32 83.65,141.5 83.9,141.78 84.15,141.56 84.4,141.53 84.65,141.73 84.9,141.42 85.15,141.42 85.4,141.38 85.65,141.87 85.9,141.68 86.15,141.63 86.4,141.63 86.65,141.54 86.9,141.92 87.15,141.77 87.4,141.62 87.65,141.97 87.9,141.78 88.15,141.63 88.4,141.7 88.65,141.76 88.9,141.82 89.15,141.78 89.4,141.94 89.65,141.82 89.9,141.96 90.15,142.07 90.4,141.9 90.65,141.84 90.9,142.11 91.15,141.94 91.4,141.99 91.65,142.05 91.9,141.74 92.15,142 92.4,141.93 92.65,142.1 92.9,142.16 93.15,141.91 93.4,142.11 93.65,142.06 93.9,141.94 94.15,141.97 94.4,142.23 94.65,142.07 94.9,141.86 95.15,141.94 95.4,142.09 95.65,142.26 95.9,141.85 96.15,141.83 96.4,142.18 96.65,141.99 96.9,142.29 97.15,142.28 97.4,142.14 98.9,142.2 100.4,142.09 101.9,142.26 103.4,142.24 104.9,142.3 106.4,142.2 107.9,142.59 109.4,142.25 110.9,142.52 112.4,142.47 113.9,142.63 115.4,142.48 116.9,142.45 118.4,142.44 119.9,142.38 121.4,142.76 122.9,142.62 124.4,142.39 125.9,142.69 127.4,142.39 128.9,142.46 130.4,142.57 131.9,142.38 133.4,142.54 134.9,142.63 136.4,142.88 137.9,142.81 139.4,142.65 140.9,142.46 142.4,142.67 143.9,142.84 145.4,142.84 146.9,142.46 148.4,142.56 149.9,142.52 151.4,142.69 152.9,142.48 154.4,142.86 155.9,142.58 157.4,142.79 158.9,142.8 160.4,142.56 161.9,142.5 163.4,142.54 164.3,142.57 164.5,129.26 164.8,175.84 165.4,144.2 169.4,143.42 202.8,142.92" fill="none" stroke="#bd5c5d" stroke-width="0.9" stroke-linejoin="round"/>
<polyline points="28.2,143.51 67.1,143.51 67.4,130.73 67.65,133.86 67.9,136.22 68.15,137.02 68.4,137.42 68.65,138.24 68.9,138.57 69.15,138.81 69.4,138.99 69.65,138.98 69.9,139.29 70.15,139.17 70.4,139.68 70.65,139.76 70.9,139.58 71.15,139.95 71.4,139.63 71.65,139.93 71.9,139.82 72.15,139.81 72.4,140.03 72.65,140.19 72.9,140.07 73.15,140.26 73.4,140.07 73.65,140.34 73.9,140.38 74.15,140.28 74.4,140.21 74.65,140.4 74.9,140.2 75.15,140.54 75.4,140.54 75.65,140.58 75.9,140.41 76.15,140.39 76.4,140.5 76.65,140.43 76.9,140.54 77.15,140.73 77.4,140.66 77.65,140.51 77.9,140.9 78.15,140.85 78.4,140.53 78.65,140.62 78.9,140.5 79.15,140.85 79.4,140.62 79.65,140.94 79.9,140.72 80.15,140.71 80.4,140.72 80.65,140.87 80.9,140.78 81.15,140.89 81.4,141.04 81.65,140.76 81.9,140.84 82.15,140.97 82.4,140.88 82.65,140.74 82.9,141.19 83.15,140.81 83.4,141.03 83.65,141.11 83.9,140.92 84.15,141.19 84.4,141.05 84.65,141.29 84.9,141.31 85.15,140.91 85.4,140.96 85.65,141.27 85.9,141.02 86.15,140.95 86.4,141.39 86.65,141.1 86.9,141.33 87.15,141.42 87.4,141.28 87.65,141.25 87.9,141.15 88.15,141.04 88.4,141.24 88.65,141.07 88.9,141.16 89.15,141.22 89.4,141.4 89.65,141.18 89.9,141.28 90.15,141.33 90.4,141.56 90.65,141.29 90.9,141.26 91.15,141.49 91.4,141.51 91.65,141.5 91.9,141.58 92.15,141.61 92.4,141.49 92.65,141.39 92.9,141.55 93.15,141.47 93.4,141.69 93.65,141.54 93.9,141.26 94.15,141.63 94.4,141.66 94.65,141.3 94.9,141.42 95.15,141.59 95.4,141.76 95.65,141.65 95.9,141.65 96.15,141.45 96.4,141.79 96.65,141.62 96.9,141.49 97.15,141.49 97.4,141.71 98.9,141.5 100.4,141.46 101.9,141.79 103.4,141.67 104.9,142 106.4,141.66 107.9,141.75 109.4,141.9 110.9,141.78 112.4,141.74 113.9,142 115.4,141.89 116.9,142.24 118.4,141.8 119.9,141.84 121.4,142.14 122.9,142 124.4,142.15 125.9,142.07 127.4,141.92 128.9,142.2 130.4,142.2 131.9,142.13 133.4,142.15 134.9,142.01 136.4,142.25 137.9,142.03 139.4,142.09 140.9,142.24 142.4,142.11 143.9,142.41 145.4,142.02 146.9,142.36 148.4,142.35 149.9,142.39 151.4,142.04 152.9,142.26 154.4,142.3 155.9,142.37 157.4,142.08 158.9,142.46 160.4,142.04 161.9,142.26 163.4,142.14 164.3,142.03 164.5,129.26 164.8,175.39 165.4,144.2 169.4,143.45 202.8,142.95" fill="none" stroke="#bd5c5d" stroke-width="0.9" stroke-linejoin="round"/>
<polyline points="28.2,143.32 67.1,143.32 67.4,129.18 67.65,133.18 67.9,134.98 68.15,136.47 68.4,137.1 68.65,137.56 68.9,138.06 69.15,137.99 69.4,138.47 69.65,138.58 69.9,138.44 70.15,138.7 70.4,139.03 70.65,138.85 70.9,139.24 71.15,139.18 71.4,139.39 71.65,139.27 71.9,139.24 72.15,139.37 72.4,139.55 72.65,139.59 72.9,139.68 73.15,139.64 73.4,139.38 73.65,139.65 73.9,139.48 74.15,139.82 74.4,139.97 74.65,139.94 74.9,139.61 75.15,139.99 75.4,139.72 75.65,139.8 75.9,139.99 76.15,139.72 76.4,139.7 76.65,140.11 76.9,139.84 77.15,139.83 77.4,139.93 77.65,139.99 77.9,140.22 78.15,139.96 78.4,139.94 78.65,140.26 78.9,139.98 79.15,140.15 79.4,140.38 79.65,139.94 79.9,140.2 80.15,140.22 80.4,140.02 80.65,140.4 80.9,140.09 81.15,140.09 81.4,140.1 81.65,140.22 81.9,140.37 82.15,140.4 82.4,140.58 82.65,140.43 82.9,140.25 83.15,140.62 83.4,140.18 83.65,140.28 83.9,140.28 84.15,140.58 84.4,140.51 84.65,140.52 84.9,140.4 85.15,140.37 85.4,140.67 85.65,140.64 85.9,140.52 86.15,140.47 86.4,140.74 86.65,140.7 86.9,140.54 87.15,140.66 87.4,140.5 87.65,140.85 87.9,140.4 88.15,140.72 88.4,140.88 88.65,140.87 88.9,140.89 89.15,140.5 89.4,140.6 89.65,140.88 89.9,140.72 90.15,140.87 90.4,140.78 90.65,140.8 90.9,140.73 91.15,140.73 91.4,140.8 91.65,140.75 91.9,140.9 92.15,140.77 92.4,141 92.65,141.04 92.9,140.61 93.15,140.87 93.4,141.06 93.65,141.04 93.9,141.05 94.15,140.65 94.4,141.14 94.65,141.05 94.9,140.79 95.15,141.08 95.4,140.87 95.65,140.82 95.9,140.7 96.15,140.8 96.4,141 96.65,141.07 96.9,141.02 97.15,140.79 97.4,140.81 98.9,140.93 100.4,141.31 101.9,141.08 103.4,140.94 104.9,141.01 106.4,141.38 107.9,141.35 109.4,141.48 110.9,141.17 112.4,141.33 113.9,141.44 115.4,141.61 116.9,141.27 118.4,141.3 119.9,141.63 121.4,141.21 122.9,141.3 124.4,141.39 125.9,141.34 127.4,141.71 128.9,141.5 130.4,141.43 131.9,141.7 133.4,141.43 134.9,141.53 136.4,141.69 137.9,141.78 139.4,141.33 140.9,141.58 142.4,141.77 143.9,141.59 145.4,141.4 146.9,141.66 148.4,141.69 149.9,141.74 151.4,141.7 152.9,141.79 154.4,141.65 155.9,141.64 157.4,141.71 158.9,141.53 160.4,141.49 161.9,141.38 163.4,141.74 164.3,141.5 164.5,129.47 164.8,175.87 165.4,144.2 169.4,143.4 202.8,142.9" fill="none" stroke="#bd5c5d" stroke-width="0.9" stroke-linejoin="round"/>
<polyline points="28.2,143.45 67.1,143.45 67.4,128.68 67.65,133.17 67.9,135.05 68.15,136.25 68.4,136.66 68.65,137.14 68.9,137.34 69.15,137.36 69.4,137.64 69.65,138.07 69.9,138.06 70.15,138.04 70.4,138.18 70.65,138.34 70.9,138.54 71.15,138.82 71.4,138.59 71.65,138.83 71.9,138.97 72.15,139.01 72.4,138.86 72.65,139.14 72.9,139.07 73.15,138.86 73.4,139.04 73.65,139.33 73.9,139.15 74.15,139.04 74.4,139.01 74.65,139.35 74.9,139.54 75.15,139.57 75.4,139.18 75.65,139.47 75.9,139.17 76.15,139.42 76.4,139.58 76.65,139.27 76.9,139.59 77.15,139.59 77.4,139.65 77.65,139.72 77.9,139.62 78.15,139.72 78.4,139.59 78.65,139.59 78.9,139.85 79.15,139.49 79.4,139.54 79.65,139.47 79.9,139.67 80.15,139.57 80.4,139.88 80.65,139.72 80.9,139.92 81.15,139.62 81.4,139.67 81.65,139.64 81.9,139.71 82.15,139.98 82.4,139.89 82.65,139.66 82.9,139.78 83.15,140.16 83.4,140.03 83.65,139.96 83.9,140.06 84.15,139.74 84.4,139.86 84.65,139.99 84.9,140.15 85.15,139.97 85.4,140.03 85.65,140.2 85.9,140.14 86.15,139.91 86.4,140.24 86.65,140.08 86.9,140.02 87.15,140.03 87.4,140.31 87.65,139.94 87.9,140.32 88.15,139.99 88.4,140.33 88.65,140.41 88.9,140.28 89.15,140.3 89.4,140.12 89.65,140.03 89.9,140.5 90.15,140.46 90.4,140.11 90.65,140.21 90.9,140.29 91.15,140.14 91.4,140.36 91.65,140.2 91.9,140.43 92.15,140.19 92.4,140.33 92.65,140.58 92.9,140.57 93.15,140.17 93.4,140.42 93.65,140.47 93.9,140.54 94.15,140.24 94.4,140.35 94.65,140.27 94.9,140.33 95.15,140.22 95.4,140.41 95.65,140.28 95.9,140.63 96.15,140.71 96.4,140.49 96.65,140.39 96.9,140.65 97.15,140.69 97.4,140.37 98.9,140.79 100.4,140.49 101.9,140.83 103.4,140.75 104.9,140.48 106.4,140.5 107.9,140.77 109.4,140.96 110.9,140.95 112.4,140.99 113.9,140.95 115.4,141.03 116.9,140.82 118.4,140.76 119.9,141.16 121.4,141.16 122.9,141.1 124.4,140.77 125.9,141.06 127.4,141.05 128.9,140.97 130.4,141.15 131.9,140.97 133.4,140.98 134.9,140.85 136.4,141.13 137.9,141.06 139.4,141.07 140.9,141.13 142.4,141.02 143.9,141.24 145.4,141.26 146.9,140.95 148.4,141.16 149.9,141.02 151.4,141.14 152.9,141.1 154.4,141.03 155.9,141.31 157.4,141.05 158.9,141.18 160.4,141.21 161.9,141.25 163.4,140.97 164.3,140.97 164.5,128.91 164.8,175.73 165.4,144.2 169.4,143.43 202.8,142.93" fill="none" stroke="#bd5c5d" stroke-width="0.9" stroke-linejoin="round"/>
<polyline points="28.2,143.24 67.1,143.24 67.4,130.07 67.65,132.69 67.9,134.71 68.15,135.65 68.4,136.13 68.65,136.65 68.9,136.96 69.15,136.82 69.4,137.15 69.65,137.44 69.9,137.73 70.15,137.38 70.4,137.83 70.65,137.97 70.9,138.14 71.15,138.25 71.4,138.21 71.65,138.35 71.9,138.05 72.15,138.11 72.4,138.51 72.65,138.51 72.9,138.48 73.15,138.26 73.4,138.61 73.65,138.28 73.9,138.47 74.15,138.79 74.4,138.81 74.65,138.74 74.9,138.53 75.15,138.74 75.4,138.72 75.65,138.92 75.9,138.61 76.15,138.81 76.4,138.96 76.65,138.8 76.9,138.74 77.15,138.89 77.4,138.97 77.65,138.76 77.9,138.91 78.15,138.79 78.4,139.06 78.65,139.15 78.9,139.03 79.15,138.97 79.4,139.16 79.65,139.05 79.9,138.85 80.15,139.04 80.4,139.04 80.65,138.98 80.9,139.1 81.15,139.12 81.4,139.18 81.65,139.01 81.9,139.34 82.15,139.45 82.4,139.17 82.65,139.49 82.9,139.07 83.15,139.11 83.4,139.43 83.65,139.36 83.9,139.32 84.15,139.22 84.4,139.58 84.65,139.21 84.9,139.5 85.15,139.27 85.4,139.56 85.65,139.63 85.9,139.35 86.15,139.4 86.4,139.69 86.65,139.55 86.9,139.65 87.15,139.56 87.4,139.34 87.65,139.45 87.9,139.51 88.15,139.48 88.4,139.57 88.65,139.72 88.9,139.34 89.15,139.67 89.4,139.39 89.65,139.72 89.9,139.37 90.15,139.42 90.4,139.74 90.65,139.6 90.9,139.55 91.15,139.45 91.4,139.55 91.65,139.94 91.9,139.54 92.15,139.66 92.4,139.61 92.65,139.97 92.9,139.59 93.15,139.55 93.4,139.56 93.65,140.01 93.9,139.85 94.15,139.71 94.4,139.96 94.65,140.02 94.9,139.66 95.15,139.65 95.4,139.81 95.65,140.02 95.9,139.68 96.15,139.68 96.4,139.8 96.65,139.65 96.9,140.04 97.15,139.93 97.4,140.02 98.9,139.94 100.4,139.99 101.9,139.85 103.4,139.87 104.9,140.13 106.4,139.92 107.9,140.28 109.4,140.11 110.9,140.44 112.4,140.16 113.9,140.43 115.4,140.05 116.9,140.35 118.4,140.05 119.9,140.53 121.4,140.41 122.9,140.23 124.4,140.34 125.9,140.43 127.4,140.57 128.9,140.5 130.4,140.36 131.9,140.29 133.4,140.62 134.9,140.3 136.4,140.55 137.9,140.41 139.4,140.58 140.9,140.41 142.4,140.4 143.9,140.55 145.4,140.39 146.9,140.54 148.4,140.66 149.9,140.51 151.4,140.66 152.9,140.51 154.4,140.64 155.9,140.74 157.4,140.5 158.9,140.73 160.4,140.4 161.9,140.29 163.4,140.42 164.3,140.43 164.5,128.47 164.8,176.53 165.4,144.2 169.4,143.37 202.8,142.87" fill="none" stroke="#bd5c5d" stroke-width="0.9" stroke-linejoin="round"/>
<polyline points="28.2,142.74 67.1,142.74 67.4,128.98 67.65,132.57 67.9,133.7 68.15,134.64 68.4,135.13 68.65,135.66 68.9,135.96 69.15,136.22 69.4,136.5 69.65,136.48 69.9,136.64 70.15,136.89 70.4,136.81 70.65,137.24 70.9,137.37 71.15,137.42 71.4,137.5 71.65,137.41 71.9,137.57 72.15,137.41 72.4,137.75 72.65,137.77 72.9,137.61 73.15,137.58 73.4,137.86 73.65,137.69 73.9,137.78 74.15,137.96 74.4,137.82 74.65,138 74.9,137.65 75.15,137.72 75.4,137.8 75.65,138.07 75.9,138.1 76.15,138.2 76.4,137.8 76.65,137.81 76.9,138.11 77.15,137.96 77.4,138.04 77.65,137.91 77.9,138.32 78.15,138.33 78.4,138.22 78.65,138.05 78.9,138.38 79.15,138.45 79.4,138.35 79.65,138.14 79.9,138.46 80.15,138.25 80.4,138.45 80.65,138.16 80.9,138.5 81.15,138.21 81.4,138.22 81.65,138.2 81.9,138.27 82.15,138.3 82.4,138.59 82.65,138.34 82.9,138.36 83.15,138.48 83.4,138.42 83.65,138.73 83.9,138.71 84.15,138.8 84.4,138.46 84.65,138.75 84.9,138.74 85.15,138.46 85.4,138.82 85.65,138.48 85.9,138.53 86.15,138.65 86.4,138.67 86.65,138.5 86.9,138.56 87.15,138.75 87.4,138.65 87.65,138.66 87.9,138.95 88.15,138.78 88.4,138.69 88.65,138.93 88.9,138.95 89.15,139.02 89.4,138.73 89.65,138.63 89.9,139.06 90.15,139.08 90.4,138.73 90.65,138.67 90.9,139.01 91.15,139.01 91.4,139.02 91.65,138.95 91.9,138.78 92.15,138.93 92.4,139.11 92.65,138.74 92.9,138.98 93.15,139.03 93.4,138.76 93.65,138.79 93.9,139.05 94.15,138.97 94.4,139.08 94.65,139.19 94.9,139.12 95.15,138.92 95.4,138.96 95.65,139.27 95.9,139.09 96.15,139.02 96.4,139.16 96.65,138.94 96.9,138.85 97.15,139.12 97.4,139.11 98.9,139.14 100.4,139.22 101.9,139.32 103.4,139.3 104.9,139.39 106.4,139.56 107.9,139.33 109.4,139.26 110.9,139.5 112.4,139.51 113.9,139.53 115.4,139.4 116.9,139.53 118.4,139.6 119.9,139.35 121.4,139.48 122.9,139.59 124.4,139.47 125.9,139.71 127.4,139.38 128.9,139.41 130.4,139.5 131.9,139.56 133.4,139.44 134.9,139.79 136.4,139.62 137.9,139.49 139.4,139.84 140.9,139.66 142.4,139.63 143.9,139.55 145.4,139.81 146.9,139.95 148.4,139.46 149.9,139.89 151.4,139.68 152.9,139.91 154.4,139.83 155.9,139.83 157.4,139.8 158.9,139.62 160.4,139.93 161.9,139.61 163.4,139.85 164.3,139.9 164.5,129.57 164.8,175.67 165.4,144.2 169.4,143.22 202.8,142.72" fill="none" stroke="#bd5c5d" stroke-width="0.9" stroke-linejoin="round"/>
<polyline points="28.2,143.32 67.1,143.32 67.4,130.07 67.65,132 67.9,133.91 68.15,134.37 68.4,135.19 68.65,135.55 68.9,135.46 69.15,135.73 69.4,136.09 69.65,136.18 69.9,136.44 70.15,136.69 70.4,136.52 70.65,136.64 70.9,136.81 71.15,136.76 71.4,137.12 71.65,137.18 71.9,137.04 72.15,137.3 72.4,137.26 72.65,137.21 72.9,137.54 73.15,137.59 73.4,137.41 73.65,137.71 73.9,137.78 74.15,137.56 74.4,137.38 74.65,137.41 74.9,137.45 75.15,137.69 75.4,137.86 75.65,137.87 75.9,137.9 76.15,137.93 76.4,137.87 76.65,137.57 76.9,137.82 77.15,137.72 77.4,137.9 77.65,137.64 77.9,137.74 78.15,137.72 78.4,138.08 78.65,138.08 78.9,138.04 79.15,138.17 79.4,138.25 79.65,137.99 79.9,138.11 80.15,137.98 80.4,138.05 80.65,137.91 80.9,138.12 81.15,137.9 81.4,137.97 81.65,138.3 81.9,138.04 82.15,138.36 82.4,138.22 82.65,138.38 82.9,138.38 83.15,138.07 83.4,138.13 83.65,138.37 83.9,138.23 84.15,138.28 84.4,138.35 84.65,138.13 84.9,138.33 85.15,138.59 85.4,138.17 85.65,138.18 85.9,138.17 86.15,138.63 86.4,138.53 86.65,138.28 86.9,138.21 87.15,138.27 87.4,138.46 87.65,138.33 87.9,138.39 88.15,138.75 88.4,138.29 88.65,138.73 88.9,138.79 89.15,138.45 89.4,138.46 89.65,138.48 89.9,138.7 90.15,138.39 90.4,138.79 90.65,138.57 90.9,138.87 91.15,138.77 91.4,138.8 91.65,138.52 91.9,138.74 92.15,138.73 92.4,138.63 92.65,138.64 92.9,138.95 93.15,138.71 93.4,138.63 93.65,138.74 93.9,138.95 94.15,138.98 94.4,138.62 94.65,138.54 94.9,138.98 95.15,138.98 95.4,138.94 95.65,138.7 95.9,138.63 96.15,138.63 96.4,138.71 96.65,139.07 96.9,138.89 97.15,138.84 97.4,138.86 98.9,138.92 100.4,138.97 101.9,138.82 103.4,139.01 104.9,138.93 106.4,138.89 107.9,139.24 109.4,139.32 110.9,139.17 112.4,139.13 113.9,139.45 115.4,139.17 116.9,139.01 118.4,139.5 119.9,139.36 121.4,139.25 122.9,139.11 124.4,139.16 125.9,139.21 127.4,139.41 128.9,139.52 130.4,139.62 131.9,139.4 133.4,139.3 134.9,139.35 136.4,139.36 137.9,139.35 139.4,139.6 140.9,139.21 142.4,139.52 143.9,139.33 145.4,139.47 146.9,139.62 148.4,139.24 149.9,139.44 151.4,139.45 152.9,139.27 154.4,139.69 155.9,139.72 157.4,139.58 158.9,139.59 160.4,139.63 161.9,139.45 163.4,139.24 164.3,139.37 164.5,129.16 164.8,175.69 165.4,144.2 169.4,143.4 202.8,142.9" fill="none" stroke="#bd5c5d" stroke-width="0.9" stroke-linejoin="round"/>
<polyline points="28.2,142.69 67.1,142.69 67.4,129.88 67.65,132.04 67.9,133.15 68.15,133.91 68.4,134.48 68.65,135 68.9,135.06 69.15,135.34 69.4,135.73 69.65,135.52 69.9,135.81 70.15,136.08 70.4,136 70.65,136.25 70.9,136.27 71.15,136.66 71.4,136.59 71.65,136.66 71.9,136.77 72.15,136.77 72.4,136.49 72.65,136.86 72.9,136.94 73.15,137.05 73.4,136.72 73.65,136.67 73.9,137.19 74.15,136.99 74.4,137.14 74.65,136.93 74.9,137.16 75.15,137.2 75.4,137.22 75.65,137.2 75.9,137.14 76.15,137.16 76.4,137.24 76.65,137.28 76.9,137.49 77.15,137.34 77.4,137.43 77.65,137.19 77.9,137.39 78.15,137.5 78.4,137.24 78.65,137.24 78.9,137.63 79.15,137.46 79.4,137.66 79.65,137.62 79.9,137.26 80.15,137.48 80.4,137.36 80.65,137.52 80.9,137.73 81.15,137.4 81.4,137.38 81.65,137.35 81.9,137.77 82.15,137.6 82.4,137.53 82.65,137.59 82.9,137.76 83.15,137.48 83.4,137.81 83.65,137.88 83.9,137.76 84.15,137.78 84.4,137.87 84.65,138 84.9,138.01 85.15,137.63 85.4,137.93 85.65,137.57 85.9,138.05 86.15,137.62 86.4,137.99 86.65,137.67 86.9,137.68 87.15,137.91 87.4,137.73 87.65,138.01 87.9,137.81 88.15,138.03 88.4,137.99 88.65,138.08 88.9,137.9 89.15,138.03 89.4,137.98 89.65,137.87 89.9,137.96 90.15,137.79 90.4,138.06 90.65,137.95 90.9,138.07 91.15,137.91 91.4,137.84 91.65,138.29 91.9,138.32 92.15,138.03 92.4,138.27 92.65,138.28 92.9,138.19 93.15,138.11 93.4,138.16 93.65,138.04 93.9,138.06 94.15,138.04 94.4,138.03 94.65,137.99 94.9,138.1 95.15,138.24 95.4,138.33 95.65,138.31 95.9,138.41 96.15,138.45 96.4,138.08 96.65,138.1 96.9,138.18 97.15,138.06 97.4,138.43 98.9,138.44 100.4,138.4 101.9,138.27 103.4,138.55 104.9,138.26 106.4,138.35 107.9,138.54 109.4,138.78 110.9,138.58 112.4,138.75 113.9,138.69 115.4,138.54 116.9,138.43 118.4,138.9 119.9,138.55 121.4,138.7 122.9,138.89 124.4,138.99 125.9,138.93 127.4,138.54 128.9,138.92 130.4,138.91 131.9,138.77 133.4,138.75 134.9,138.64 136.4,139.04 137.9,138.73 139.4,138.67 140.9,138.66 142.4,139.1 143.9,138.96 145.4,139.03 146.9,139.07 148.4,138.99 149.9,139.03 151.4,138.67 152.9,138.99 154.4,139.05 155.9,138.88 157.4,139.14 158.9,138.66 160.4,138.67 161.9,138.84 163.4,139.12 164.3,139.1 164.5,128.14 164.8,176.49 165.4,144.2 169.4,143.21 202.8,142.71" fill="none" stroke="#bd5c5d" stroke-width="0.9" stroke-linejoin="round"/>
<polyline points="28.2,143 67.1,143 67.4,129.21 67.65,132.01 67.9,133.26 68.15,133.98 68.4,134.43 68.65,135 68.9,135.6 69.15,135.51 69.4,135.86 69.65,136.22 69.9,136.42 70.15,136.28 70.4,136.77 70.65,136.6 70.9,136.92 71.15,136.78 71.4,137.32 71.65,137.25 71.9,137.31 72.15,137.18 72.4,137.26 72.65,137.4 72.9,137.56 73.15,137.45 73.4,137.75 73.65,137.56 73.9,137.68 74.15,137.53 74.4,137.64 74.65,137.77 74.9,137.52 75.15,137.47 75.4,137.52 75.65,137.71 75.9,137.58 76.15,137.51 76.4,137.92 76.65,137.79 76.9,137.68 77.15,137.55 77.4,138.04 77.65,137.82 77.9,137.73 78.15,138.02 78.4,137.72 78.65,137.65 78.9,138.06 79.15,137.9 79.4,138.06 79.65,137.84 79.9,137.84 80.15,137.77 80.4,138.08 80.65,138.11 80.9,138.05 81.15,137.84 81.4,137.77 81.65,138.08 81.9,138.09 82.15,137.77 82.4,138.25 82.65,137.95 82.9,138.15 83.15,137.89 83.4,137.99 83.65,137.96 83.9,138.15 84.15,138.11 84.4,138.23 84.65,138.28 84.9,138.04 85.15,138.07 85.4,138.01 85.65,138.19 85.9,137.95 86.15,138.12 86.4,138.35 86.65,138.36 86.9,137.92 87.15,138.12 87.4,138.24 87.65,138.14 87.9,138.44 88.15,138.26 88.4,138.11 88.65,138.02 88.9,138.25 89.15,138.25 89.4,138.05 89.65,138.27 89.9,138.39 90.15,138.45 90.4,138.15 90.65,138.4 90.9,138.21 91.15,138.39 91.4,138.37 91.65,138.32 91.9,138.17 92.15,138.36 92.4,138.39 92.65,138.55 92.9,138.27 93.15,138.4 93.4,138.51 93.65,138.61 93.9,138.16 94.15,138.38 94.4,138.64 94.65,138.51 94.9,138.16 95.15,138.4 95.4,138.64 95.65,138.6 95.9,138.36 96.15,138.41 96.4,138.68 96.65,138.3 96.9,138.47 97.15,138.33 97.4,138.67 98.9,138.68 100.4,138.42 101.9,138.54 103.4,138.72 104.9,138.52 106.4,138.63 107.9,138.83 109.4,138.62 110.9,138.61 112.4,139.01 113.9,138.73 115.4,138.62 116.9,138.91 118.4,138.74 119.9,139.09 121.4,138.99 122.9,139.01 124.4,138.78 125.9,139.15 127.4,139.02 128.9,138.98 130.4,138.74 131.9,139.14 133.4,138.91 134.9,139.05 136.4,139.14 137.9,139.13 139.4,138.98 140.9,138.98 142.4,139.04 143.9,139.23 145.4,139.1 146.9,139.19 148.4,139.09 149.9,139.12 151.4,139.03 152.9,138.93 154.4,139.17 155.9,139 157.4,139.12 158.9,139.15 160.4,139.3 161.9,139.05 163.4,138.88 164.3,139.1 164.5,128.5 164.8,176.33 165.4,144.2 169.4,143.3 202.8,142.8" fill="none" stroke="#bd5c5d" stroke-width="0.9" stroke-linejoin="round"/>
<polyline points="28.2,142.88 67.1,142.88 67.4,128.7 67.65,132.2 67.9,133.09 68.15,134.42 68.4,135.17 68.65,135.66 68.9,136.42 69.15,136.8 69.4,137.44 69.65,137.77 69.9,138.16 70.15,138.64 70.4,139.02 70.65,139.29 70.9,139.58 71.15,139.64 71.4,140.12 71.65,139.94 71.9,140.08 72.15,140.01 72.4,140.23 72.65,140.49 72.9,140.48 73.15,140.17 73.4,140.48 73.65,140.35 73.9,140.23 74.15,140.15 74.4,140.05 74.65,139.93 74.9,139.92 75.15,139.97 75.4,140.02 75.65,139.67 75.9,140.1 76.15,139.88 76.4,139.67 76.65,139.57 76.9,139.59 77.15,139.5 77.4,139.57 77.65,139.65 77.9,139.26 78.15,139.18 78.4,139.26 78.65,139.27 78.9,139.5 79.15,139.49 79.4,139.29 79.65,139.11 79.9,139.01 80.15,138.93 80.4,139.27 80.65,138.91 80.9,138.91 81.15,138.92 81.4,139.01 81.65,138.93 81.9,139.05 82.15,138.99 82.4,138.91 82.65,138.68 82.9,138.86 83.15,138.9 83.4,138.86 83.65,138.51 83.9,138.65 84.15,138.76 84.4,138.76 84.65,138.88 84.9,138.62 85.15,138.71 85.4,138.41 85.65,138.87 85.9,138.82 86.15,138.83 86.4,138.48 86.65,138.36 86.9,138.51 87.15,138.54 87.4,138.39 87.65,138.51 87.9,138.31 88.15,138.6 88.4,138.6 88.65,138.37 88.9,138.42 89.15,138.74 89.4,138.33 89.65,138.75 89.9,138.37 90.15,138.58 90.4,138.43 90.65,138.48 90.9,138.34 91.15,138.73 91.4,138.39 91.65,138.42 91.9,138.52 92.15,138.49 92.4,138.37 92.65,138.61 92.9,138.38 93.15,138.36 93.4,138.58 93.65,138.42 93.9,138.31 94.15,138.52 94.4,138.55 94.65,138.5 94.9,138.36 95.15,138.72 95.4,138.53 95.65,138.63 95.9,138.39 96.15,138.48 96.4,138.57 96.65,138.62 96.9,138.74 97.15,138.56 97.4,138.65 98.9,138.77 100.4,138.57 101.9,138.83 103.4,138.66 104.9,138.84 106.4,138.75 107.9,138.57 109.4,138.65 110.9,138.5 112.4,138.67 113.9,138.61 115.4,138.92 116.9,138.73 118.4,138.9 119.9,138.99 121.4,138.94 122.9,138.68 124.4,138.98 125.9,138.91 127.4,138.98 128.9,138.87 130.4,139.1 131.9,138.66 133.4,138.69 134.9,139 136.4,138.98 137.9,138.95 139.4,138.8 140.9,138.76 142.4,138.93 143.9,138.9 145.4,138.98 146.9,139.12 148.4,139.18 149.9,139.13 151.4,138.94 152.9,138.99 154.4,138.77 155.9,138.8 157.4,139 158.9,139.04 160.4,139.04 161.9,139.16 163.4,139 164.3,139.1 164.5,128.82 164.8,176.48 165.4,144.2 169.4,143.26 202.8,142.76" fill="none" stroke="#bd5c5d" stroke-width="0.9" stroke-linejoin="round"/>
<polyline points="28.2,143.35 67.1,143.35 67.4,128.99 67.65,132.14 67.9,133.97 68.15,135.65 68.4,136.96 68.65,138.73 68.9,140.2 69.15,141.49 69.4,142.83 69.65,143.69 69.9,144.84 70.15,145.72 70.4,146.29 70.65,146.4 70.9,147.04 71.15,147.05 71.4,147.23 71.65,147.26 71.9,147.16 72.15,147.18 72.4,147.22 72.65,146.68 72.9,146.6 73.15,146.5 73.4,146.44 73.65,145.81 73.9,145.88 74.15,145.62 74.4,145.27 74.65,144.99 74.9,144.93 75.15,144.66 75.4,144.46 75.65,143.87 75.9,143.64 76.15,143.86 76.4,143.41 76.65,143.12 76.9,142.84 77.15,142.65 77.4,142.67 77.65,142.44 77.9,142.6 78.15,142.23 78.4,142.19 78.65,141.82 78.9,141.88 79.15,141.82 79.4,141.31 79.65,141.56 79.9,141.37 80.15,141.01 80.4,141.28 80.65,140.76 80.9,140.91 81.15,140.61 81.4,140.52 81.65,140.43 81.9,140.52 82.15,140.43 82.4,140.14 82.65,140.48 82.9,140.23 83.15,139.9 83.4,140.08 83.65,140.05 83.9,139.85 84.15,140.09 84.4,139.99 84.65,139.91 84.9,139.55 85.15,139.54 85.4,139.84 85.65,139.71 85.9,139.49 86.15,139.55 86.4,139.63 86.65,139.35 86.9,139.58 87.15,139.54 87.4,139.12 87.65,139.49 87.9,139.46 88.15,139.46 88.4,139.31 88.65,139.45 88.9,139.22 89.15,139.11 89.4,139.05 89.65,139.26 89.9,139.19 90.15,139.07 90.4,139.09 90.65,139.27 90.9,138.94 91.15,139.22 91.4,139 91.65,139.01 91.9,138.92 92.15,139.06 92.4,138.88 92.65,139.21 92.9,138.86 93.15,139.08 93.4,138.91 93.65,139.01 93.9,138.74 94.15,139.15 94.4,139.17 94.65,138.79 94.9,138.9 95.15,139.01 95.4,139.15 95.65,139.14 95.9,138.96 96.15,138.76 96.4,138.91 96.65,139.07 96.9,139.09 97.15,138.88 97.4,138.66 98.9,138.95 100.4,139.07 101.9,138.78 103.4,139.02 104.9,139.02 106.4,138.69 107.9,138.91 109.4,138.79 110.9,138.93 112.4,139.19 113.9,138.86 115.4,139.05 116.9,139.01 118.4,139.21 119.9,139.28 121.4,138.99 122.9,138.97 124.4,139.29 125.9,139.17 127.4,138.9 128.9,139.02 130.4,138.96 131.9,139.3 133.4,139.08 134.9,138.99 136.4,139.16 137.9,139.39 139.4,139.03 140.9,139.03 142.4,139.05 143.9,139.18 145.4,139.34 146.9,139.35 148.4,139.11 149.9,139.12 151.4,139 152.9,139.34 154.4,139.47 155.9,139.15 157.4,139.43 158.9,139.1 160.4,139.33 161.9,139.37 163.4,139.21 164.3,139.1 164.5,129.13 164.8,176.17 165.4,144.2 169.4,143.4 202.8,142.9" fill="none" stroke="#bd5c5d" stroke-width="0.9" stroke-linejoin="round"/>
<polyline points="28.2,143.43 67.1,143.43 67.4,128.41 67.65,132.88 67.9,135.35 68.15,138.24 68.4,141.62 68.65,144.98 68.9,147.6 69.15,150.29 69.4,152.14 69.65,153.79 69.9,155.15 70.15,155.81 70.4,156.29 70.65,156.2 70.9,156.47 71.15,156.37 71.4,155.99 71.65,155.51 71.9,154.85 72.15,154.26 72.4,153.86 72.65,153.47 72.9,152.65 73.15,152.19 73.4,151.73 73.65,151.07 73.9,150.46 74.15,149.97 74.4,149.67 74.65,148.96 74.9,148.52 75.15,148.18 75.4,147.6 75.65,147.36 75.9,146.65 76.15,146.67 76.4,145.92 76.65,145.68 76.9,145.44 77.15,144.87 77.4,144.68 77.65,144.36 77.9,144.4 78.15,143.91 78.4,143.5 78.65,143.61 78.9,143.38 79.15,143.24 79.4,142.75 79.65,142.79 79.9,142.5 80.15,142.2 80.4,142.04 80.65,141.91 80.9,141.86 81.15,141.42 81.4,141.56 81.65,141.6 81.9,141.29 82.15,141.22 82.4,141.19 82.65,140.89 82.9,140.72 83.15,140.47 83.4,140.54 83.65,140.7 83.9,140.63 84.15,140.11 84.4,140.22 84.65,140.37 84.9,140.2 85.15,140.18 85.4,140.18 85.65,139.84 85.9,140.1 86.15,139.96 86.4,139.58 86.65,139.51 86.9,139.57 87.15,139.79 87.4,139.81 87.65,139.32 87.9,139.46 88.15,139.74 88.4,139.37 88.65,139.55 88.9,139.58 89.15,139.13 89.4,139.28 89.65,139.37 89.9,139.22 90.15,139.33 90.4,139.28 90.65,139.38 90.9,139.44 91.15,139.21 91.4,139.1 91.65,139.22 91.9,139.29 92.15,139.35 92.4,139.34 92.65,138.95 92.9,138.99 93.15,139.05 93.4,138.89 93.65,139.16 93.9,139.21 94.15,139 94.4,138.95 94.65,139.09 94.9,138.93 95.15,139.23 95.4,139.2 95.65,138.81 95.9,138.85 96.15,138.97 96.4,139.07 96.65,139.12 96.9,138.86 97.15,139.13 97.4,138.87 98.9,138.92 100.4,138.83 101.9,139.14 103.4,139.19 104.9,138.99 106.4,139.17 107.9,139.1 109.4,139.12 110.9,139.08 112.4,138.85 113.9,138.95 115.4,138.87 116.9,138.94 118.4,139.35 119.9,139.13 121.4,139 122.9,139.23 124.4,139.38 125.9,138.96 127.4,139.12 128.9,139.43 130.4,139.34 131.9,138.99 133.4,139.36 134.9,138.98 136.4,139.19 137.9,139.02 139.4,139.21 140.9,139.12 142.4,139.35 143.9,139.17 145.4,139.2 146.9,139.49 148.4,139.51 149.9,139.26 151.4,139.33 152.9,139.04 154.4,139.46 155.9,139.05 157.4,139.33 158.9,139.12 160.4,139.18 161.9,139.24 163.4,139.28 164.3,139.1 164.5,128.53 164.8,175.19 165.4,144.2 169.4,143.43 202.8,142.93" fill="none" stroke="#bd5c5d" stroke-width="0.9" stroke-linejoin="round"/>
<polyline points="28.2,142.96 67.1,142.96 67.4,128.77 67.65,132.84 67.9,138.56 68.15,145.68 68.4,152.92 68.65,159.06 68.9,163.87 69.15,166.93 69.4,169.17 69.65,170.25 69.9,170.29 70.15,170.2 70.4,169.59 70.65,168.26 70.9,167.38 71.15,165.83 71.4,164.65 71.65,163.08 71.9,161.86 72.15,160.59 72.4,159.65 72.65,158.14 72.9,157.17 73.15,156.19 73.4,154.83 73.65,154.08 73.9,153.27 74.15,152.06 74.4,151.42 74.65,150.8 74.9,150.11 75.15,149.29 75.4,148.68 75.65,148.17 75.9,147.41 76.15,146.88 76.4,146.24 76.65,145.92 76.9,145.5 77.15,144.84 77.4,144.65 77.65,144.35 77.9,143.81 78.15,143.46 78.4,143.4 78.65,143.22 78.9,142.91 79.15,142.71 79.4,142.18 79.65,142.12 79.9,142.01 80.15,141.5 80.4,141.62 80.65,141.05 80.9,141.33 81.15,140.74 81.4,141.09 81.65,140.8 81.9,140.66 82.15,140.24 82.4,140.21 82.65,140.14 82.9,140.02 83.15,140.25 83.4,139.84 83.65,139.69 83.9,139.64 84.15,139.88 84.4,139.68 84.65,139.87 84.9,139.44 85.15,139.76 85.4,139.54 85.65,139.39 85.9,139.53 86.15,139.33 86.4,139.47 86.65,139.08 86.9,139.36 87.15,139 87.4,139.16 87.65,138.96 87.9,139.29 88.15,139.32 88.4,139.31 88.65,139.02 88.9,138.99 89.15,139.01 89.4,139.04 89.65,138.83 89.9,138.74 90.15,138.88 90.4,138.74 90.65,139.05 90.9,138.97 91.15,138.68 91.4,138.92 91.65,138.84 91.9,138.98 92.15,138.72 92.4,138.66 92.65,138.85 92.9,139.08 93.15,138.83 93.4,139.08 93.65,138.68 93.9,138.96 94.15,139.09 94.4,138.89 94.65,138.94 94.9,138.92 95.15,138.82 95.4,138.95 95.65,138.96 95.9,138.63 96.15,138.73 96.4,138.8 96.65,138.71 96.9,138.91 97.15,138.98 97.4,138.83 98.9,138.93 100.4,138.99 101.9,138.6 103.4,138.67 104.9,139.09 106.4,138.89 107.9,138.74 109.4,139.03 110.9,138.95 112.4,138.9 113.9,138.82 115.4,139.12 116.9,139.01 118.4,139.11 119.9,139.14 121.4,138.84 122.9,139.12 124.4,139.16 125.9,139.22 127.4,139.21 128.9,138.99 130.4,139.18 131.9,138.94 133.4,139.25 134.9,138.83 136.4,139 137.9,139.06 139.4,139.22 140.9,138.79 142.4,139.19 143.9,139.01 145.4,139.04 146.9,139.24 148.4,139.08 149.9,139.25 151.4,138.89 152.9,138.84 154.4,138.82 155.9,138.85 157.4,138.9 158.9,139.23 160.4,139.15 161.9,139.24 163.4,139.23 164.3,139.1 164.5,128.6 164.8,175.54 165.4,144.2 169.4,143.29 202.8,142.79" fill="none" stroke="#bd5c5d" stroke-width="0.9" stroke-linejoin="round"/>
<polyline points="28.2,143.27 67.1,143.27 67.4,129.08 67.65,134.44 67.9,143.34 68.15,154.55 68.4,164.32 68.65,171.54 68.9,176.28 69.15,179 69.4,179.95 69.65,179.82 69.9,178.98 70.15,177.26 70.4,175.72 70.65,173.81 70.9,171.59 71.15,170.07 71.4,167.73 71.65,166.3 71.9,164.62 72.15,162.63 72.4,161.18 72.65,159.96 72.9,158.27 73.15,157.28 73.4,155.88 73.65,154.96 73.9,153.92 74.15,153.09 74.4,151.79 74.65,151.31 74.9,150.47 75.15,149.59 75.4,148.91 75.65,148.43 75.9,147.41 76.15,147.29 76.4,146.5 76.65,146.24 76.9,145.54 77.15,145 77.4,144.73 77.65,144.18 77.9,144.2 78.15,143.61 78.4,143.33 78.65,142.98 78.9,142.6 79.15,142.81 79.4,142.2 79.65,142.09 79.9,141.71 80.15,141.83 80.4,141.49 80.65,141.17 80.9,141.31 81.15,141.28 81.4,140.82 81.65,140.89 81.9,140.66 82.15,140.34 82.4,140.4 82.65,140.4 82.9,140.36 83.15,140.02 83.4,140.21 83.65,140.07 83.9,140.22 84.15,140.09 84.4,140.02 84.65,139.65 84.9,139.74 85.15,139.61 85.4,139.87 85.65,139.68 85.9,139.34 86.15,139.46 86.4,139.33 86.65,139.68 86.9,139.44 87.15,139.44 87.4,139.29 87.65,139.22 87.9,139.49 88.15,139.47 88.4,139.22 88.65,139.18 88.9,139.03 89.15,139.26 89.4,139.27 89.65,139.21 89.9,139.44 90.15,139.16 90.4,139.37 90.65,139.43 90.9,138.94 91.15,139.16 91.4,139.08 91.65,139.01 91.9,139.14 92.15,138.93 92.4,138.94 92.65,139.37 92.9,139.15 93.15,139.27 93.4,138.88 93.65,138.92 93.9,138.98 94.15,139.23 94.4,139.23 94.65,139.19 94.9,139.02 95.15,139.05 95.4,138.89 95.65,138.95 95.9,138.9 96.15,139.16 96.4,138.87 96.65,139.08 96.9,139.25 97.15,138.85 97.4,138.9 98.9,139.02 100.4,138.87 101.9,139.05 103.4,139.1 104.9,138.84 106.4,139.21 107.9,139.18 109.4,139.08 110.9,138.93 112.4,139.34 113.9,139.33 115.4,138.99 116.9,139.01 118.4,139.17 119.9,139.32 121.4,138.93 122.9,139.11 124.4,138.94 125.9,139.36 127.4,139.07 128.9,139.11 130.4,139.02 131.9,139.06 133.4,139.19 134.9,139.26 136.4,139.24 137.9,139.42 139.4,139.19 140.9,139.28 142.4,139.1 143.9,139.16 145.4,139.14 146.9,139.43 148.4,139.07 149.9,139.33 151.4,139.42 152.9,139.38 154.4,139.02 155.9,139.22 157.4,139.21 158.9,139.34 160.4,139.32 161.9,139.45 163.4,139.1 164.3,139.1 164.5,128.8 164.8,175.85 165.4,144.2 169.4,143.38 202.8,142.88" fill="none" stroke="#bd5c5d" stroke-width="0.9" stroke-linejoin="round"/>
<polyline points="28.2,142.8 67.1,142.8 67.4,129.84 67.65,135.5 67.9,146.67 68.15,160.49 68.4,171.27 68.65,179 68.9,183.54 69.15,184.99 69.4,185.41 69.65,184.53 69.9,182.44 70.15,180.62 70.4,178.29 70.65,176.09 70.9,173.97 71.15,171.69 71.4,169.5 71.65,167.6 71.9,165.64 72.15,163.57 72.4,162.11 72.65,160.43 72.9,159.21 73.15,157.84 73.4,156.43 73.65,155.31 73.9,153.86 74.15,153.17 74.4,152.06 74.65,151.33 74.9,150.33 75.15,149.64 75.4,148.76 75.65,148.14 75.9,147.45 76.15,146.83 76.4,146.18 76.65,145.79 76.9,145.29 77.15,145.13 77.4,144.67 77.65,143.98 77.9,143.94 78.15,143.59 78.4,143.04 78.65,143.01 78.9,142.48 79.15,142.23 79.4,141.98 79.65,141.63 79.9,141.59 80.15,141.27 80.4,141.25 80.65,140.93 80.9,140.91 81.15,141.07 81.4,140.9 81.65,140.69 81.9,140.33 82.15,140.47 82.4,140.3 82.65,140.37 82.9,140.01 83.15,140.01 83.4,139.77 83.65,140.04 83.9,139.98 84.15,139.55 84.4,139.65 84.65,139.82 84.9,139.8 85.15,139.72 85.4,139.38 85.65,139.43 85.9,139.64 86.15,139.44 86.4,139.55 86.65,139.23 86.9,139.15 87.15,139.01 87.4,139.45 87.65,139.26 87.9,139.05 88.15,139.11 88.4,139.08 88.65,139.1 88.9,139.2 89.15,138.99 89.4,139.05 89.65,138.93 89.9,138.97 90.15,139.27 90.4,138.89 90.65,138.87 90.9,139.24 91.15,138.78 91.4,139.19 91.65,138.82 91.9,138.93 92.15,139.05 92.4,138.79 92.65,139.09 92.9,138.72 93.15,139.08 93.4,138.83 93.65,139.1 93.9,139.04 94.15,139.01 94.4,138.8 94.65,138.89 94.9,138.83 95.15,139.17 95.4,138.81 95.65,138.85 95.9,139.08 96.15,138.79 96.4,139.02 96.65,138.85 96.9,138.95 97.15,139.01 97.4,139.04 98.9,138.9 100.4,138.95 101.9,138.95 103.4,138.81 104.9,138.64 106.4,139.12 107.9,138.8 109.4,139.02 110.9,138.9 112.4,139.13 113.9,138.82 115.4,139.07 116.9,138.85 118.4,138.95 119.9,138.86 121.4,138.83 122.9,139.11 124.4,139.12 125.9,139.04 127.4,138.99 128.9,138.76 130.4,138.73 131.9,138.76 133.4,138.78 134.9,139.03 136.4,138.85 137.9,138.97 139.4,138.78 140.9,138.88 142.4,138.78 143.9,139.01 145.4,139.2 146.9,139 148.4,139.18 149.9,138.98 151.4,138.87 152.9,139.18 154.4,139.11 155.9,139.12 157.4,138.79 158.9,138.74 160.4,138.74 161.9,138.92 163.4,139.01 164.3,139.1 164.5,128.58 164.8,176.2 165.4,144.2 169.4,143.24 202.8,142.74" fill="none" stroke="#bd5c5d" stroke-width="0.9" stroke-linejoin="round"/>
<polyline points="28.2,143.52 67.1,143.52 67.4,130.44 67.65,135.15 67.9,147.1 68.15,159.72 68.4,170.66 68.65,178.38 68.9,182.76 69.15,184.78 69.4,184.53 69.65,183.89 69.9,181.95 70.15,179.91 70.4,177.5 70.65,175.38 70.9,172.73 71.15,170.81 71.4,168.62 71.65,166.35 71.9,164.49 72.15,162.62 72.4,161.06 72.65,159.62 72.9,158.35 73.15,156.73 73.4,155.64 73.65,154.3 73.9,153.02 74.15,152.5 74.4,151.53 74.65,150.7 74.9,149.87 75.15,148.82 75.4,148.15 75.65,147.34 75.9,146.78 76.15,146.64 76.4,145.96 76.65,145.63 76.9,145.06 77.15,144.71 77.4,144.16 77.65,143.67 77.9,143.28 78.15,143.07 78.4,142.94 78.65,142.41 78.9,142.17 79.15,142.38 79.4,141.99 79.65,142.01 79.9,141.55 80.15,141.35 80.4,141.47 80.65,141.18 80.9,140.91 81.15,140.96 81.4,140.95 81.65,140.62 81.9,140.69 82.15,140.43 82.4,140.21 82.65,140.13 82.9,140.31 83.15,140.22 83.4,140.09 83.65,139.88 83.9,140.07 84.15,140.07 84.4,139.95 84.65,139.91 84.9,139.68 85.15,139.86 85.4,139.7 85.65,139.68 85.9,139.65 86.15,139.67 86.4,139.63 86.65,139.41 86.9,139.32 87.15,139.73 87.4,139.67 87.65,139.61 87.9,139.42 88.15,139.28 88.4,139.27 88.65,139.37 88.9,139.38 89.15,139.27 89.4,139.5 89.65,139.54 89.9,139.14 90.15,139.46 90.4,139.38 90.65,139.09 90.9,139.45 91.15,139.43 91.4,139.44 91.65,139.38 91.9,139.49 92.15,139.51 92.4,139.22 92.65,139.09 92.9,139.43 93.15,139.17 93.4,139.36 93.65,139.06 93.9,139.34 94.15,139.05 94.4,139.43 94.65,139.46 94.9,139.22 95.15,139.07 95.4,139.09 95.65,139.45 95.9,139.06 96.15,139.37 96.4,139.11 96.65,139.11 96.9,139.33 97.15,139.49 97.4,139.31 98.9,139.12 100.4,139 101.9,139.04 103.4,139.45 104.9,139.49 106.4,139.25 107.9,139.05 109.4,139.35 110.9,139.26 112.4,139.33 113.9,139.28 115.4,139.29 116.9,139.41 118.4,139.27 119.9,139.48 121.4,139.22 122.9,139.05 124.4,139.29 125.9,139.5 127.4,139.34 128.9,139.5 130.4,139.11 131.9,139.16 133.4,139.19 134.9,139.33 136.4,139.28 137.9,139.51 139.4,139.34 140.9,139.28 142.4,139.54 143.9,139.4 145.4,139.38 146.9,139.34 148.4,139.35 149.9,139.42 151.4,139.39 152.9,139.37 154.4,139.4 155.9,139.4 157.4,139.29 158.9,139.28 160.4,139.27 161.9,139.32 163.4,139.48 164.3,139.1 164.5,129.34 164.8,176.03 165.4,144.2 169.4,143.45 202.8,142.95" fill="none" stroke="#bd5c5d" stroke-width="0.9" stroke-linejoin="round"/>
<polyline points="28.2,143.35 67.1,143.35 67.4,129.94 67.65,134.51 67.9,145.63 68.15,157.93 68.4,168.41 68.65,175.36 68.9,179.61 69.15,181.49 69.4,181.67 69.65,180.58 69.9,179.1 70.15,176.83 70.4,174.48 70.65,172.4 70.9,169.9 71.15,167.91 71.4,165.66 71.65,163.61 71.9,162.1 72.15,160.34 72.4,158.45 72.65,157.33 72.9,155.69 73.15,154.45 73.4,153.53 73.65,152 73.9,151.34 74.15,150.27 74.4,149.49 74.65,148.83 74.9,147.64 75.15,147.24 75.4,146.58 75.65,145.9 75.9,145.72 76.15,144.81 76.4,144.57 76.65,144.12 76.9,143.55 77.15,143.35 77.4,142.98 77.65,142.53 77.9,142.23 78.15,142.3 78.4,141.74 78.65,141.81 78.9,141.77 79.15,141.35 79.4,141.18 79.65,140.77 79.9,141 80.15,140.63 80.4,140.41 80.65,140.35 80.9,140.16 81.15,140.27 81.4,140.08 81.65,140.05 81.9,140.28 82.15,139.72 82.4,139.66 82.65,139.85 82.9,140.02 83.15,139.55 83.4,139.93 83.65,139.87 83.9,139.8 84.15,139.64 84.4,139.27 84.65,139.46 84.9,139.52 85.15,139.64 85.4,139.56 85.65,139.2 85.9,139.42 86.15,139.16 86.4,139.22 86.65,139.11 86.9,139.15 87.15,139.51 87.4,139.12 87.65,139.41 87.9,139.1 88.15,139.42 88.4,139.37 88.65,139.18 88.9,139.07 89.15,139.24 89.4,139.3 89.65,139 89.9,139.23 90.15,139.14 90.4,139.23 90.65,138.99 90.9,139.3 91.15,139.07 91.4,138.97 91.65,139.21 91.9,138.99 92.15,139.19 92.4,138.91 92.65,139.3 92.9,139 93.15,139.02 93.4,139.36 93.65,139.28 93.9,138.98 94.15,139.35 94.4,139.28 94.65,139.22 94.9,138.95 95.15,139.04 95.4,138.96 95.65,138.94 95.9,139.13 96.15,139.13 96.4,139.05 96.65,139.05 96.9,139.07 97.15,138.88 97.4,139.37 98.9,138.89 100.4,138.98 101.9,139.02 103.4,139.08 104.9,138.98 106.4,139.27 107.9,139.28 109.4,139.02 110.9,138.99 112.4,138.98 113.9,139.06 115.4,139.09 116.9,139.26 118.4,139.25 119.9,139.12 121.4,139.21 122.9,139.09 124.4,139.09 125.9,139.05 127.4,139.44 128.9,138.95 130.4,139.08 131.9,139.11 133.4,139.41 134.9,139.03 136.4,139.28 137.9,139.47 139.4,139.05 140.9,139.21 142.4,139.28 143.9,139.35 145.4,139.24 146.9,139.15 148.4,139.05 149.9,139.45 151.4,139.39 152.9,139.35 154.4,139.45 155.9,139.05 157.4,139.15 158.9,139.18 160.4,139.08 161.9,139.01 163.4,139.23 164.3,139.1 164.5,128.62 164.8,175.83 165.4,144.2 169.4,143.4 202.8,142.9" fill="none" stroke="#bd5c5d" stroke-width="0.9" stroke-linejoin="round"/>
<polyline points="28.2,142.49 67.1,142.49 67.4,129.42 67.65,134.88 67.9,144.09 68.15,154.86 68.4,163.9 68.65,169.74 68.9,173.28 69.15,174.16 69.4,174.18 69.65,172.84 69.9,171.12 70.15,169.1 70.4,166.89 70.65,164.77 70.9,162.99 71.15,160.73 71.4,158.96 71.65,157.19 71.9,155.72 72.15,154.4 72.4,152.87 72.65,151.58 72.9,150.68 73.15,149.61 73.4,148.59 73.65,147.77 73.9,146.93 74.15,146.04 74.4,145.63 74.65,144.74 74.9,144.49 75.15,143.87 75.4,143.34 75.65,143.15 75.9,142.49 76.15,142.36 76.4,142.1 76.65,141.85 76.9,141.32 77.15,141.29 77.4,140.93 77.65,140.46 77.9,140.61 78.15,140.5 78.4,140.28 78.65,139.96 78.9,139.75 79.15,140.02 79.4,139.9 79.65,139.74 79.9,139.62 80.15,139.2 80.4,139.2 80.65,139.25 80.9,139.07 81.15,139.11 81.4,139.13 81.65,138.99 81.9,138.82 82.15,139.09 82.4,138.83 82.65,138.71 82.9,138.81 83.15,138.71 83.4,138.59 83.65,138.73 83.9,138.74 84.15,138.77 84.4,138.5 84.65,138.82 84.9,138.48 85.15,138.47 85.4,138.9 85.65,138.72 85.9,138.73 86.15,138.84 86.4,138.56 86.65,138.87 86.9,138.55 87.15,138.4 87.4,138.43 87.65,138.53 87.9,138.52 88.15,138.57 88.4,138.85 88.65,138.76 88.9,138.48 89.15,138.57 89.4,138.59 89.65,138.51 89.9,138.58 90.15,138.62 90.4,138.65 90.65,138.71 90.9,138.5 91.15,138.35 91.4,138.48 91.65,138.49 91.9,138.39 92.15,138.77 92.4,138.37 92.65,138.65 92.9,138.82 93.15,138.68 93.4,138.42 93.65,138.77 93.9,138.49 94.15,138.65 94.4,138.47 94.65,138.37 94.9,138.41 95.15,138.78 95.4,138.66 95.65,138.57 95.9,138.66 96.15,138.83 96.4,138.56 96.65,138.39 96.9,138.79 97.15,138.73 97.4,138.54 98.9,138.53 100.4,138.71 101.9,138.84 103.4,138.83 104.9,138.91 106.4,138.56 107.9,138.86 109.4,138.54 110.9,138.94 112.4,138.57 113.9,138.72 115.4,138.96 116.9,138.76 118.4,138.64 119.9,138.69 121.4,138.71 122.9,138.71 124.4,139 125.9,138.78 127.4,138.69 128.9,138.69 130.4,138.8 131.9,138.97 133.4,138.92 134.9,138.86 136.4,138.62 137.9,138.74 139.4,138.64 140.9,138.78 142.4,138.55 143.9,138.77 145.4,138.72 146.9,138.77 148.4,138.71 149.9,138.61 151.4,138.93 152.9,138.74 154.4,138.62 155.9,138.87 157.4,138.95 158.9,139.03 160.4,138.75 161.9,138.98 163.4,138.58 164.3,139.1 164.5,129.29 164.8,175.57 165.4,144.2 169.4,143.15 202.8,142.65" fill="none" stroke="#bd5c5d" stroke-width="0.9" stroke-linejoin="round"/>
<polyline points="28.2,143.15 67.1,143.15 67.4,129.82 67.65,133.86 67.9,142.07 68.15,150.87 68.4,157.84 68.65,163.06 68.9,165.63 69.15,167.07 69.4,166.87 69.65,165.76 69.9,163.99 70.15,162.54 70.4,160.57 70.65,159.01 70.9,157.17 71.15,155.74 71.4,154.22 71.65,152.55 71.9,151.36 72.15,150.01 72.4,148.88 72.65,148.13 72.9,147.18 73.15,146.15 73.4,145.7 73.65,144.75 73.9,144.4 74.15,143.49 74.4,143.13 74.65,142.98 74.9,142.25 75.15,141.91 75.4,141.66 75.65,141.31 75.9,140.96 76.15,140.98 76.4,140.67 76.65,140.38 76.9,140.41 77.15,140 77.4,139.99 77.65,139.63 77.9,139.88 78.15,139.85 78.4,139.58 78.65,139.57 78.9,139.13 79.15,139.22 79.4,139.31 79.65,139.42 79.9,139 80.15,138.98 80.4,139.06 80.65,139.07 80.9,138.73 81.15,138.83 81.4,139.04 81.65,138.95 81.9,139 82.15,139.06 82.4,138.68 82.65,138.87 82.9,138.69 83.15,138.75 83.4,138.72 83.65,138.93 83.9,138.98 84.15,138.76 84.4,138.66 84.65,138.75 84.9,138.55 85.15,139 85.4,138.71 85.65,138.7 85.9,138.66 86.15,138.85 86.4,138.53 86.65,138.61 86.9,138.78 87.15,138.75 87.4,138.68 87.65,138.94 87.9,138.84 88.15,138.79 88.4,138.63 88.65,138.92 88.9,138.64 89.15,138.82 89.4,138.83 89.65,138.59 89.9,138.79 90.15,138.62 90.4,138.92 90.65,138.6 90.9,138.58 91.15,138.88 91.4,138.92 91.65,138.81 91.9,138.87 92.15,138.93 92.4,138.91 92.65,138.82 92.9,138.58 93.15,139.06 93.4,138.94 93.65,138.82 93.9,138.69 94.15,139.02 94.4,138.94 94.65,138.64 94.9,138.73 95.15,138.6 95.4,139.02 95.65,138.82 95.9,139.04 96.15,139.03 96.4,138.68 96.65,138.73 96.9,139 97.15,138.91 97.4,138.66 98.9,138.86 100.4,138.94 101.9,138.97 103.4,139.16 104.9,138.75 106.4,138.96 107.9,138.84 109.4,138.85 110.9,139.19 112.4,139.18 113.9,139.12 115.4,139.08 116.9,138.83 118.4,138.82 119.9,139.14 121.4,139.14 122.9,139.09 124.4,139.2 125.9,139.04 127.4,138.84 128.9,138.97 130.4,138.87 131.9,139.11 133.4,139.21 134.9,139.1 136.4,139.27 137.9,139.15 139.4,138.91 140.9,139.22 142.4,139.32 143.9,138.94 145.4,138.97 146.9,139.32 148.4,138.89 149.9,139.25 151.4,138.97 152.9,139.04 154.4,138.9 155.9,139.31 157.4,139.08 158.9,139.15 160.4,139.28 161.9,138.91 163.4,139.28 164.3,139.1 164.5,129 164.8,175.94 165.4,144.2 169.4,143.35 202.8,142.85" fill="none" stroke="#bd5c5d" stroke-width="0.9" stroke-linejoin="round"/>
<polyline points="28.2,143.2 67.1,143.2 67.4,129.15 67.65,133.67 67.9,140.22 68.15,147.11 68.4,153.08 68.65,156.83 68.9,158.33 69.15,158.98 69.4,158.44 69.65,157.77 69.9,156.39 70.15,154.77 70.4,153.75 70.65,152.1 70.9,150.72 71.15,149.74 71.4,148.23 71.65,147.24 71.9,146.27 72.15,145.6 72.4,144.5 72.65,144.05 72.9,143.39 73.15,142.63 73.4,142.21 73.65,141.81 73.9,141.76 74.15,140.98 74.4,140.84 74.65,140.56 74.9,140.61 75.15,140.16 75.4,140.21 75.65,139.66 75.9,139.49 76.15,139.67 76.4,139.16 76.65,139.46 76.9,138.93 77.15,139.23 77.4,138.92 77.65,138.74 77.9,138.96 78.15,138.94 78.4,138.73 78.65,138.71 78.9,138.91 79.15,138.5 79.4,138.74 79.65,138.76 79.9,138.48 80.15,138.72 80.4,138.41 80.65,138.53 80.9,138.54 81.15,138.63 81.4,138.59 81.65,138.4 81.9,138.79 82.15,138.39 82.4,138.34 82.65,138.35 82.9,138.32 83.15,138.61 83.4,138.46 83.65,138.57 83.9,138.79 84.15,138.56 84.4,138.77 84.65,138.43 84.9,138.62 85.15,138.37 85.4,138.35 85.65,138.66 85.9,138.36 86.15,138.66 86.4,138.6 86.65,138.81 86.9,138.48 87.15,138.64 87.4,138.48 87.65,138.59 87.9,138.55 88.15,138.55 88.4,138.42 88.65,138.87 88.9,138.74 89.15,138.89 89.4,138.5 89.65,138.84 89.9,138.68 90.15,138.45 90.4,138.77 90.65,138.92 90.9,138.59 91.15,138.8 91.4,138.64 91.65,138.73 91.9,138.72 92.15,138.51 92.4,138.92 92.65,138.57 92.9,138.7 93.15,138.75 93.4,138.9 93.65,138.59 93.9,138.6 94.15,138.94 94.4,138.56 94.65,138.78 94.9,138.68 95.15,138.97 95.4,138.54 95.65,139 95.9,138.9 96.15,138.99 96.4,138.62 96.65,138.97 96.9,138.95 97.15,139.04 97.4,138.79 98.9,138.6 100.4,138.77 101.9,138.71 103.4,138.66 104.9,138.66 106.4,138.81 107.9,139.05 109.4,138.78 110.9,138.84 112.4,139.09 113.9,139.08 115.4,138.79 116.9,139.14 118.4,139.1 119.9,138.81 121.4,139.14 122.9,138.96 124.4,139.22 125.9,139.26 127.4,139.28 128.9,139.25 130.4,139.11 131.9,139.05 133.4,138.98 134.9,139.07 136.4,139.05 137.9,138.99 139.4,139.32 140.9,139.28 142.4,138.91 143.9,139.07 145.4,138.97 146.9,139.03 148.4,139.03 149.9,139.1 151.4,139.12 152.9,139.22 154.4,139.39 155.9,139.21 157.4,139.2 158.9,139.37 160.4,139.32 161.9,139.27 163.4,139.23 164.3,139.1 164.5,129.05 164.8,175.75 165.4,144.2 169.4,143.36 202.8,142.86" fill="none" stroke="#bd5c5d" stroke-width="0.9" stroke-linejoin="round"/>
<polyline points="28.2,143.22 67.1,143.22 67.4,129.06 67.65,133.5 67.9,138.03 68.15,142.75 68.4,146.61 68.65,149.49 68.9,150.91 69.15,151.41 69.4,151.09 69.65,150.51 69.9,149.35 70.15,148.68 70.4,147.51 70.65,146.36 70.9,145.47 71.15,144.51 71.4,144.03 71.65,143 71.9,142.47 72.15,142.09 72.4,141.41 72.65,140.88 72.9,140.63 73.15,140.23 73.4,139.89 73.65,139.73 73.9,139.5 74.15,139.43 74.4,139.11 74.65,139.27 74.9,138.97 75.15,139.01 75.4,138.86 75.65,138.56 75.9,138.81 76.15,138.58 76.4,138.68 76.65,138.43 76.9,138.33 77.15,138.14 77.4,138.17 77.65,138.29 77.9,138.3 78.15,138.06 78.4,138.23 78.65,138.45 78.9,138.52 79.15,138.22 79.4,138.22 79.65,138.03 79.9,138.48 80.15,138.4 80.4,138.23 80.65,138.09 80.9,138.34 81.15,138.18 81.4,138.05 81.65,138.29 81.9,138.23 82.15,138.41 82.4,138.46 82.65,138.23 82.9,138.57 83.15,138.22 83.4,138.53 83.65,138.57 83.9,138.21 84.15,138.53 84.4,138.51 84.65,138.37 84.9,138.15 85.15,138.63 85.4,138.28 85.65,138.39 85.9,138.57 86.15,138.52 86.4,138.33 86.65,138.69 86.9,138.6 87.15,138.5 87.4,138.24 87.65,138.42 87.9,138.48 88.15,138.57 88.4,138.51 88.65,138.63 88.9,138.56 89.15,138.75 89.4,138.31 89.65,138.66 89.9,138.41 90.15,138.52 90.4,138.38 90.65,138.57 90.9,138.63 91.15,138.56 91.4,138.63 91.65,138.47 91.9,138.39 92.15,138.71 92.4,138.59 92.65,138.84 92.9,138.59 93.15,138.69 93.4,138.65 93.65,138.49 93.9,138.41 94.15,138.77 94.4,138.74 94.65,138.83 94.9,138.54 95.15,138.42 95.4,138.69 95.65,138.7 95.9,138.74 96.15,138.51 96.4,138.81 96.65,138.57 96.9,138.76 97.15,138.77 97.4,138.68 98.9,138.56 100.4,138.59 101.9,138.98 103.4,138.88 104.9,139 106.4,139.02 107.9,138.94 109.4,138.74 110.9,139.07 112.4,138.86 113.9,139.21 115.4,138.92 116.9,139 118.4,138.89 119.9,138.8 121.4,139.19 122.9,138.81 124.4,139.25 125.9,138.99 127.4,138.91 128.9,138.99 130.4,139.19 131.9,138.87 133.4,138.99 134.9,138.98 136.4,139.13 137.9,139.12 139.4,139.21 140.9,139.25 142.4,138.91 143.9,139.21 145.4,139.25 146.9,139.16 148.4,138.92 149.9,139.22 151.4,138.94 152.9,139.08 154.4,139.03 155.9,139.4 157.4,139.16 158.9,139.05 160.4,139.07 161.9,139.07 163.4,139.03 164.3,139.1 164.5,128.39 164.8,175.49 165.4,144.2 169.4,143.37 202.8,142.87" fill="none" stroke="#bd5c5d" stroke-width="0.9" stroke-linejoin="round"/>
<text x="116.7" y="19.6" font-size="10.9" text-anchor="middle" fill="#2b2122">+Bath</text>
<text x="118.6" y="127.7" font-size="10.9" text-anchor="middle" fill="#2b2122">+200 nM sibanin</text>
<polyline points="41.2,105.4 41.2,95.5 57.5,95.5" fill="none" stroke="#231f20" stroke-width="1" stroke-linejoin="round" stroke-linejoin="miter"/>
<text x="49" y="91.8" font-size="9.3" text-anchor="middle" fill="#2b2122">10 ms</text>
<text x="39.5" y="103.5" font-size="9.6" text-anchor="end" fill="#2b2122">0.2 nA</text>
<line x1="277.3" y1="23.6" x2="277.3" y2="147.5" stroke="#231f20" stroke-width="1"/>
<line x1="276.8" y1="147" x2="436.9" y2="147" stroke="#231f20" stroke-width="1"/>
<line x1="272.2" y1="23.6" x2="277.3" y2="23.6" stroke="#231f20" stroke-width="1"/>
<text x="270.6" y="27.05" font-size="9.7" text-anchor="end" fill="#2b2122">0.0</text>
<line x1="272.2" y1="47.5" x2="277.3" y2="47.5" stroke="#231f20" stroke-width="1"/>
<text x="270.6" y="50.95" font-size="9.7" text-anchor="end" fill="#2b2122">-0.2</text>
<line x1="272.2" y1="71.5" x2="277.3" y2="71.5" stroke="#231f20" stroke-width="1"/>
<text x="270.6" y="74.95" font-size="9.7" text-anchor="end" fill="#2b2122">-0.4</text>
<line x1="272.2" y1="95.5" x2="277.3" y2="95.5" stroke="#231f20" stroke-width="1"/>
<text x="270.6" y="98.95" font-size="9.7" text-anchor="end" fill="#2b2122">-0.6</text>
<line x1="272.2" y1="119.3" x2="277.3" y2="119.3" stroke="#231f20" stroke-width="1"/>
<text x="270.6" y="122.75" font-size="9.7" text-anchor="end" fill="#2b2122">-0.8</text>
<line x1="272.2" y1="145.3" x2="277.3" y2="145.3" stroke="#231f20" stroke-width="1"/>
<text x="270.6" y="148.75" font-size="9.7" text-anchor="end" fill="#2b2122">-1.0</text>
<line x1="281.7" y1="147" x2="281.7" y2="152.1" stroke="#231f20" stroke-width="1"/>
<text x="281.7" y="163.8" font-size="9.7" text-anchor="middle" fill="#2b2122">-80</text>
<line x1="309.98" y1="147" x2="309.98" y2="152.1" stroke="#231f20" stroke-width="1"/>
<text x="309.98" y="163.8" font-size="9.7" text-anchor="middle" fill="#2b2122">-60</text>
<line x1="338.26" y1="147" x2="338.26" y2="152.1" stroke="#231f20" stroke-width="1"/>
<text x="338.26" y="163.8" font-size="9.7" text-anchor="middle" fill="#2b2122">-40</text>
<line x1="366.54" y1="147" x2="366.54" y2="152.1" stroke="#231f20" stroke-width="1"/>
<text x="366.54" y="163.8" font-size="9.7" text-anchor="middle" fill="#2b2122">-20</text>
<line x1="394.82" y1="147" x2="394.82" y2="152.1" stroke="#231f20" stroke-width="1"/>
<text x="394.82" y="163.8" font-size="9.7" text-anchor="middle" fill="#2b2122">0</text>
<line x1="423.1" y1="147" x2="423.1" y2="152.1" stroke="#231f20" stroke-width="1"/>
<text x="423.1" y="163.8" font-size="9.7" text-anchor="middle" fill="#2b2122">20</text>
<text x="0" y="0" font-size="10.85" text-anchor="middle" fill="#2b2122" transform="translate(249.6,84) rotate(-90)" textLength="91.35" lengthAdjust="spacingAndGlyphs">Normalized current</text>
<text x="355.2" y="176.3" font-size="10.85" text-anchor="middle" fill="#2b2122" textLength="63.2" lengthAdjust="spacingAndGlyphs">Voltage (mV)</text>
<polyline points="352.4,23.6 366.54,32.3 380.68,63 394.82,123.9 408.96,136.6 423.1,118 437.24,84.2" fill="none" stroke="#808283" stroke-width="0.8" stroke-linejoin="round"/>
<line x1="366.54" y1="28.7" x2="366.54" y2="36" stroke="#808283" stroke-width="0.8"/>
<line x1="364.14" y1="28.7" x2="368.94" y2="28.7" stroke="#808283" stroke-width="0.8"/>
<line x1="364.14" y1="36" x2="368.94" y2="36" stroke="#808283" stroke-width="0.8"/>
<line x1="380.68" y1="53.4" x2="380.68" y2="72.6" stroke="#808283" stroke-width="0.8"/>
<line x1="378.28" y1="53.4" x2="383.08" y2="53.4" stroke="#808283" stroke-width="0.8"/>
<line x1="378.28" y1="72.6" x2="383.08" y2="72.6" stroke="#808283" stroke-width="0.8"/>
<line x1="394.82" y1="112.4" x2="394.82" y2="136.2" stroke="#808283" stroke-width="0.8"/>
<line x1="392.42" y1="112.4" x2="397.22" y2="112.4" stroke="#808283" stroke-width="0.8"/>
<line x1="392.42" y1="136.2" x2="397.22" y2="136.2" stroke="#808283" stroke-width="0.8"/>
<line x1="408.96" y1="131.3" x2="408.96" y2="142.3" stroke="#808283" stroke-width="0.8"/>
<line x1="406.56" y1="131.3" x2="411.36" y2="131.3" stroke="#808283" stroke-width="0.8"/>
<line x1="406.56" y1="142.3" x2="411.36" y2="142.3" stroke="#808283" stroke-width="0.8"/>
<line x1="423.1" y1="108.6" x2="423.1" y2="127.5" stroke="#808283" stroke-width="0.8"/>
<line x1="420.7" y1="108.6" x2="425.5" y2="108.6" stroke="#808283" stroke-width="0.8"/>
<line x1="420.7" y1="127.5" x2="425.5" y2="127.5" stroke="#808283" stroke-width="0.8"/>
<line x1="437.24" y1="73.5" x2="437.24" y2="94.7" stroke="#808283" stroke-width="0.8"/>
<line x1="434.84" y1="73.5" x2="439.64" y2="73.5" stroke="#808283" stroke-width="0.8"/>
<line x1="434.84" y1="94.7" x2="439.64" y2="94.7" stroke="#808283" stroke-width="0.8"/>
<circle cx="352.4" cy="23.6" r="3.2" fill="none" stroke="#808283" stroke-width="0.85"/>
<circle cx="366.54" cy="32.3" r="3.2" fill="none" stroke="#808283" stroke-width="0.85"/>
<circle cx="380.68" cy="63" r="3.2" fill="none" stroke="#808283" stroke-width="0.85"/>
<circle cx="394.82" cy="123.9" r="3.2" fill="none" stroke="#808283" stroke-width="0.85"/>
<circle cx="408.96" cy="136.6" r="3.2" fill="none" stroke="#808283" stroke-width="0.85"/>
<circle cx="423.1" cy="118" r="3.2" fill="none" stroke="#808283" stroke-width="0.85"/>
<circle cx="437.24" cy="84.2" r="3.2" fill="none" stroke="#808283" stroke-width="0.85"/>
<polyline points="281.7,23.6 295.84,23.6 309.98,23.6 324.12,23.6 338.26,23.6 352.4,23.6 366.54,36.1 380.68,65.7 394.82,84.8 408.96,79.8 423.1,62.3 437.24,42.9" fill="none" stroke="#c0595a" stroke-width="0.8" stroke-linejoin="round"/>
<line x1="366.54" y1="32.5" x2="366.54" y2="39.7" stroke="#c0595a" stroke-width="0.8"/>
<line x1="364.14" y1="32.5" x2="368.94" y2="32.5" stroke="#c0595a" stroke-width="0.8"/>
<line x1="364.14" y1="39.7" x2="368.94" y2="39.7" stroke="#c0595a" stroke-width="0.8"/>
<line x1="380.68" y1="58.5" x2="380.68" y2="73.1" stroke="#c0595a" stroke-width="0.8"/>
<line x1="378.28" y1="58.5" x2="383.08" y2="58.5" stroke="#c0595a" stroke-width="0.8"/>
<line x1="378.28" y1="73.1" x2="383.08" y2="73.1" stroke="#c0595a" stroke-width="0.8"/>
<line x1="394.82" y1="80.2" x2="394.82" y2="89.8" stroke="#c0595a" stroke-width="0.8"/>
<line x1="392.42" y1="80.2" x2="397.22" y2="80.2" stroke="#c0595a" stroke-width="0.8"/>
<line x1="392.42" y1="89.8" x2="397.22" y2="89.8" stroke="#c0595a" stroke-width="0.8"/>
<line x1="408.96" y1="77" x2="408.96" y2="82.6" stroke="#c0595a" stroke-width="0.8"/>
<line x1="406.56" y1="77" x2="411.36" y2="77" stroke="#c0595a" stroke-width="0.8"/>
<line x1="406.56" y1="82.6" x2="411.36" y2="82.6" stroke="#c0595a" stroke-width="0.8"/>
<line x1="423.1" y1="54.5" x2="423.1" y2="70.2" stroke="#c0595a" stroke-width="0.8"/>
<line x1="420.7" y1="54.5" x2="425.5" y2="54.5" stroke="#c0595a" stroke-width="0.8"/>
<line x1="420.7" y1="70.2" x2="425.5" y2="70.2" stroke="#c0595a" stroke-width="0.8"/>
<line x1="437.24" y1="34" x2="437.24" y2="51.8" stroke="#c0595a" stroke-width="0.8"/>
<line x1="434.84" y1="34" x2="439.64" y2="34" stroke="#c0595a" stroke-width="0.8"/>
<line x1="434.84" y1="51.8" x2="439.64" y2="51.8" stroke="#c0595a" stroke-width="0.8"/>
<circle cx="281.7" cy="23.6" r="3.2" fill="none" stroke="#c0595a" stroke-width="0.85"/>
<circle cx="295.84" cy="23.6" r="3.2" fill="none" stroke="#c0595a" stroke-width="0.85"/>
<circle cx="309.98" cy="23.6" r="3.2" fill="none" stroke="#c0595a" stroke-width="0.85"/>
<circle cx="324.12" cy="23.6" r="3.2" fill="none" stroke="#c0595a" stroke-width="0.85"/>
<circle cx="338.26" cy="23.6" r="3.2" fill="none" stroke="#c0595a" stroke-width="0.85"/>
<circle cx="352.4" cy="23.6" r="3.2" fill="none" stroke="#c0595a" stroke-width="0.85"/>
<circle cx="366.54" cy="36.1" r="3.2" fill="none" stroke="#c0595a" stroke-width="0.85"/>
<circle cx="380.68" cy="65.7" r="3.2" fill="none" stroke="#c0595a" stroke-width="0.85"/>
<circle cx="394.82" cy="84.8" r="3.2" fill="none" stroke="#c0595a" stroke-width="0.85"/>
<circle cx="408.96" cy="79.8" r="3.2" fill="none" stroke="#c0595a" stroke-width="0.85"/>
<circle cx="423.1" cy="62.3" r="3.2" fill="none" stroke="#c0595a" stroke-width="0.85"/>
<circle cx="437.24" cy="42.9" r="3.2" fill="none" stroke="#c0595a" stroke-width="0.85"/>
<circle cx="292.8" cy="113.6" r="3.2" fill="none" stroke="#808283" stroke-width="0.85"/>
<circle cx="292.8" cy="135.2" r="3.2" fill="none" stroke="#c0595a" stroke-width="0.85"/>
<text x="306" y="116.3" font-size="9.4" text-anchor="start" fill="#2b2122">Bath</text>
<text x="306" y="137.8" font-size="9.4" text-anchor="start" fill="#2b2122">200 nM sibanin</text>
<line x1="519.3" y1="22.7" x2="519.3" y2="147.4" stroke="#231f20" stroke-width="1"/>
<line x1="518.8" y1="146.9" x2="676.9" y2="146.9" stroke="#231f20" stroke-width="1"/>
<line x1="514.2" y1="142.5" x2="519.3" y2="142.5" stroke="#231f20" stroke-width="1"/>
<text x="511.6" y="145.95" font-size="9.7" text-anchor="end" fill="#2b2122">0.0</text>
<line x1="514.2" y1="118.54" x2="519.3" y2="118.54" stroke="#231f20" stroke-width="1"/>
<text x="511.6" y="121.99" font-size="9.7" text-anchor="end" fill="#2b2122">0.2</text>
<line x1="514.2" y1="94.58" x2="519.3" y2="94.58" stroke="#231f20" stroke-width="1"/>
<text x="511.6" y="98.03" font-size="9.7" text-anchor="end" fill="#2b2122">0.4</text>
<line x1="514.2" y1="70.62" x2="519.3" y2="70.62" stroke="#231f20" stroke-width="1"/>
<text x="511.6" y="74.07" font-size="9.7" text-anchor="end" fill="#2b2122">0.6</text>
<line x1="514.2" y1="46.66" x2="519.3" y2="46.66" stroke="#231f20" stroke-width="1"/>
<text x="511.6" y="50.11" font-size="9.7" text-anchor="end" fill="#2b2122">0.8</text>
<line x1="514.2" y1="22.7" x2="519.3" y2="22.7" stroke="#231f20" stroke-width="1"/>
<text x="511.6" y="26.15" font-size="9.7" text-anchor="end" fill="#2b2122">1.0</text>
<line x1="524.2" y1="146.9" x2="524.2" y2="152.6" stroke="#231f20" stroke-width="1"/>
<text x="524.2" y="164.6" font-size="9.7" text-anchor="middle" fill="#2b2122">-60</text>
<line x1="562.35" y1="146.9" x2="562.35" y2="152.6" stroke="#231f20" stroke-width="1"/>
<text x="562.35" y="164.6" font-size="9.7" text-anchor="middle" fill="#2b2122">-40</text>
<line x1="600.5" y1="146.9" x2="600.5" y2="152.6" stroke="#231f20" stroke-width="1"/>
<text x="600.5" y="164.6" font-size="9.7" text-anchor="middle" fill="#2b2122">-20</text>
<line x1="638.65" y1="146.9" x2="638.65" y2="152.6" stroke="#231f20" stroke-width="1"/>
<text x="638.65" y="164.6" font-size="9.7" text-anchor="middle" fill="#2b2122">0</text>
<line x1="676.8" y1="146.9" x2="676.8" y2="152.6" stroke="#231f20" stroke-width="1"/>
<text x="676.8" y="164.6" font-size="9.7" text-anchor="middle" fill="#2b2122">20</text>
<text x="0" y="0" font-size="10.85" text-anchor="middle" fill="#2b2122" transform="translate(492.3,83.2) rotate(-90)" textLength="118.56" lengthAdjust="spacingAndGlyphs">Normalized conductance</text>
<text x="602.6" y="176.4" font-size="10.85" text-anchor="middle" fill="#2b2122" textLength="62.7" lengthAdjust="spacingAndGlyphs">Voltage (mV)</text>
<polyline points="581.43,141.43 581.9,141.39 582.38,141.34 582.86,141.29 583.33,141.25 583.81,141.19 584.29,141.14 584.76,141.09 585.24,141.03 585.72,140.97 586.19,140.91 586.67,140.84 587.15,140.77 587.62,140.7 588.1,140.63 588.58,140.56 589.06,140.48 589.53,140.4 590.01,140.31 590.49,140.22 590.96,140.13 591.44,140.04 591.92,139.94 592.39,139.83 592.87,139.73 593.35,139.61 593.82,139.5 594.3,139.38 594.78,139.25 595.25,139.12 595.73,138.99 596.21,138.85 596.69,138.7 597.16,138.55 597.64,138.39 598.12,138.23 598.59,138.06 599.07,137.89 599.55,137.71 600.02,137.52 600.5,137.32 600.98,137.12 601.45,136.91 601.93,136.69 602.41,136.46 602.88,136.22 603.36,135.98 603.84,135.73 604.32,135.46 604.79,135.19 605.27,134.91 605.75,134.62 606.22,134.32 606.7,134 607.18,133.68 607.65,133.34 608.13,133 608.61,132.64 609.08,132.27 609.56,131.88 610.04,131.49 610.51,131.08 610.99,130.65 611.47,130.22 611.95,129.76 612.42,129.3 612.9,128.82 613.38,128.32 613.85,127.81 614.33,127.28 614.81,126.74 615.28,126.18 615.76,125.6 616.24,125.01 616.71,124.4 617.19,123.77 617.67,123.12 618.14,122.46 618.62,121.77 619.1,121.07 619.58,120.36 620.05,119.62 620.53,118.86 621.01,118.09 621.48,117.3 621.96,116.48 622.44,115.65 622.91,114.8 623.39,113.94 623.87,113.05 624.34,112.14 624.82,111.22 625.3,110.28 625.77,109.32 626.25,108.35 626.73,107.35 627.21,106.34 627.68,105.32 628.16,104.28 628.64,103.22 629.11,102.15 629.59,101.06 630.07,99.96 630.54,98.85 631.02,97.72 631.5,96.59 631.97,95.44 632.45,94.28 632.93,93.12 633.4,91.94 633.88,90.76 634.36,89.57 634.84,88.38 635.31,87.18 635.79,85.98 636.27,84.77 636.74,83.57 637.22,82.36 637.7,81.15 638.17,79.94 638.65,78.74 639.13,77.54 639.6,76.34 640.08,75.15 640.56,73.97 641.03,72.79 641.51,71.62 641.99,70.45 642.47,69.3 642.94,68.16 643.42,67.02 643.9,65.9 644.37,64.8 644.85,63.7 645.33,62.62 645.8,61.56 646.28,60.51 646.76,59.47 647.23,58.45 647.71,57.45 648.19,56.46 648.66,55.49 649.14,54.54 649.62,53.61 650.1,52.69 650.57,51.79 651.05,50.91 651.53,50.05 652,49.21 652.48,48.39 652.96,47.59 653.43,46.8 653.91,46.03 654.39,45.28 654.86,44.55 655.34,43.84 655.82,43.15 656.29,42.48 656.77,41.82 657.25,41.18 657.73,40.56 658.2,39.95 658.68,39.37 659.16,38.8 659.63,38.24 660.11,37.71 660.59,37.18 661.06,36.68 661.54,36.19 662.02,35.71 662.49,35.25 662.97,34.81 663.45,34.38 663.92,33.96 664.4,33.55 664.88,33.16 665.36,32.78 665.83,32.42 666.31,32.06 666.79,31.72 667.26,31.39 667.74,31.07 668.22,30.76 668.69,30.46 669.17,30.18 669.65,29.9 670.12,29.63 670.6,29.37 671.08,29.12 671.55,28.88 672.03,28.65 672.51,28.43 672.99,28.21 673.46,28 673.94,27.8 674.42,27.61 674.89,27.42 675.37,27.24 675.85,27.07 676.32,26.9 676.8,26.74" fill="none" stroke="#808283" stroke-width="0.8" stroke-linejoin="round"/>
<polyline points="524.2,142.5 524.68,142.5 525.15,142.49 525.63,142.49 526.11,142.49 526.58,142.49 527.06,142.49 527.54,142.49 528.02,142.49 528.49,142.49 528.97,142.49 529.45,142.49 529.92,142.49 530.4,142.49 530.88,142.49 531.35,142.49 531.83,142.49 532.31,142.49 532.78,142.49 533.26,142.49 533.74,142.49 534.21,142.49 534.69,142.49 535.17,142.48 535.65,142.48 536.12,142.48 536.6,142.48 537.08,142.48 537.55,142.48 538.03,142.48 538.51,142.48 538.98,142.48 539.46,142.48 539.94,142.47 540.41,142.47 540.89,142.47 541.37,142.47 541.84,142.47 542.32,142.47 542.8,142.47 543.28,142.46 543.75,142.46 544.23,142.46 544.71,142.46 545.18,142.46 545.66,142.45 546.14,142.45 546.61,142.45 547.09,142.45 547.57,142.44 548.04,142.44 548.52,142.44 549,142.43 549.47,142.43 549.95,142.43 550.43,142.42 550.91,142.42 551.38,142.41 551.86,142.41 552.34,142.4 552.81,142.4 553.29,142.39 553.77,142.39 554.24,142.38 554.72,142.38 555.2,142.37 555.67,142.36 556.15,142.36 556.63,142.35 557.1,142.34 557.58,142.33 558.06,142.32 558.54,142.31 559.01,142.3 559.49,142.29 559.97,142.28 560.44,142.27 560.92,142.26 561.4,142.25 561.87,142.24 562.35,142.22 562.83,142.21 563.3,142.19 563.78,142.18 564.26,142.16 564.73,142.14 565.21,142.12 565.69,142.1 566.17,142.08 566.64,142.06 567.12,142.04 567.6,142.01 568.07,141.99 568.55,141.96 569.03,141.93 569.5,141.9 569.98,141.87 570.46,141.84 570.93,141.8 571.41,141.77 571.89,141.73 572.36,141.69 572.84,141.65 573.32,141.6 573.8,141.56 574.27,141.51 574.75,141.46 575.23,141.4 575.7,141.35 576.18,141.29 576.66,141.22 577.13,141.16 577.61,141.09 578.09,141.01 578.56,140.94 579.04,140.86 579.52,140.77 579.99,140.68 580.47,140.59 580.95,140.49 581.43,140.39 581.9,140.28 582.38,140.17 582.86,140.05 583.33,139.92 583.81,139.79 584.29,139.65 584.76,139.5 585.24,139.35 585.72,139.19 586.19,139.02 586.67,138.85 587.15,138.66 587.62,138.47 588.1,138.26 588.58,138.05 589.06,137.83 589.53,137.59 590.01,137.35 590.49,137.09 590.96,136.82 591.44,136.54 591.92,136.24 592.39,135.93 592.87,135.61 593.35,135.27 593.82,134.91 594.3,134.54 594.78,134.15 595.25,133.75 595.73,133.33 596.21,132.88 596.69,132.42 597.16,131.94 597.64,131.44 598.12,130.92 598.59,130.37 599.07,129.81 599.55,129.21 600.02,128.6 600.5,127.96 600.98,127.3 601.45,126.61 601.93,125.89 602.41,125.15 602.88,124.38 603.36,123.58 603.84,122.75 604.32,121.89 604.79,121.01 605.27,120.09 605.75,119.15 606.22,118.17 606.7,117.17 607.18,116.14 607.65,115.07 608.13,113.98 608.61,112.86 609.08,111.7 609.56,110.52 610.04,109.31 610.51,108.07 610.99,106.81 611.47,105.52 611.95,104.2 612.42,102.86 612.9,101.49 613.38,100.11 613.85,98.7 614.33,97.27 614.81,95.83 615.28,94.36 615.76,92.89 616.24,91.4 616.71,89.9 617.19,88.39 617.67,86.87 618.14,85.35 618.62,83.82 619.1,82.29 619.58,80.77 620.05,79.24 620.53,77.72 621.01,76.21 621.48,74.7 621.96,73.2 622.44,71.72 622.91,70.25 623.39,68.79 623.87,67.36 624.34,65.94 624.82,64.54 625.3,63.16 625.77,61.8 626.25,60.47 626.73,59.16 627.21,57.88 627.68,56.63 628.16,55.4 628.64,54.2 629.11,53.03 629.59,51.89 630.07,50.78 630.54,49.7 631.02,48.65 631.5,47.62 631.97,46.63 632.45,45.67 632.93,44.74 633.4,43.83 633.88,42.96 634.36,42.12 634.84,41.3 635.31,40.51 635.79,39.75 636.27,39.02 636.74,38.31 637.22,37.63 637.7,36.98 638.17,36.35 638.65,35.75 639.13,35.16 639.6,34.61 640.08,34.07 640.56,33.56 641.03,33.06 641.51,32.59 641.99,32.14 642.47,31.7 642.94,31.29 643.42,30.89 643.9,30.51 644.37,30.14 644.85,29.8 645.33,29.46 645.8,29.14 646.28,28.84 646.76,28.55 647.23,28.27 647.71,28.01 648.19,27.75 648.66,27.51 649.14,27.28 649.62,27.06 650.1,26.85 650.57,26.65 651.05,26.46 651.53,26.28 652,26.11 652.48,25.94 652.96,25.79 653.43,25.64 653.91,25.49 654.39,25.36 654.86,25.23 655.34,25.11 655.82,24.99 656.29,24.88 656.77,24.77 657.25,24.67 657.73,24.57 658.2,24.48 658.68,24.39 659.16,24.31 659.63,24.23 660.11,24.16 660.59,24.08 661.06,24.02 661.54,23.95 662.02,23.89 662.49,23.83 662.97,23.78 663.45,23.72 663.92,23.67 664.4,23.62 664.88,23.58 665.36,23.53 665.83,23.49 666.31,23.45 666.79,23.42 667.26,23.38 667.74,23.35 668.22,23.32 668.69,23.29 669.17,23.26 669.65,23.23 670.12,23.2 670.6,23.18 671.08,23.15 671.55,23.13 672.03,23.11 672.51,23.09 672.99,23.07 673.46,23.05 673.94,23.03 674.42,23.02 674.89,23 675.37,22.99 675.85,22.97 676.32,22.96 676.8,22.95" fill="none" stroke="#c0595a" stroke-width="0.8" stroke-linejoin="round"/>
<line x1="619.58" y1="119.1" x2="619.58" y2="131.7" stroke="#808283" stroke-width="0.8"/>
<line x1="617.18" y1="119.1" x2="621.98" y2="119.1" stroke="#808283" stroke-width="0.8"/>
<line x1="617.18" y1="131.7" x2="621.98" y2="131.7" stroke="#808283" stroke-width="0.8"/>
<line x1="638.65" y1="62.9" x2="638.65" y2="89.7" stroke="#808283" stroke-width="0.8"/>
<line x1="636.25" y1="62.9" x2="641.05" y2="62.9" stroke="#808283" stroke-width="0.8"/>
<line x1="636.25" y1="89.7" x2="641.05" y2="89.7" stroke="#808283" stroke-width="0.8"/>
<line x1="657.73" y1="34.6" x2="657.73" y2="54" stroke="#808283" stroke-width="0.8"/>
<line x1="655.33" y1="34.6" x2="660.12" y2="34.6" stroke="#808283" stroke-width="0.8"/>
<line x1="655.33" y1="54" x2="660.12" y2="54" stroke="#808283" stroke-width="0.8"/>
<line x1="676.8" y1="27.3" x2="676.8" y2="35" stroke="#808283" stroke-width="0.8"/>
<line x1="674.4" y1="27.3" x2="679.2" y2="27.3" stroke="#808283" stroke-width="0.8"/>
<line x1="674.4" y1="35" x2="679.2" y2="35" stroke="#808283" stroke-width="0.8"/>
<circle cx="581.43" cy="142.5" r="3.2" fill="none" stroke="#808283" stroke-width="0.85"/>
<circle cx="600.5" cy="139.98" r="3.2" fill="none" stroke="#808283" stroke-width="0.85"/>
<circle cx="619.58" cy="125.37" r="3.2" fill="none" stroke="#808283" stroke-width="0.85"/>
<circle cx="638.65" cy="76.25" r="3.2" fill="none" stroke="#808283" stroke-width="0.85"/>
<circle cx="657.73" cy="44.02" r="3.2" fill="none" stroke="#808283" stroke-width="0.85"/>
<circle cx="676.8" cy="30.61" r="3.2" fill="none" stroke="#808283" stroke-width="0.85"/>
<line x1="600.5" y1="125.9" x2="600.5" y2="135.6" stroke="#c0595a" stroke-width="0.8"/>
<line x1="598.1" y1="125.9" x2="602.9" y2="125.9" stroke="#c0595a" stroke-width="0.8"/>
<line x1="598.1" y1="135.6" x2="602.9" y2="135.6" stroke="#c0595a" stroke-width="0.8"/>
<line x1="619.58" y1="70.3" x2="619.58" y2="94.8" stroke="#c0595a" stroke-width="0.8"/>
<line x1="617.18" y1="70.3" x2="621.98" y2="70.3" stroke="#c0595a" stroke-width="0.8"/>
<line x1="617.18" y1="94.8" x2="621.98" y2="94.8" stroke="#c0595a" stroke-width="0.8"/>
<line x1="638.65" y1="25.5" x2="638.65" y2="48" stroke="#c0595a" stroke-width="0.8"/>
<line x1="636.25" y1="25.5" x2="641.05" y2="25.5" stroke="#c0595a" stroke-width="0.8"/>
<line x1="636.25" y1="48" x2="641.05" y2="48" stroke="#c0595a" stroke-width="0.8"/>
<line x1="657.73" y1="22.8" x2="657.73" y2="30.2" stroke="#c0595a" stroke-width="0.8"/>
<line x1="655.33" y1="22.8" x2="660.12" y2="22.8" stroke="#c0595a" stroke-width="0.8"/>
<line x1="655.33" y1="30.2" x2="660.12" y2="30.2" stroke="#c0595a" stroke-width="0.8"/>
<circle cx="524.2" cy="142.5" r="3.2" fill="none" stroke="#c0595a" stroke-width="0.85"/>
<circle cx="543.28" cy="142.5" r="3.2" fill="none" stroke="#c0595a" stroke-width="0.85"/>
<circle cx="562.35" cy="142.5" r="3.2" fill="none" stroke="#c0595a" stroke-width="0.85"/>
<circle cx="581.43" cy="142.5" r="3.2" fill="none" stroke="#c0595a" stroke-width="0.85"/>
<circle cx="600.5" cy="131.24" r="3.2" fill="none" stroke="#c0595a" stroke-width="0.85"/>
<circle cx="619.58" cy="82.6" r="3.2" fill="none" stroke="#c0595a" stroke-width="0.85"/>
<circle cx="638.65" cy="36.6" r="3.2" fill="none" stroke="#c0595a" stroke-width="0.85"/>
<circle cx="657.73" cy="26.65" r="3.2" fill="none" stroke="#c0595a" stroke-width="0.85"/>
<circle cx="676.8" cy="22.7" r="3.2" fill="none" stroke="#c0595a" stroke-width="0.85"/>
<circle cx="581.43" cy="142.5" r="3.2" fill="none" stroke="#808283" stroke-width="0.85"/>
<circle cx="534.6" cy="25.2" r="3.2" fill="none" stroke="#808283" stroke-width="0.85"/>
<circle cx="534.6" cy="47.8" r="3.2" fill="none" stroke="#c0595a" stroke-width="0.85"/>
<text x="544.8" y="28.5" font-size="9.4" text-anchor="start" fill="#2b2122">Bath</text>
<text x="544.8" y="51.2" font-size="9.4" text-anchor="start" fill="#2b2122">200 nM sibanin</text>
<line x1="57.6" y1="223.8" x2="57.6" y2="349.2" stroke="#231f20" stroke-width="1"/>
<line x1="57.1" y1="348.7" x2="214.4" y2="348.7" stroke="#231f20" stroke-width="1"/>
<line x1="51.9" y1="343.6" x2="57.6" y2="343.6" stroke="#231f20" stroke-width="1"/>
<text x="47.9" y="347.05" font-size="9.7" text-anchor="end" fill="#2b2122">0.0</text>
<line x1="51.9" y1="319.64" x2="57.6" y2="319.64" stroke="#231f20" stroke-width="1"/>
<text x="47.9" y="323.09" font-size="9.7" text-anchor="end" fill="#2b2122">0.2</text>
<line x1="51.9" y1="295.68" x2="57.6" y2="295.68" stroke="#231f20" stroke-width="1"/>
<text x="47.9" y="299.13" font-size="9.7" text-anchor="end" fill="#2b2122">0.4</text>
<line x1="51.9" y1="271.72" x2="57.6" y2="271.72" stroke="#231f20" stroke-width="1"/>
<text x="47.9" y="275.17" font-size="9.7" text-anchor="end" fill="#2b2122">0.6</text>
<line x1="51.9" y1="247.76" x2="57.6" y2="247.76" stroke="#231f20" stroke-width="1"/>
<text x="47.9" y="251.21" font-size="9.7" text-anchor="end" fill="#2b2122">0.8</text>
<line x1="51.9" y1="223.8" x2="57.6" y2="223.8" stroke="#231f20" stroke-width="1"/>
<text x="47.9" y="227.25" font-size="9.7" text-anchor="end" fill="#2b2122">1.0</text>
<line x1="61.2" y1="348.7" x2="61.2" y2="354.8" stroke="#231f20" stroke-width="1"/>
<text x="61.2" y="367.4" font-size="9.7" text-anchor="middle" fill="#2b2122">-120</text>
<line x1="91.76" y1="348.7" x2="91.76" y2="354.8" stroke="#231f20" stroke-width="1"/>
<text x="91.76" y="367.4" font-size="9.7" text-anchor="middle" fill="#2b2122">-100</text>
<line x1="122.32" y1="348.7" x2="122.32" y2="354.8" stroke="#231f20" stroke-width="1"/>
<text x="122.32" y="367.4" font-size="9.7" text-anchor="middle" fill="#2b2122">-80</text>
<line x1="152.88" y1="348.7" x2="152.88" y2="354.8" stroke="#231f20" stroke-width="1"/>
<text x="152.88" y="367.4" font-size="9.7" text-anchor="middle" fill="#2b2122">-60</text>
<line x1="183.44" y1="348.7" x2="183.44" y2="354.8" stroke="#231f20" stroke-width="1"/>
<text x="183.44" y="367.4" font-size="9.7" text-anchor="middle" fill="#2b2122">-40</text>
<line x1="214" y1="348.7" x2="214" y2="354.8" stroke="#231f20" stroke-width="1"/>
<text x="214" y="367.4" font-size="9.7" text-anchor="middle" fill="#2b2122">-20</text>
<text x="0" y="0" font-size="10.85" text-anchor="middle" fill="#2b2122" transform="translate(26.3,289) rotate(-90)" textLength="117.65" lengthAdjust="spacingAndGlyphs">Normalized conductance</text>
<text x="133.1" y="377.9" font-size="10.85" text-anchor="middle" fill="#2b2122" textLength="63.7" lengthAdjust="spacingAndGlyphs">Voltage (mV)</text>
<polyline points="61.2,223.8 61.58,223.8 61.96,223.8 62.35,223.8 62.73,223.8 63.11,223.8 63.49,223.8 63.87,223.8 64.26,223.8 64.64,223.8 65.02,223.8 65.4,223.8 65.78,223.8 66.17,223.8 66.55,223.8 66.93,223.8 67.31,223.8 67.69,223.8 68.08,223.8 68.46,223.8 68.84,223.8 69.22,223.8 69.6,223.8 69.99,223.8 70.37,223.8 70.75,223.8 71.13,223.8 71.51,223.8 71.9,223.8 72.28,223.8 72.66,223.8 73.04,223.8 73.42,223.8 73.81,223.8 74.19,223.8 74.57,223.8 74.95,223.8 75.33,223.8 75.72,223.8 76.1,223.8 76.48,223.8 76.86,223.8 77.24,223.8 77.63,223.8 78.01,223.8 78.39,223.8 78.77,223.8 79.15,223.8 79.54,223.8 79.92,223.8 80.3,223.8 80.68,223.8 81.06,223.8 81.45,223.8 81.83,223.8 82.21,223.8 82.59,223.8 82.97,223.8 83.36,223.8 83.74,223.8 84.12,223.8 84.5,223.8 84.88,223.8 85.27,223.8 85.65,223.8 86.03,223.8 86.41,223.8 86.79,223.8 87.18,223.8 87.56,223.8 87.94,223.8 88.32,223.8 88.7,223.8 89.09,223.8 89.47,223.8 89.85,223.8 90.23,223.8 90.61,223.8 91,223.8 91.38,223.8 91.76,223.8 92.14,223.8 92.52,223.8 92.91,223.8 93.29,223.8 93.67,223.8 94.05,223.8 94.43,223.8 94.82,223.8 95.2,223.8 95.58,223.8 95.96,223.8 96.34,223.8 96.73,223.8 97.11,223.8 97.49,223.8 97.87,223.8 98.25,223.8 98.64,223.8 99.02,223.8 99.4,223.8 99.78,223.8 100.16,223.8 100.55,223.8 100.93,223.8 101.31,223.8 101.69,223.8 102.07,223.8 102.46,223.8 102.84,223.8 103.22,223.8 103.6,223.8 103.98,223.8 104.37,223.8 104.75,223.8 105.13,223.8 105.51,223.8 105.89,223.8 106.28,223.8 106.66,223.8 107.04,223.8 107.42,223.8 107.8,223.8 108.19,223.8 108.57,223.8 108.95,223.8 109.33,223.8 109.71,223.8 110.1,223.8 110.48,223.8 110.86,223.8 111.24,223.8 111.62,223.8 112.01,223.8 112.39,223.8 112.77,223.8 113.15,223.8 113.53,223.8 113.92,223.8 114.3,223.8 114.68,223.8 115.06,223.8 115.44,223.8 115.83,223.8 116.21,223.8 116.59,223.8 116.97,223.8 117.35,223.8 117.74,223.8 118.12,223.81 118.5,223.81 118.88,223.81 119.26,223.81 119.65,223.81 120.03,223.81 120.41,223.81 120.79,223.81 121.17,223.81 121.56,223.81 121.94,223.81 122.32,223.81 122.7,223.81 123.08,223.81 123.47,223.81 123.85,223.81 124.23,223.81 124.61,223.82 124.99,223.82 125.38,223.82 125.76,223.82 126.14,223.82 126.52,223.82 126.9,223.82 127.29,223.83 127.67,223.83 128.05,223.83 128.43,223.83 128.81,223.83 129.2,223.84 129.58,223.84 129.96,223.84 130.34,223.84 130.72,223.85 131.11,223.85 131.49,223.85 131.87,223.86 132.25,223.86 132.63,223.86 133.02,223.87 133.4,223.87 133.78,223.88 134.16,223.88 134.54,223.89 134.93,223.89 135.31,223.9 135.69,223.91 136.07,223.92 136.45,223.92 136.84,223.93 137.22,223.94 137.6,223.95 137.98,223.96 138.36,223.97 138.75,223.98 139.13,223.99 139.51,224.01 139.89,224.02 140.27,224.04 140.66,224.05 141.04,224.07 141.42,224.09 141.8,224.11 142.18,224.13 142.57,224.15 142.95,224.18 143.33,224.2 143.71,224.23 144.09,224.26 144.48,224.29 144.86,224.32 145.24,224.36 145.62,224.39 146,224.43 146.39,224.48 146.77,224.52 147.15,224.57 147.53,224.62 147.91,224.68 148.3,224.74 148.68,224.8 149.06,224.87 149.44,224.94 149.82,225.02 150.21,225.1 150.59,225.19 150.97,225.28 151.35,225.38 151.73,225.48 152.12,225.6 152.5,225.72 152.88,225.85 153.26,225.98 153.64,226.13 154.03,226.28 154.41,226.45 154.79,226.62 155.17,226.81 155.55,227.01 155.94,227.22 156.32,227.45 156.7,227.69 157.08,227.94 157.46,228.22 157.85,228.5 158.23,228.81 158.61,229.14 158.99,229.48 159.37,229.85 159.76,230.24 160.14,230.65 160.52,231.09 160.9,231.55 161.28,232.04 161.67,232.56 162.05,233.11 162.43,233.69 162.81,234.31 163.19,234.95 163.58,235.64 163.96,236.36 164.34,237.12 164.72,237.92 165.1,238.76 165.49,239.64 165.87,240.56 166.25,241.54 166.63,242.55 167.01,243.62 167.4,244.73 167.78,245.89 168.16,247.1 168.54,248.36 168.92,249.67 169.31,251.03 169.69,252.44 170.07,253.9 170.45,255.4 170.83,256.96 171.22,258.56 171.6,260.2 171.98,261.89 172.36,263.62 172.74,265.39 173.13,267.19 173.51,269.03 173.89,270.9 174.27,272.79 174.65,274.7 175.04,276.64 175.42,278.59 175.8,280.55 176.18,282.52 176.56,284.49 176.95,286.46 177.33,288.42 177.71,290.37 178.09,292.31 178.47,294.23 178.86,296.13 179.24,298 179.62,299.84 180,301.65 180.38,303.43 180.77,305.17 181.15,306.86 181.53,308.52 181.91,310.13 182.29,311.69 182.68,313.21 183.06,314.67 183.44,316.09 183.82,317.46 184.2,318.78 184.59,320.05 184.97,321.27 185.35,322.44 185.73,323.56 186.11,324.64 186.5,325.66 186.88,326.64 187.26,327.58 187.64,328.47 188.02,329.32 188.41,330.13 188.79,330.89 189.17,331.62 189.55,332.31 189.93,332.97 190.32,333.59 190.7,334.18 191.08,334.73 191.46,335.26 191.84,335.75 192.23,336.22 192.61,336.66 192.99,337.08 193.37,337.48 193.75,337.85 194.14,338.2 194.52,338.53 194.9,338.84 195.28,339.13 195.66,339.4 196.05,339.66 196.43,339.9 196.81,340.13 197.19,340.35 197.57,340.55 197.96,340.74 198.34,340.92 198.72,341.08 199.1,341.24 199.48,341.39 199.87,341.53 200.25,341.66 200.63,341.78 201.01,341.89 201.39,342 201.78,342.1 202.16,342.2 202.54,342.28 202.92,342.37 203.3,342.44 203.69,342.52 204.07,342.59 204.45,342.65 204.83,342.71 205.21,342.77 205.6,342.82 205.98,342.87 206.36,342.91 206.74,342.96 207.12,343 207.51,343.04 207.89,343.07 208.27,343.11 208.65,343.14 209.03,343.17 209.42,343.19 209.8,343.22 210.18,343.24 210.56,343.27 210.94,343.29 211.33,343.31 211.71,343.33 212.09,343.34 212.47,343.36 212.85,343.38 213.24,343.39 213.62,343.4 214,343.42" fill="none" stroke="#808283" stroke-width="0.8" stroke-linejoin="round"/>
<polyline points="61.2,223.8 61.58,223.8 61.96,223.8 62.35,223.8 62.73,223.8 63.11,223.8 63.49,223.8 63.87,223.8 64.26,223.8 64.64,223.8 65.02,223.8 65.4,223.8 65.78,223.8 66.17,223.8 66.55,223.8 66.93,223.8 67.31,223.8 67.69,223.8 68.08,223.8 68.46,223.81 68.84,223.81 69.22,223.81 69.6,223.81 69.99,223.81 70.37,223.81 70.75,223.81 71.13,223.81 71.51,223.81 71.9,223.81 72.28,223.81 72.66,223.81 73.04,223.81 73.42,223.81 73.81,223.81 74.19,223.81 74.57,223.81 74.95,223.81 75.33,223.81 75.72,223.81 76.1,223.81 76.48,223.81 76.86,223.81 77.24,223.81 77.63,223.81 78.01,223.82 78.39,223.82 78.77,223.82 79.15,223.82 79.54,223.82 79.92,223.82 80.3,223.82 80.68,223.82 81.06,223.82 81.45,223.82 81.83,223.82 82.21,223.82 82.59,223.83 82.97,223.83 83.36,223.83 83.74,223.83 84.12,223.83 84.5,223.83 84.88,223.83 85.27,223.83 85.65,223.84 86.03,223.84 86.41,223.84 86.79,223.84 87.18,223.84 87.56,223.84 87.94,223.85 88.32,223.85 88.7,223.85 89.09,223.85 89.47,223.86 89.85,223.86 90.23,223.86 90.61,223.86 91,223.87 91.38,223.87 91.76,223.87 92.14,223.88 92.52,223.88 92.91,223.88 93.29,223.89 93.67,223.89 94.05,223.89 94.43,223.9 94.82,223.9 95.2,223.91 95.58,223.91 95.96,223.92 96.34,223.92 96.73,223.93 97.11,223.93 97.49,223.94 97.87,223.94 98.25,223.95 98.64,223.96 99.02,223.96 99.4,223.97 99.78,223.98 100.16,223.99 100.55,223.99 100.93,224 101.31,224.01 101.69,224.02 102.07,224.03 102.46,224.04 102.84,224.05 103.22,224.06 103.6,224.07 103.98,224.09 104.37,224.1 104.75,224.11 105.13,224.13 105.51,224.14 105.89,224.15 106.28,224.17 106.66,224.19 107.04,224.2 107.42,224.22 107.8,224.24 108.19,224.26 108.57,224.28 108.95,224.3 109.33,224.32 109.71,224.35 110.1,224.37 110.48,224.39 110.86,224.42 111.24,224.45 111.62,224.48 112.01,224.51 112.39,224.54 112.77,224.57 113.15,224.6 113.53,224.64 113.92,224.67 114.3,224.71 114.68,224.75 115.06,224.79 115.44,224.84 115.83,224.88 116.21,224.93 116.59,224.98 116.97,225.03 117.35,225.08 117.74,225.14 118.12,225.2 118.5,225.26 118.88,225.32 119.26,225.39 119.65,225.46 120.03,225.53 120.41,225.6 120.79,225.68 121.17,225.76 121.56,225.85 121.94,225.94 122.32,226.03 122.7,226.13 123.08,226.23 123.47,226.33 123.85,226.44 124.23,226.55 124.61,226.67 124.99,226.79 125.38,226.92 125.76,227.06 126.14,227.2 126.52,227.34 126.9,227.49 127.29,227.65 127.67,227.81 128.05,227.98 128.43,228.16 128.81,228.35 129.2,228.54 129.58,228.74 129.96,228.95 130.34,229.16 130.72,229.39 131.11,229.62 131.49,229.87 131.87,230.12 132.25,230.38 132.63,230.66 133.02,230.94 133.4,231.24 133.78,231.54 134.16,231.86 134.54,232.19 134.93,232.53 135.31,232.89 135.69,233.26 136.07,233.64 136.45,234.04 136.84,234.45 137.22,234.87 137.6,235.31 137.98,235.77 138.36,236.24 138.75,236.73 139.13,237.24 139.51,237.76 139.89,238.3 140.27,238.86 140.66,239.43 141.04,240.03 141.42,240.64 141.8,241.28 142.18,241.93 142.57,242.6 142.95,243.3 143.33,244.01 143.71,244.75 144.09,245.5 144.48,246.28 144.86,247.08 145.24,247.89 145.62,248.73 146,249.6 146.39,250.48 146.77,251.38 147.15,252.31 147.53,253.26 147.91,254.22 148.3,255.21 148.68,256.22 149.06,257.25 149.44,258.3 149.82,259.37 150.21,260.46 150.59,261.56 150.97,262.69 151.35,263.83 151.73,264.98 152.12,266.16 152.5,267.34 152.88,268.55 153.26,269.76 153.64,270.99 154.03,272.23 154.41,273.47 154.79,274.73 155.17,276 155.55,277.27 155.94,278.55 156.32,279.83 156.7,281.12 157.08,282.41 157.46,283.7 157.85,284.99 158.23,286.28 158.61,287.57 158.99,288.85 159.37,290.13 159.76,291.4 160.14,292.67 160.52,293.93 160.9,295.17 161.28,296.41 161.67,297.64 162.05,298.85 162.43,300.06 162.81,301.24 163.19,302.42 163.58,303.57 163.96,304.71 164.34,305.84 164.72,306.94 165.1,308.03 165.49,309.1 165.87,310.15 166.25,311.18 166.63,312.19 167.01,313.18 167.4,314.14 167.78,315.09 168.16,316.02 168.54,316.92 168.92,317.8 169.31,318.67 169.69,319.51 170.07,320.32 170.45,321.12 170.83,321.9 171.22,322.65 171.6,323.39 171.98,324.1 172.36,324.8 172.74,325.47 173.13,326.12 173.51,326.76 173.89,327.37 174.27,327.97 174.65,328.54 175.04,329.1 175.42,329.64 175.8,330.16 176.18,330.67 176.56,331.16 176.95,331.63 177.33,332.09 177.71,332.53 178.09,332.95 178.47,333.36 178.86,333.76 179.24,334.14 179.62,334.51 180,334.87 180.38,335.21 180.77,335.54 181.15,335.86 181.53,336.16 181.91,336.46 182.29,336.74 182.68,337.02 183.06,337.28 183.44,337.53 183.82,337.78 184.2,338.01 184.59,338.24 184.97,338.45 185.35,338.66 185.73,338.86 186.11,339.05 186.5,339.24 186.88,339.42 187.26,339.59 187.64,339.75 188.02,339.91 188.41,340.06 188.79,340.2 189.17,340.34 189.55,340.48 189.93,340.61 190.32,340.73 190.7,340.85 191.08,340.96 191.46,341.07 191.84,341.17 192.23,341.27 192.61,341.37 192.99,341.46 193.37,341.55 193.75,341.64 194.14,341.72 194.52,341.8 194.9,341.87 195.28,341.94 195.66,342.01 196.05,342.08 196.43,342.14 196.81,342.2 197.19,342.26 197.57,342.32 197.96,342.37 198.34,342.42 198.72,342.47 199.1,342.52 199.48,342.56 199.87,342.61 200.25,342.65 200.63,342.69 201.01,342.73 201.39,342.76 201.78,342.8 202.16,342.83 202.54,342.86 202.92,342.89 203.3,342.92 203.69,342.95 204.07,342.98 204.45,343.01 204.83,343.03 205.21,343.05 205.6,343.08 205.98,343.1 206.36,343.12 206.74,343.14 207.12,343.16 207.51,343.18 207.89,343.2 208.27,343.21 208.65,343.23 209.03,343.25 209.42,343.26 209.8,343.27 210.18,343.29 210.56,343.3 210.94,343.31 211.33,343.33 211.71,343.34 212.09,343.35 212.47,343.36 212.85,343.37 213.24,343.38 213.62,343.39 214,343.4" fill="none" stroke="#c0595a" stroke-width="0.8" stroke-linejoin="round"/>
<line x1="168.16" y1="241.3" x2="168.16" y2="253.4" stroke="#808283" stroke-width="0.8"/>
<line x1="165.76" y1="241.3" x2="170.56" y2="241.3" stroke="#808283" stroke-width="0.8"/>
<line x1="165.76" y1="253.4" x2="170.56" y2="253.4" stroke="#808283" stroke-width="0.8"/>
<line x1="183.44" y1="311.2" x2="183.44" y2="321.3" stroke="#808283" stroke-width="0.8"/>
<line x1="181.04" y1="311.2" x2="185.84" y2="311.2" stroke="#808283" stroke-width="0.8"/>
<line x1="181.04" y1="321.3" x2="185.84" y2="321.3" stroke="#808283" stroke-width="0.8"/>
<circle cx="61.2" cy="224.76" r="3.2" fill="none" stroke="#808283" stroke-width="0.85"/>
<circle cx="76.48" cy="224.76" r="3.2" fill="none" stroke="#808283" stroke-width="0.85"/>
<circle cx="91.76" cy="224.76" r="3.2" fill="none" stroke="#808283" stroke-width="0.85"/>
<circle cx="107.04" cy="224.76" r="3.2" fill="none" stroke="#808283" stroke-width="0.85"/>
<circle cx="122.32" cy="224.4" r="3.2" fill="none" stroke="#808283" stroke-width="0.85"/>
<circle cx="137.6" cy="224.04" r="3.2" fill="none" stroke="#808283" stroke-width="0.85"/>
<circle cx="152.88" cy="225" r="3.2" fill="none" stroke="#808283" stroke-width="0.85"/>
<circle cx="168.16" cy="246.92" r="3.2" fill="none" stroke="#808283" stroke-width="0.85"/>
<circle cx="183.44" cy="316.29" r="3.2" fill="none" stroke="#808283" stroke-width="0.85"/>
<circle cx="198.72" cy="343.6" r="3.2" fill="none" stroke="#808283" stroke-width="0.85"/>
<circle cx="214" cy="343.6" r="3.2" fill="none" stroke="#808283" stroke-width="0.85"/>
<line x1="137.6" y1="232.4" x2="137.6" y2="245.6" stroke="#c0595a" stroke-width="0.8"/>
<line x1="135.2" y1="232.4" x2="140" y2="232.4" stroke="#c0595a" stroke-width="0.8"/>
<line x1="135.2" y1="245.6" x2="140" y2="245.6" stroke="#c0595a" stroke-width="0.8"/>
<line x1="152.88" y1="259.6" x2="152.88" y2="284.2" stroke="#c0595a" stroke-width="0.8"/>
<line x1="150.48" y1="259.6" x2="155.28" y2="259.6" stroke="#c0595a" stroke-width="0.8"/>
<line x1="150.48" y1="284.2" x2="155.28" y2="284.2" stroke="#c0595a" stroke-width="0.8"/>
<line x1="168.16" y1="303.9" x2="168.16" y2="321.3" stroke="#c0595a" stroke-width="0.8"/>
<line x1="165.76" y1="303.9" x2="170.56" y2="303.9" stroke="#c0595a" stroke-width="0.8"/>
<line x1="165.76" y1="321.3" x2="170.56" y2="321.3" stroke="#c0595a" stroke-width="0.8"/>
<line x1="183.44" y1="335.4" x2="183.44" y2="342.4" stroke="#c0595a" stroke-width="0.8"/>
<line x1="181.04" y1="335.4" x2="185.84" y2="335.4" stroke="#c0595a" stroke-width="0.8"/>
<line x1="181.04" y1="342.4" x2="185.84" y2="342.4" stroke="#c0595a" stroke-width="0.8"/>
<circle cx="61.2" cy="225" r="3.2" fill="none" stroke="#c0595a" stroke-width="0.85"/>
<circle cx="76.48" cy="225" r="3.2" fill="none" stroke="#c0595a" stroke-width="0.85"/>
<circle cx="91.76" cy="225" r="3.2" fill="none" stroke="#c0595a" stroke-width="0.85"/>
<circle cx="107.04" cy="225" r="3.2" fill="none" stroke="#c0595a" stroke-width="0.85"/>
<circle cx="122.32" cy="226.2" r="3.2" fill="none" stroke="#c0595a" stroke-width="0.85"/>
<circle cx="137.6" cy="238.42" r="3.2" fill="none" stroke="#c0595a" stroke-width="0.85"/>
<circle cx="152.88" cy="271.72" r="3.2" fill="none" stroke="#c0595a" stroke-width="0.85"/>
<circle cx="168.16" cy="312.69" r="3.2" fill="none" stroke="#c0595a" stroke-width="0.85"/>
<circle cx="183.44" cy="339.05" r="3.2" fill="none" stroke="#c0595a" stroke-width="0.85"/>
<circle cx="198.72" cy="343.6" r="3.2" fill="none" stroke="#c0595a" stroke-width="0.85"/>
<circle cx="214" cy="343.6" r="3.2" fill="none" stroke="#c0595a" stroke-width="0.85"/>
<circle cx="70" cy="310.6" r="3.2" fill="none" stroke="#808283" stroke-width="0.85"/>
<circle cx="70" cy="333.2" r="3.2" fill="none" stroke="#c0595a" stroke-width="0.85"/>
<text x="78.6" y="314" font-size="9.4" text-anchor="start" fill="#2b2122">Bath</text>
<text x="78.6" y="336.4" font-size="9.4" text-anchor="start" fill="#2b2122">200 nM sibanin</text>
<line x1="280.2" y1="224.2" x2="280.2" y2="349.5" stroke="#231f20" stroke-width="1"/>
<line x1="279.7" y1="349" x2="440.2" y2="349" stroke="#231f20" stroke-width="1"/>
<line x1="274.5" y1="344.3" x2="280.2" y2="344.3" stroke="#231f20" stroke-width="1"/>
<text x="272.6" y="347.75" font-size="9.7" text-anchor="end" fill="#2b2122">0.0</text>
<line x1="274.5" y1="320.28" x2="280.2" y2="320.28" stroke="#231f20" stroke-width="1"/>
<text x="272.6" y="323.73" font-size="9.7" text-anchor="end" fill="#2b2122">0.2</text>
<line x1="274.5" y1="296.26" x2="280.2" y2="296.26" stroke="#231f20" stroke-width="1"/>
<text x="272.6" y="299.71" font-size="9.7" text-anchor="end" fill="#2b2122">0.4</text>
<line x1="274.5" y1="272.24" x2="280.2" y2="272.24" stroke="#231f20" stroke-width="1"/>
<text x="272.6" y="275.69" font-size="9.7" text-anchor="end" fill="#2b2122">0.6</text>
<line x1="274.5" y1="248.22" x2="280.2" y2="248.22" stroke="#231f20" stroke-width="1"/>
<text x="272.6" y="251.67" font-size="9.7" text-anchor="end" fill="#2b2122">0.8</text>
<line x1="274.5" y1="224.2" x2="280.2" y2="224.2" stroke="#231f20" stroke-width="1"/>
<text x="272.6" y="227.65" font-size="9.7" text-anchor="end" fill="#2b2122">1.0</text>
<line x1="284.1" y1="349" x2="284.1" y2="354.7" stroke="#231f20" stroke-width="1"/>
<text x="284.1" y="367" font-size="9.7" text-anchor="middle" fill="#2b2122">0</text>
<line x1="315.28" y1="349" x2="315.28" y2="354.7" stroke="#231f20" stroke-width="1"/>
<text x="315.28" y="367" font-size="9.7" text-anchor="middle" fill="#2b2122">10</text>
<line x1="346.46" y1="349" x2="346.46" y2="354.7" stroke="#231f20" stroke-width="1"/>
<text x="346.46" y="367" font-size="9.7" text-anchor="middle" fill="#2b2122">20</text>
<line x1="377.64" y1="349" x2="377.64" y2="354.7" stroke="#231f20" stroke-width="1"/>
<text x="377.64" y="367" font-size="9.7" text-anchor="middle" fill="#2b2122">30</text>
<line x1="408.82" y1="349" x2="408.82" y2="354.7" stroke="#231f20" stroke-width="1"/>
<text x="408.82" y="367" font-size="9.7" text-anchor="middle" fill="#2b2122">40</text>
<line x1="440" y1="349" x2="440" y2="354.7" stroke="#231f20" stroke-width="1"/>
<text x="440" y="367" font-size="9.7" text-anchor="middle" fill="#2b2122">50</text>
<text x="0" y="0" font-size="10.85" text-anchor="middle" fill="#2b2122" transform="translate(249.6,281.2) rotate(-90)" textLength="90.14" lengthAdjust="spacingAndGlyphs">Normalized current</text>
<text x="362.1" y="378.9" font-size="10.85" text-anchor="middle" fill="#2b2122" textLength="95.4" lengthAdjust="spacingAndGlyphs">Recovery time (ms)</text>
<polyline points="284.1,344.3 287.22,307.31 290.34,288.93 293.45,278.85 296.57,270.68 299.69,264.19 302.81,258.55 309.04,247.26 315.28,240.89 321.52,240.29 327.75,237.65 333.99,236.81 340.22,236.21 346.46,235.37 362.05,235.37 377.64,233.21 393.23,234.29 408.82,234.41 424.41,234.41 440,234.41" fill="none" stroke="#808283" stroke-width="0.8" stroke-linejoin="round"/>
<line x1="287.22" y1="300.7" x2="287.22" y2="313.91" stroke="#808283" stroke-width="0.8"/>
<line x1="284.82" y1="300.7" x2="289.62" y2="300.7" stroke="#808283" stroke-width="0.8"/>
<line x1="284.82" y1="313.91" x2="289.62" y2="313.91" stroke="#808283" stroke-width="0.8"/>
<line x1="290.34" y1="283.89" x2="290.34" y2="293.98" stroke="#808283" stroke-width="0.8"/>
<line x1="287.94" y1="283.89" x2="292.74" y2="283.89" stroke="#808283" stroke-width="0.8"/>
<line x1="287.94" y1="293.98" x2="292.74" y2="293.98" stroke="#808283" stroke-width="0.8"/>
<line x1="293.45" y1="274.04" x2="293.45" y2="283.65" stroke="#808283" stroke-width="0.8"/>
<line x1="291.05" y1="274.04" x2="295.85" y2="274.04" stroke="#808283" stroke-width="0.8"/>
<line x1="291.05" y1="283.65" x2="295.85" y2="283.65" stroke="#808283" stroke-width="0.8"/>
<line x1="296.57" y1="265.87" x2="296.57" y2="275.48" stroke="#808283" stroke-width="0.8"/>
<line x1="294.17" y1="265.87" x2="298.97" y2="265.87" stroke="#808283" stroke-width="0.8"/>
<line x1="294.17" y1="275.48" x2="298.97" y2="275.48" stroke="#808283" stroke-width="0.8"/>
<line x1="299.69" y1="259.39" x2="299.69" y2="269" stroke="#808283" stroke-width="0.8"/>
<line x1="297.29" y1="259.39" x2="302.09" y2="259.39" stroke="#808283" stroke-width="0.8"/>
<line x1="297.29" y1="269" x2="302.09" y2="269" stroke="#808283" stroke-width="0.8"/>
<line x1="302.81" y1="253.74" x2="302.81" y2="263.35" stroke="#808283" stroke-width="0.8"/>
<line x1="300.41" y1="253.74" x2="305.21" y2="253.74" stroke="#808283" stroke-width="0.8"/>
<line x1="300.41" y1="263.35" x2="305.21" y2="263.35" stroke="#808283" stroke-width="0.8"/>
<line x1="309.04" y1="241.01" x2="309.04" y2="253.5" stroke="#808283" stroke-width="0.8"/>
<line x1="306.64" y1="241.01" x2="311.44" y2="241.01" stroke="#808283" stroke-width="0.8"/>
<line x1="306.64" y1="253.5" x2="311.44" y2="253.5" stroke="#808283" stroke-width="0.8"/>
<line x1="315.28" y1="235.49" x2="315.28" y2="246.3" stroke="#808283" stroke-width="0.8"/>
<line x1="312.88" y1="235.49" x2="317.68" y2="235.49" stroke="#808283" stroke-width="0.8"/>
<line x1="312.88" y1="246.3" x2="317.68" y2="246.3" stroke="#808283" stroke-width="0.8"/>
<line x1="321.52" y1="236.09" x2="321.52" y2="244.5" stroke="#808283" stroke-width="0.8"/>
<line x1="319.12" y1="236.09" x2="323.92" y2="236.09" stroke="#808283" stroke-width="0.8"/>
<line x1="319.12" y1="244.5" x2="323.92" y2="244.5" stroke="#808283" stroke-width="0.8"/>
<line x1="327.75" y1="232.85" x2="327.75" y2="242.46" stroke="#808283" stroke-width="0.8"/>
<line x1="325.35" y1="232.85" x2="330.15" y2="232.85" stroke="#808283" stroke-width="0.8"/>
<line x1="325.35" y1="242.46" x2="330.15" y2="242.46" stroke="#808283" stroke-width="0.8"/>
<line x1="333.99" y1="232.61" x2="333.99" y2="241.01" stroke="#808283" stroke-width="0.8"/>
<line x1="331.59" y1="232.61" x2="336.39" y2="232.61" stroke="#808283" stroke-width="0.8"/>
<line x1="331.59" y1="241.01" x2="336.39" y2="241.01" stroke="#808283" stroke-width="0.8"/>
<line x1="340.22" y1="232.61" x2="340.22" y2="239.81" stroke="#808283" stroke-width="0.8"/>
<line x1="337.82" y1="232.61" x2="342.62" y2="232.61" stroke="#808283" stroke-width="0.8"/>
<line x1="337.82" y1="239.81" x2="342.62" y2="239.81" stroke="#808283" stroke-width="0.8"/>
<line x1="346.46" y1="231.77" x2="346.46" y2="238.97" stroke="#808283" stroke-width="0.8"/>
<line x1="344.06" y1="231.77" x2="348.86" y2="231.77" stroke="#808283" stroke-width="0.8"/>
<line x1="344.06" y1="238.97" x2="348.86" y2="238.97" stroke="#808283" stroke-width="0.8"/>
<line x1="362.05" y1="232.97" x2="362.05" y2="237.77" stroke="#808283" stroke-width="0.8"/>
<line x1="359.65" y1="232.97" x2="364.45" y2="232.97" stroke="#808283" stroke-width="0.8"/>
<line x1="359.65" y1="237.77" x2="364.45" y2="237.77" stroke="#808283" stroke-width="0.8"/>
<line x1="377.64" y1="230.81" x2="377.64" y2="235.61" stroke="#808283" stroke-width="0.8"/>
<line x1="375.24" y1="230.81" x2="380.04" y2="230.81" stroke="#808283" stroke-width="0.8"/>
<line x1="375.24" y1="235.61" x2="380.04" y2="235.61" stroke="#808283" stroke-width="0.8"/>
<line x1="393.23" y1="231.89" x2="393.23" y2="236.69" stroke="#808283" stroke-width="0.8"/>
<line x1="390.83" y1="231.89" x2="395.63" y2="231.89" stroke="#808283" stroke-width="0.8"/>
<line x1="390.83" y1="236.69" x2="395.63" y2="236.69" stroke="#808283" stroke-width="0.8"/>
<line x1="408.82" y1="232.61" x2="408.82" y2="236.21" stroke="#808283" stroke-width="0.8"/>
<line x1="406.42" y1="232.61" x2="411.22" y2="232.61" stroke="#808283" stroke-width="0.8"/>
<line x1="406.42" y1="236.21" x2="411.22" y2="236.21" stroke="#808283" stroke-width="0.8"/>
<line x1="424.41" y1="232.61" x2="424.41" y2="236.21" stroke="#808283" stroke-width="0.8"/>
<line x1="422.01" y1="232.61" x2="426.81" y2="232.61" stroke="#808283" stroke-width="0.8"/>
<line x1="422.01" y1="236.21" x2="426.81" y2="236.21" stroke="#808283" stroke-width="0.8"/>
<line x1="440" y1="232.61" x2="440" y2="236.21" stroke="#808283" stroke-width="0.8"/>
<line x1="437.6" y1="232.61" x2="442.4" y2="232.61" stroke="#808283" stroke-width="0.8"/>
<line x1="437.6" y1="236.21" x2="442.4" y2="236.21" stroke="#808283" stroke-width="0.8"/>
<circle cx="284.1" cy="344.3" r="3.2" fill="none" stroke="#808283" stroke-width="0.85"/>
<circle cx="287.22" cy="307.31" r="3.2" fill="none" stroke="#808283" stroke-width="0.85"/>
<circle cx="290.34" cy="288.93" r="3.2" fill="none" stroke="#808283" stroke-width="0.85"/>
<circle cx="293.45" cy="278.85" r="3.2" fill="none" stroke="#808283" stroke-width="0.85"/>
<circle cx="296.57" cy="270.68" r="3.2" fill="none" stroke="#808283" stroke-width="0.85"/>
<circle cx="299.69" cy="264.19" r="3.2" fill="none" stroke="#808283" stroke-width="0.85"/>
<circle cx="302.81" cy="258.55" r="3.2" fill="none" stroke="#808283" stroke-width="0.85"/>
<circle cx="309.04" cy="247.26" r="3.2" fill="none" stroke="#808283" stroke-width="0.85"/>
<circle cx="315.28" cy="240.89" r="3.2" fill="none" stroke="#808283" stroke-width="0.85"/>
<circle cx="321.52" cy="240.29" r="3.2" fill="none" stroke="#808283" stroke-width="0.85"/>
<circle cx="327.75" cy="237.65" r="3.2" fill="none" stroke="#808283" stroke-width="0.85"/>
<circle cx="333.99" cy="236.81" r="3.2" fill="none" stroke="#808283" stroke-width="0.85"/>
<circle cx="340.22" cy="236.21" r="3.2" fill="none" stroke="#808283" stroke-width="0.85"/>
<circle cx="346.46" cy="235.37" r="3.2" fill="none" stroke="#808283" stroke-width="0.85"/>
<circle cx="362.05" cy="235.37" r="3.2" fill="none" stroke="#808283" stroke-width="0.85"/>
<circle cx="377.64" cy="233.21" r="3.2" fill="none" stroke="#808283" stroke-width="0.85"/>
<circle cx="393.23" cy="234.29" r="3.2" fill="none" stroke="#808283" stroke-width="0.85"/>
<circle cx="408.82" cy="234.41" r="3.2" fill="none" stroke="#808283" stroke-width="0.85"/>
<circle cx="424.41" cy="234.41" r="3.2" fill="none" stroke="#808283" stroke-width="0.85"/>
<circle cx="440" cy="234.41" r="3.2" fill="none" stroke="#808283" stroke-width="0.85"/>
<polyline points="290.34,322.44 293.45,304.67 296.57,296.74 299.69,287.25 302.81,276.44 309.04,266.72 315.28,259.15 321.52,250.26 327.75,247.86 333.99,246.66 340.22,244.74 346.46,240.89 362.05,238.97 377.64,234.65 393.23,235.01 408.82,234.65 424.41,234.65 440,234.65" fill="none" stroke="#c0595a" stroke-width="0.8" stroke-linejoin="round"/>
<line x1="287.22" y1="331.45" x2="287.22" y2="336.25" stroke="#c0595a" stroke-width="0.8"/>
<line x1="284.82" y1="331.45" x2="289.62" y2="331.45" stroke="#c0595a" stroke-width="0.8"/>
<line x1="284.82" y1="336.25" x2="289.62" y2="336.25" stroke="#c0595a" stroke-width="0.8"/>
<line x1="290.34" y1="320.04" x2="290.34" y2="324.84" stroke="#c0595a" stroke-width="0.8"/>
<line x1="287.94" y1="320.04" x2="292.74" y2="320.04" stroke="#c0595a" stroke-width="0.8"/>
<line x1="287.94" y1="324.84" x2="292.74" y2="324.84" stroke="#c0595a" stroke-width="0.8"/>
<line x1="293.45" y1="299.26" x2="293.45" y2="310.07" stroke="#c0595a" stroke-width="0.8"/>
<line x1="291.05" y1="299.26" x2="295.85" y2="299.26" stroke="#c0595a" stroke-width="0.8"/>
<line x1="291.05" y1="310.07" x2="295.85" y2="310.07" stroke="#c0595a" stroke-width="0.8"/>
<line x1="296.57" y1="291.34" x2="296.57" y2="302.14" stroke="#c0595a" stroke-width="0.8"/>
<line x1="294.17" y1="291.34" x2="298.97" y2="291.34" stroke="#c0595a" stroke-width="0.8"/>
<line x1="294.17" y1="302.14" x2="298.97" y2="302.14" stroke="#c0595a" stroke-width="0.8"/>
<line x1="299.69" y1="281.85" x2="299.69" y2="292.66" stroke="#c0595a" stroke-width="0.8"/>
<line x1="297.29" y1="281.85" x2="302.09" y2="281.85" stroke="#c0595a" stroke-width="0.8"/>
<line x1="297.29" y1="292.66" x2="302.09" y2="292.66" stroke="#c0595a" stroke-width="0.8"/>
<line x1="302.81" y1="270.44" x2="302.81" y2="282.45" stroke="#c0595a" stroke-width="0.8"/>
<line x1="300.41" y1="270.44" x2="305.21" y2="270.44" stroke="#c0595a" stroke-width="0.8"/>
<line x1="300.41" y1="282.45" x2="305.21" y2="282.45" stroke="#c0595a" stroke-width="0.8"/>
<line x1="309.04" y1="260.71" x2="309.04" y2="272.72" stroke="#c0595a" stroke-width="0.8"/>
<line x1="306.64" y1="260.71" x2="311.44" y2="260.71" stroke="#c0595a" stroke-width="0.8"/>
<line x1="306.64" y1="272.72" x2="311.44" y2="272.72" stroke="#c0595a" stroke-width="0.8"/>
<line x1="315.28" y1="252.54" x2="315.28" y2="265.75" stroke="#c0595a" stroke-width="0.8"/>
<line x1="312.88" y1="252.54" x2="317.68" y2="252.54" stroke="#c0595a" stroke-width="0.8"/>
<line x1="312.88" y1="265.75" x2="317.68" y2="265.75" stroke="#c0595a" stroke-width="0.8"/>
<line x1="321.52" y1="244.62" x2="321.52" y2="255.91" stroke="#c0595a" stroke-width="0.8"/>
<line x1="319.12" y1="244.62" x2="323.92" y2="244.62" stroke="#c0595a" stroke-width="0.8"/>
<line x1="319.12" y1="255.91" x2="323.92" y2="255.91" stroke="#c0595a" stroke-width="0.8"/>
<line x1="327.75" y1="243.06" x2="327.75" y2="252.66" stroke="#c0595a" stroke-width="0.8"/>
<line x1="325.35" y1="243.06" x2="330.15" y2="243.06" stroke="#c0595a" stroke-width="0.8"/>
<line x1="325.35" y1="252.66" x2="330.15" y2="252.66" stroke="#c0595a" stroke-width="0.8"/>
<line x1="333.99" y1="241.85" x2="333.99" y2="251.46" stroke="#c0595a" stroke-width="0.8"/>
<line x1="331.59" y1="241.85" x2="336.39" y2="241.85" stroke="#c0595a" stroke-width="0.8"/>
<line x1="331.59" y1="251.46" x2="336.39" y2="251.46" stroke="#c0595a" stroke-width="0.8"/>
<line x1="340.22" y1="240.53" x2="340.22" y2="248.94" stroke="#c0595a" stroke-width="0.8"/>
<line x1="337.82" y1="240.53" x2="342.62" y2="240.53" stroke="#c0595a" stroke-width="0.8"/>
<line x1="337.82" y1="248.94" x2="342.62" y2="248.94" stroke="#c0595a" stroke-width="0.8"/>
<line x1="346.46" y1="237.29" x2="346.46" y2="244.5" stroke="#c0595a" stroke-width="0.8"/>
<line x1="344.06" y1="237.29" x2="348.86" y2="237.29" stroke="#c0595a" stroke-width="0.8"/>
<line x1="344.06" y1="244.5" x2="348.86" y2="244.5" stroke="#c0595a" stroke-width="0.8"/>
<line x1="362.05" y1="235.97" x2="362.05" y2="241.97" stroke="#c0595a" stroke-width="0.8"/>
<line x1="359.65" y1="235.97" x2="364.45" y2="235.97" stroke="#c0595a" stroke-width="0.8"/>
<line x1="359.65" y1="241.97" x2="364.45" y2="241.97" stroke="#c0595a" stroke-width="0.8"/>
<line x1="377.64" y1="232.25" x2="377.64" y2="237.05" stroke="#c0595a" stroke-width="0.8"/>
<line x1="375.24" y1="232.25" x2="380.04" y2="232.25" stroke="#c0595a" stroke-width="0.8"/>
<line x1="375.24" y1="237.05" x2="380.04" y2="237.05" stroke="#c0595a" stroke-width="0.8"/>
<line x1="393.23" y1="232.61" x2="393.23" y2="237.41" stroke="#c0595a" stroke-width="0.8"/>
<line x1="390.83" y1="232.61" x2="395.63" y2="232.61" stroke="#c0595a" stroke-width="0.8"/>
<line x1="390.83" y1="237.41" x2="395.63" y2="237.41" stroke="#c0595a" stroke-width="0.8"/>
<line x1="408.82" y1="232.85" x2="408.82" y2="236.45" stroke="#c0595a" stroke-width="0.8"/>
<line x1="406.42" y1="232.85" x2="411.22" y2="232.85" stroke="#c0595a" stroke-width="0.8"/>
<line x1="406.42" y1="236.45" x2="411.22" y2="236.45" stroke="#c0595a" stroke-width="0.8"/>
<line x1="424.41" y1="232.85" x2="424.41" y2="236.45" stroke="#c0595a" stroke-width="0.8"/>
<line x1="422.01" y1="232.85" x2="426.81" y2="232.85" stroke="#c0595a" stroke-width="0.8"/>
<line x1="422.01" y1="236.45" x2="426.81" y2="236.45" stroke="#c0595a" stroke-width="0.8"/>
<line x1="440" y1="232.85" x2="440" y2="236.45" stroke="#c0595a" stroke-width="0.8"/>
<line x1="437.6" y1="232.85" x2="442.4" y2="232.85" stroke="#c0595a" stroke-width="0.8"/>
<line x1="437.6" y1="236.45" x2="442.4" y2="236.45" stroke="#c0595a" stroke-width="0.8"/>
<circle cx="284.1" cy="344.3" r="3.2" fill="none" stroke="#c0595a" stroke-width="0.85"/>
<circle cx="287.22" cy="333.85" r="3.2" fill="none" stroke="#c0595a" stroke-width="0.85"/>
<circle cx="290.34" cy="322.44" r="3.2" fill="none" stroke="#c0595a" stroke-width="0.85"/>
<circle cx="293.45" cy="304.67" r="3.2" fill="none" stroke="#c0595a" stroke-width="0.85"/>
<circle cx="296.57" cy="296.74" r="3.2" fill="none" stroke="#c0595a" stroke-width="0.85"/>
<circle cx="299.69" cy="287.25" r="3.2" fill="none" stroke="#c0595a" stroke-width="0.85"/>
<circle cx="302.81" cy="276.44" r="3.2" fill="none" stroke="#c0595a" stroke-width="0.85"/>
<circle cx="309.04" cy="266.72" r="3.2" fill="none" stroke="#c0595a" stroke-width="0.85"/>
<circle cx="315.28" cy="259.15" r="3.2" fill="none" stroke="#c0595a" stroke-width="0.85"/>
<circle cx="321.52" cy="250.26" r="3.2" fill="none" stroke="#c0595a" stroke-width="0.85"/>
<circle cx="327.75" cy="247.86" r="3.2" fill="none" stroke="#c0595a" stroke-width="0.85"/>
<circle cx="333.99" cy="246.66" r="3.2" fill="none" stroke="#c0595a" stroke-width="0.85"/>
<circle cx="340.22" cy="244.74" r="3.2" fill="none" stroke="#c0595a" stroke-width="0.85"/>
<circle cx="346.46" cy="240.89" r="3.2" fill="none" stroke="#c0595a" stroke-width="0.85"/>
<circle cx="362.05" cy="238.97" r="3.2" fill="none" stroke="#c0595a" stroke-width="0.85"/>
<circle cx="377.64" cy="234.65" r="3.2" fill="none" stroke="#c0595a" stroke-width="0.85"/>
<circle cx="393.23" cy="235.01" r="3.2" fill="none" stroke="#c0595a" stroke-width="0.85"/>
<circle cx="408.82" cy="234.65" r="3.2" fill="none" stroke="#c0595a" stroke-width="0.85"/>
<circle cx="424.41" cy="234.65" r="3.2" fill="none" stroke="#c0595a" stroke-width="0.85"/>
<circle cx="440" cy="234.65" r="3.2" fill="none" stroke="#c0595a" stroke-width="0.85"/>
<line x1="350.16" y1="235.37" x2="358.35" y2="235.37" stroke="#808283" stroke-width="0.8"/>
<line x1="381.34" y1="233.46" x2="389.53" y2="234.03" stroke="#808283" stroke-width="0.8"/>
<line x1="412.52" y1="234.41" x2="420.71" y2="234.41" stroke="#808283" stroke-width="0.8"/>
<circle cx="361.9" cy="317.8" r="3.2" fill="none" stroke="#808283" stroke-width="0.85"/>
<circle cx="361.9" cy="340.4" r="3.2" fill="none" stroke="#c0595a" stroke-width="0.85"/>
<text x="373.6" y="320.5" font-size="9.4" text-anchor="start" fill="#2b2122">Bath</text>
<text x="373.6" y="343.4" font-size="9.4" text-anchor="start" fill="#2b2122">200 nM sibanin</text>
<line x1="519.8" y1="223.8" x2="519.8" y2="349.5" stroke="#231f20" stroke-width="1"/>
<line x1="519.3" y1="349" x2="680.7" y2="349" stroke="#231f20" stroke-width="1"/>
<line x1="514.6" y1="223.8" x2="519.8" y2="223.8" stroke="#231f20" stroke-width="1"/>
<text x="512.4" y="227.25" font-size="9.7" text-anchor="end" fill="#2b2122">1.0</text>
<line x1="514.6" y1="254.4" x2="519.8" y2="254.4" stroke="#231f20" stroke-width="1"/>
<text x="512.4" y="257.85" font-size="9.7" text-anchor="end" fill="#2b2122">0.9</text>
<line x1="514.6" y1="284.5" x2="519.8" y2="284.5" stroke="#231f20" stroke-width="1"/>
<text x="512.4" y="287.95" font-size="9.7" text-anchor="end" fill="#2b2122">0.8</text>
<line x1="514.6" y1="314.7" x2="519.8" y2="314.7" stroke="#231f20" stroke-width="1"/>
<text x="512.4" y="318.15" font-size="9.7" text-anchor="end" fill="#2b2122">0.7</text>
<line x1="514.6" y1="344.4" x2="519.8" y2="344.4" stroke="#231f20" stroke-width="1"/>
<text x="512.4" y="347.85" font-size="9.7" text-anchor="end" fill="#2b2122">0.6</text>
<line x1="557" y1="349" x2="557" y2="355.2" stroke="#231f20" stroke-width="1"/>
<text x="557" y="365.9" font-size="9.7" text-anchor="middle" fill="#2b2122">5</text>
<line x1="598" y1="349" x2="598" y2="355.2" stroke="#231f20" stroke-width="1"/>
<text x="598" y="365.9" font-size="9.7" text-anchor="middle" fill="#2b2122">10</text>
<line x1="639" y1="349" x2="639" y2="355.2" stroke="#231f20" stroke-width="1"/>
<text x="639" y="365.9" font-size="9.7" text-anchor="middle" fill="#2b2122">15</text>
<line x1="680" y1="349" x2="680" y2="355.2" stroke="#231f20" stroke-width="1"/>
<text x="680" y="365.9" font-size="9.7" text-anchor="middle" fill="#2b2122">20</text>
<text x="0" y="0" font-size="10.85" text-anchor="middle" fill="#2b2122" transform="translate(492.3,284.5) rotate(-90)" textLength="90.54" lengthAdjust="spacingAndGlyphs">Normalized current</text>
<text x="619.9" y="378.7" font-size="10.85" text-anchor="middle" fill="#2b2122" textLength="66.8" lengthAdjust="spacingAndGlyphs">Pulse number</text>
<polyline points="524.2,224.2 532.4,229 540.6,234.6 548.8,237.3 557,236.9 565.2,237.5 573.4,238.4 581.6,240.1 589.8,240.1 598,240.1 606.2,240 614.4,240.4 622.6,240.4 630.8,242.1 639,242.1 647.2,243 655.4,243.9 663.6,246.6 671.8,246.6 680,248.3" fill="none" stroke="#808283" stroke-width="0.8" stroke-linejoin="round"/>
<line x1="532.4" y1="228" x2="532.4" y2="230" stroke="#808283" stroke-width="0.8"/>
<line x1="530" y1="228" x2="534.8" y2="228" stroke="#808283" stroke-width="0.8"/>
<line x1="530" y1="230" x2="534.8" y2="230" stroke="#808283" stroke-width="0.8"/>
<line x1="540.6" y1="233.3" x2="540.6" y2="235.9" stroke="#808283" stroke-width="0.8"/>
<line x1="538.2" y1="233.3" x2="543" y2="233.3" stroke="#808283" stroke-width="0.8"/>
<line x1="538.2" y1="235.9" x2="543" y2="235.9" stroke="#808283" stroke-width="0.8"/>
<line x1="548.8" y1="235.8" x2="548.8" y2="238.8" stroke="#808283" stroke-width="0.8"/>
<line x1="546.4" y1="235.8" x2="551.2" y2="235.8" stroke="#808283" stroke-width="0.8"/>
<line x1="546.4" y1="238.8" x2="551.2" y2="238.8" stroke="#808283" stroke-width="0.8"/>
<line x1="557" y1="235.3" x2="557" y2="238.5" stroke="#808283" stroke-width="0.8"/>
<line x1="554.6" y1="235.3" x2="559.4" y2="235.3" stroke="#808283" stroke-width="0.8"/>
<line x1="554.6" y1="238.5" x2="559.4" y2="238.5" stroke="#808283" stroke-width="0.8"/>
<line x1="565.2" y1="235.7" x2="565.2" y2="239.3" stroke="#808283" stroke-width="0.8"/>
<line x1="562.8" y1="235.7" x2="567.6" y2="235.7" stroke="#808283" stroke-width="0.8"/>
<line x1="562.8" y1="239.3" x2="567.6" y2="239.3" stroke="#808283" stroke-width="0.8"/>
<line x1="573.4" y1="236.4" x2="573.4" y2="240.4" stroke="#808283" stroke-width="0.8"/>
<line x1="571" y1="236.4" x2="575.8" y2="236.4" stroke="#808283" stroke-width="0.8"/>
<line x1="571" y1="240.4" x2="575.8" y2="240.4" stroke="#808283" stroke-width="0.8"/>
<line x1="581.6" y1="237.6" x2="581.6" y2="242.6" stroke="#808283" stroke-width="0.8"/>
<line x1="579.2" y1="237.6" x2="584" y2="237.6" stroke="#808283" stroke-width="0.8"/>
<line x1="579.2" y1="242.6" x2="584" y2="242.6" stroke="#808283" stroke-width="0.8"/>
<line x1="589.8" y1="237.1" x2="589.8" y2="243.1" stroke="#808283" stroke-width="0.8"/>
<line x1="587.4" y1="237.1" x2="592.2" y2="237.1" stroke="#808283" stroke-width="0.8"/>
<line x1="587.4" y1="243.1" x2="592.2" y2="243.1" stroke="#808283" stroke-width="0.8"/>
<line x1="598" y1="237.1" x2="598" y2="243.1" stroke="#808283" stroke-width="0.8"/>
<line x1="595.6" y1="237.1" x2="600.4" y2="237.1" stroke="#808283" stroke-width="0.8"/>
<line x1="595.6" y1="243.1" x2="600.4" y2="243.1" stroke="#808283" stroke-width="0.8"/>
<line x1="606.2" y1="235.9" x2="606.2" y2="244.1" stroke="#808283" stroke-width="0.8"/>
<line x1="603.8" y1="235.9" x2="608.6" y2="235.9" stroke="#808283" stroke-width="0.8"/>
<line x1="603.8" y1="244.1" x2="608.6" y2="244.1" stroke="#808283" stroke-width="0.8"/>
<line x1="614.4" y1="237.2" x2="614.4" y2="243.6" stroke="#808283" stroke-width="0.8"/>
<line x1="612" y1="237.2" x2="616.8" y2="237.2" stroke="#808283" stroke-width="0.8"/>
<line x1="612" y1="243.6" x2="616.8" y2="243.6" stroke="#808283" stroke-width="0.8"/>
<line x1="622.6" y1="236.7" x2="622.6" y2="244.1" stroke="#808283" stroke-width="0.8"/>
<line x1="620.2" y1="236.7" x2="625" y2="236.7" stroke="#808283" stroke-width="0.8"/>
<line x1="620.2" y1="244.1" x2="625" y2="244.1" stroke="#808283" stroke-width="0.8"/>
<line x1="630.8" y1="237.1" x2="630.8" y2="247.1" stroke="#808283" stroke-width="0.8"/>
<line x1="628.4" y1="237.1" x2="633.2" y2="237.1" stroke="#808283" stroke-width="0.8"/>
<line x1="628.4" y1="247.1" x2="633.2" y2="247.1" stroke="#808283" stroke-width="0.8"/>
<line x1="639" y1="237.6" x2="639" y2="246.6" stroke="#808283" stroke-width="0.8"/>
<line x1="636.6" y1="237.6" x2="641.4" y2="237.6" stroke="#808283" stroke-width="0.8"/>
<line x1="636.6" y1="246.6" x2="641.4" y2="246.6" stroke="#808283" stroke-width="0.8"/>
<line x1="647.2" y1="238.2" x2="647.2" y2="247.8" stroke="#808283" stroke-width="0.8"/>
<line x1="644.8" y1="238.2" x2="649.6" y2="238.2" stroke="#808283" stroke-width="0.8"/>
<line x1="644.8" y1="247.8" x2="649.6" y2="247.8" stroke="#808283" stroke-width="0.8"/>
<line x1="655.4" y1="239" x2="655.4" y2="248.8" stroke="#808283" stroke-width="0.8"/>
<line x1="653" y1="239" x2="657.8" y2="239" stroke="#808283" stroke-width="0.8"/>
<line x1="653" y1="248.8" x2="657.8" y2="248.8" stroke="#808283" stroke-width="0.8"/>
<line x1="663.6" y1="241.4" x2="663.6" y2="251.8" stroke="#808283" stroke-width="0.8"/>
<line x1="661.2" y1="241.4" x2="666" y2="241.4" stroke="#808283" stroke-width="0.8"/>
<line x1="661.2" y1="251.8" x2="666" y2="251.8" stroke="#808283" stroke-width="0.8"/>
<line x1="671.8" y1="241" x2="671.8" y2="252.2" stroke="#808283" stroke-width="0.8"/>
<line x1="669.4" y1="241" x2="674.2" y2="241" stroke="#808283" stroke-width="0.8"/>
<line x1="669.4" y1="252.2" x2="674.2" y2="252.2" stroke="#808283" stroke-width="0.8"/>
<line x1="680" y1="242.3" x2="680" y2="254.3" stroke="#808283" stroke-width="0.8"/>
<line x1="677.6" y1="242.3" x2="682.4" y2="242.3" stroke="#808283" stroke-width="0.8"/>
<line x1="677.6" y1="254.3" x2="682.4" y2="254.3" stroke="#808283" stroke-width="0.8"/>
<circle cx="524.2" cy="224.2" r="3.2" fill="none" stroke="#808283" stroke-width="0.85"/>
<circle cx="532.4" cy="229" r="3.2" fill="none" stroke="#808283" stroke-width="0.85"/>
<circle cx="540.6" cy="234.6" r="3.2" fill="none" stroke="#808283" stroke-width="0.85"/>
<circle cx="548.8" cy="237.3" r="3.2" fill="none" stroke="#808283" stroke-width="0.85"/>
<circle cx="557" cy="236.9" r="3.2" fill="none" stroke="#808283" stroke-width="0.85"/>
<circle cx="565.2" cy="237.5" r="3.2" fill="none" stroke="#808283" stroke-width="0.85"/>
<circle cx="573.4" cy="238.4" r="3.2" fill="none" stroke="#808283" stroke-width="0.85"/>
<circle cx="581.6" cy="240.1" r="3.2" fill="none" stroke="#808283" stroke-width="0.85"/>
<circle cx="589.8" cy="240.1" r="3.2" fill="none" stroke="#808283" stroke-width="0.85"/>
<circle cx="598" cy="240.1" r="3.2" fill="none" stroke="#808283" stroke-width="0.85"/>
<circle cx="606.2" cy="240" r="3.2" fill="none" stroke="#808283" stroke-width="0.85"/>
<circle cx="614.4" cy="240.4" r="3.2" fill="none" stroke="#808283" stroke-width="0.85"/>
<circle cx="622.6" cy="240.4" r="3.2" fill="none" stroke="#808283" stroke-width="0.85"/>
<circle cx="630.8" cy="242.1" r="3.2" fill="none" stroke="#808283" stroke-width="0.85"/>
<circle cx="639" cy="242.1" r="3.2" fill="none" stroke="#808283" stroke-width="0.85"/>
<circle cx="647.2" cy="243" r="3.2" fill="none" stroke="#808283" stroke-width="0.85"/>
<circle cx="655.4" cy="243.9" r="3.2" fill="none" stroke="#808283" stroke-width="0.85"/>
<circle cx="663.6" cy="246.6" r="3.2" fill="none" stroke="#808283" stroke-width="0.85"/>
<circle cx="671.8" cy="246.6" r="3.2" fill="none" stroke="#808283" stroke-width="0.85"/>
<circle cx="680" cy="248.3" r="3.2" fill="none" stroke="#808283" stroke-width="0.85"/>
<polyline points="524.2,224.2 532.4,236.2 540.6,243.2 548.8,244.5 557,248.7 565.2,252.1 573.4,256.2 581.6,257.6 589.8,260.3 598,261.9 606.2,264.5 614.4,265.2 622.6,266.2 630.8,266.9 639,267.7 647.2,269.2 655.4,269.9 663.6,271.2 671.8,272.5 680,274.5" fill="none" stroke="#c0595a" stroke-width="0.8" stroke-linejoin="round"/>
<line x1="532.4" y1="235" x2="532.4" y2="237.4" stroke="#c0595a" stroke-width="0.8"/>
<line x1="530" y1="235" x2="534.8" y2="235" stroke="#c0595a" stroke-width="0.8"/>
<line x1="530" y1="237.4" x2="534.8" y2="237.4" stroke="#c0595a" stroke-width="0.8"/>
<line x1="540.6" y1="241.7" x2="540.6" y2="244.7" stroke="#c0595a" stroke-width="0.8"/>
<line x1="538.2" y1="241.7" x2="543" y2="241.7" stroke="#c0595a" stroke-width="0.8"/>
<line x1="538.2" y1="244.7" x2="543" y2="244.7" stroke="#c0595a" stroke-width="0.8"/>
<line x1="548.8" y1="242.5" x2="548.8" y2="246.5" stroke="#c0595a" stroke-width="0.8"/>
<line x1="546.4" y1="242.5" x2="551.2" y2="242.5" stroke="#c0595a" stroke-width="0.8"/>
<line x1="546.4" y1="246.5" x2="551.2" y2="246.5" stroke="#c0595a" stroke-width="0.8"/>
<line x1="557" y1="245.9" x2="557" y2="251.5" stroke="#c0595a" stroke-width="0.8"/>
<line x1="554.6" y1="245.9" x2="559.4" y2="245.9" stroke="#c0595a" stroke-width="0.8"/>
<line x1="554.6" y1="251.5" x2="559.4" y2="251.5" stroke="#c0595a" stroke-width="0.8"/>
<line x1="565.2" y1="246.3" x2="565.2" y2="257.9" stroke="#c0595a" stroke-width="0.8"/>
<line x1="562.8" y1="246.3" x2="567.6" y2="246.3" stroke="#c0595a" stroke-width="0.8"/>
<line x1="562.8" y1="257.9" x2="567.6" y2="257.9" stroke="#c0595a" stroke-width="0.8"/>
<line x1="573.4" y1="252.5" x2="573.4" y2="259.9" stroke="#c0595a" stroke-width="0.8"/>
<line x1="571" y1="252.5" x2="575.8" y2="252.5" stroke="#c0595a" stroke-width="0.8"/>
<line x1="571" y1="259.9" x2="575.8" y2="259.9" stroke="#c0595a" stroke-width="0.8"/>
<line x1="581.6" y1="253.4" x2="581.6" y2="261.8" stroke="#c0595a" stroke-width="0.8"/>
<line x1="579.2" y1="253.4" x2="584" y2="253.4" stroke="#c0595a" stroke-width="0.8"/>
<line x1="579.2" y1="261.8" x2="584" y2="261.8" stroke="#c0595a" stroke-width="0.8"/>
<line x1="589.8" y1="255.8" x2="589.8" y2="264.8" stroke="#c0595a" stroke-width="0.8"/>
<line x1="587.4" y1="255.8" x2="592.2" y2="255.8" stroke="#c0595a" stroke-width="0.8"/>
<line x1="587.4" y1="264.8" x2="592.2" y2="264.8" stroke="#c0595a" stroke-width="0.8"/>
<line x1="598" y1="258" x2="598" y2="265.8" stroke="#c0595a" stroke-width="0.8"/>
<line x1="595.6" y1="258" x2="600.4" y2="258" stroke="#c0595a" stroke-width="0.8"/>
<line x1="595.6" y1="265.8" x2="600.4" y2="265.8" stroke="#c0595a" stroke-width="0.8"/>
<line x1="606.2" y1="259.8" x2="606.2" y2="269.2" stroke="#c0595a" stroke-width="0.8"/>
<line x1="603.8" y1="259.8" x2="608.6" y2="259.8" stroke="#c0595a" stroke-width="0.8"/>
<line x1="603.8" y1="269.2" x2="608.6" y2="269.2" stroke="#c0595a" stroke-width="0.8"/>
<line x1="614.4" y1="260" x2="614.4" y2="270.4" stroke="#c0595a" stroke-width="0.8"/>
<line x1="612" y1="260" x2="616.8" y2="260" stroke="#c0595a" stroke-width="0.8"/>
<line x1="612" y1="270.4" x2="616.8" y2="270.4" stroke="#c0595a" stroke-width="0.8"/>
<line x1="622.6" y1="261.3" x2="622.6" y2="271.1" stroke="#c0595a" stroke-width="0.8"/>
<line x1="620.2" y1="261.3" x2="625" y2="261.3" stroke="#c0595a" stroke-width="0.8"/>
<line x1="620.2" y1="271.1" x2="625" y2="271.1" stroke="#c0595a" stroke-width="0.8"/>
<line x1="630.8" y1="260.9" x2="630.8" y2="272.9" stroke="#c0595a" stroke-width="0.8"/>
<line x1="628.4" y1="260.9" x2="633.2" y2="260.9" stroke="#c0595a" stroke-width="0.8"/>
<line x1="628.4" y1="272.9" x2="633.2" y2="272.9" stroke="#c0595a" stroke-width="0.8"/>
<line x1="639" y1="261.7" x2="639" y2="273.7" stroke="#c0595a" stroke-width="0.8"/>
<line x1="636.6" y1="261.7" x2="641.4" y2="261.7" stroke="#c0595a" stroke-width="0.8"/>
<line x1="636.6" y1="273.7" x2="641.4" y2="273.7" stroke="#c0595a" stroke-width="0.8"/>
<line x1="647.2" y1="264" x2="647.2" y2="274.4" stroke="#c0595a" stroke-width="0.8"/>
<line x1="644.8" y1="264" x2="649.6" y2="264" stroke="#c0595a" stroke-width="0.8"/>
<line x1="644.8" y1="274.4" x2="649.6" y2="274.4" stroke="#c0595a" stroke-width="0.8"/>
<line x1="655.4" y1="264.3" x2="655.4" y2="275.5" stroke="#c0595a" stroke-width="0.8"/>
<line x1="653" y1="264.3" x2="657.8" y2="264.3" stroke="#c0595a" stroke-width="0.8"/>
<line x1="653" y1="275.5" x2="657.8" y2="275.5" stroke="#c0595a" stroke-width="0.8"/>
<line x1="663.6" y1="265.6" x2="663.6" y2="276.8" stroke="#c0595a" stroke-width="0.8"/>
<line x1="661.2" y1="265.6" x2="666" y2="265.6" stroke="#c0595a" stroke-width="0.8"/>
<line x1="661.2" y1="276.8" x2="666" y2="276.8" stroke="#c0595a" stroke-width="0.8"/>
<line x1="671.8" y1="266.5" x2="671.8" y2="278.5" stroke="#c0595a" stroke-width="0.8"/>
<line x1="669.4" y1="266.5" x2="674.2" y2="266.5" stroke="#c0595a" stroke-width="0.8"/>
<line x1="669.4" y1="278.5" x2="674.2" y2="278.5" stroke="#c0595a" stroke-width="0.8"/>
<line x1="680" y1="269.2" x2="680" y2="279.8" stroke="#c0595a" stroke-width="0.8"/>
<line x1="677.6" y1="269.2" x2="682.4" y2="269.2" stroke="#c0595a" stroke-width="0.8"/>
<line x1="677.6" y1="279.8" x2="682.4" y2="279.8" stroke="#c0595a" stroke-width="0.8"/>
<circle cx="524.2" cy="224.2" r="3.2" fill="none" stroke="#c0595a" stroke-width="0.85"/>
<circle cx="532.4" cy="236.2" r="3.2" fill="none" stroke="#c0595a" stroke-width="0.85"/>
<circle cx="540.6" cy="243.2" r="3.2" fill="none" stroke="#c0595a" stroke-width="0.85"/>
<circle cx="548.8" cy="244.5" r="3.2" fill="none" stroke="#c0595a" stroke-width="0.85"/>
<circle cx="557" cy="248.7" r="3.2" fill="none" stroke="#c0595a" stroke-width="0.85"/>
<circle cx="565.2" cy="252.1" r="3.2" fill="none" stroke="#c0595a" stroke-width="0.85"/>
<circle cx="573.4" cy="256.2" r="3.2" fill="none" stroke="#c0595a" stroke-width="0.85"/>
<circle cx="581.6" cy="257.6" r="3.2" fill="none" stroke="#c0595a" stroke-width="0.85"/>
<circle cx="589.8" cy="260.3" r="3.2" fill="none" stroke="#c0595a" stroke-width="0.85"/>
<circle cx="598" cy="261.9" r="3.2" fill="none" stroke="#c0595a" stroke-width="0.85"/>
<circle cx="606.2" cy="264.5" r="3.2" fill="none" stroke="#c0595a" stroke-width="0.85"/>
<circle cx="614.4" cy="265.2" r="3.2" fill="none" stroke="#c0595a" stroke-width="0.85"/>
<circle cx="622.6" cy="266.2" r="3.2" fill="none" stroke="#c0595a" stroke-width="0.85"/>
<circle cx="630.8" cy="266.9" r="3.2" fill="none" stroke="#c0595a" stroke-width="0.85"/>
<circle cx="639" cy="267.7" r="3.2" fill="none" stroke="#c0595a" stroke-width="0.85"/>
<circle cx="647.2" cy="269.2" r="3.2" fill="none" stroke="#c0595a" stroke-width="0.85"/>
<circle cx="655.4" cy="269.9" r="3.2" fill="none" stroke="#c0595a" stroke-width="0.85"/>
<circle cx="663.6" cy="271.2" r="3.2" fill="none" stroke="#c0595a" stroke-width="0.85"/>
<circle cx="671.8" cy="272.5" r="3.2" fill="none" stroke="#c0595a" stroke-width="0.85"/>
<circle cx="680" cy="274.5" r="3.2" fill="none" stroke="#c0595a" stroke-width="0.85"/>
<circle cx="534.4" cy="318.6" r="3.2" fill="none" stroke="#808283" stroke-width="0.85"/>
<circle cx="534.4" cy="340.9" r="3.2" fill="none" stroke="#c0595a" stroke-width="0.85"/>
<text x="548" y="321.3" font-size="9.4" text-anchor="start" fill="#2b2122">Bath</text>
<text x="548" y="344.3" font-size="9.4" text-anchor="start" fill="#2b2122">200 nM sibanin</text>
</svg>
</body></html>
